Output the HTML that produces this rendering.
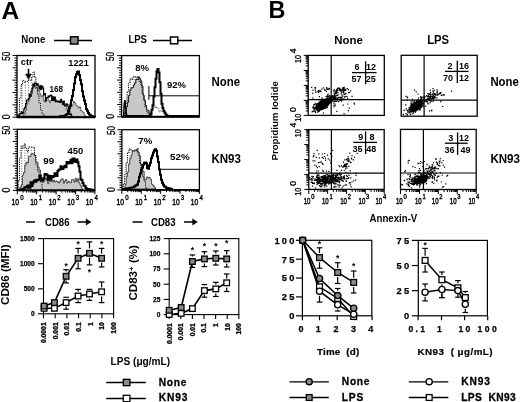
<!DOCTYPE html>
<html><head><meta charset="utf-8"><style>
html,body{margin:0;padding:0;background:#fff;width:520px;height:402px;overflow:hidden}
svg{display:block;will-change:transform}
text{font-family:"Liberation Sans", sans-serif}
</style></head><body>
<svg width="520" height="402" viewBox="0 0 520 402" font-family="Liberation Sans, sans-serif">
<text x="1.5" y="19" font-size="24.5" font-weight="bold" >A</text>
<text x="268.5" y="18" font-size="23.5" font-weight="bold" >B</text>
<text x="21.2" y="43.3" font-size="10" font-weight="bold" textLength="24.2" lengthAdjust="spacingAndGlyphs" >None</text>
<line x1="54" y1="40.5" x2="92" y2="40.5" stroke="#000" stroke-width="1.3" />
<rect x="70.5" y="36.8" width="7.5" height="7.2" fill="#8a8a8a" stroke="#000" stroke-width="1.5" />
<text x="128.5" y="43.3" font-size="10" font-weight="bold" textLength="18.4" lengthAdjust="spacingAndGlyphs" >LPS</text>
<line x1="153" y1="40.5" x2="192" y2="40.5" stroke="#000" stroke-width="1.3" />
<rect x="170.5" y="37" width="7.3" height="6.8" fill="#fff" stroke="#000" stroke-width="1.5" />
<line x1="19.0" y1="117" x2="19.0" y2="113.8" stroke="#555" stroke-width="0.9" stroke-dasharray="1,1.6"/>
<line x1="22.2" y1="117" x2="22.2" y2="84.8" stroke="#555" stroke-width="0.9" stroke-dasharray="1,1.6"/>
<line x1="25.4" y1="117" x2="25.4" y2="82.3" stroke="#555" stroke-width="0.9" stroke-dasharray="1,1.6"/>
<line x1="28.6" y1="117" x2="28.6" y2="79.8" stroke="#555" stroke-width="0.9" stroke-dasharray="1,1.6"/>
<line x1="31.8" y1="117" x2="31.8" y2="77.0" stroke="#555" stroke-width="0.9" stroke-dasharray="1,1.6"/>
<line x1="35.0" y1="117" x2="35.0" y2="77.3" stroke="#555" stroke-width="0.9" stroke-dasharray="1,1.6"/>
<line x1="38.2" y1="117" x2="38.2" y2="94.6" stroke="#555" stroke-width="0.9" stroke-dasharray="1,1.6"/>
<line x1="41.4" y1="117" x2="41.4" y2="109.8" stroke="#555" stroke-width="0.9" stroke-dasharray="1,1.6"/>
<line x1="44.6" y1="117" x2="44.6" y2="115.3" stroke="#555" stroke-width="0.9" stroke-dasharray="1,1.6"/>
<polygon points="23,117 23,115.04 24.2,115.04 24.2,113.8 25.4,113.8 25.4,110.32 26.6,110.32 26.6,104.18 27.8,104.18 27.8,101.78 29.0,101.78 29.0,98.25 30.2,98.25 30.2,96.26 31.4,96.26 31.4,93.94 32.6,93.94 32.6,87.57 33.8,87.57 33.8,84.84 35.0,84.84 35.0,88.28 36.2,88.28 36.2,87.46 37.4,87.46 37.4,91.31 38.6,91.31 38.6,89.81 39.8,89.81 39.8,93.83 41.0,93.83 41.0,96.71 42.2,96.71 42.2,95.44 43.4,95.44 43.4,100.73 44.6,100.73 44.6,102.01 45.8,102.01 45.8,97.65 47.0,97.65 47.0,97.63 48.2,97.63 48.2,100.41 49.4,100.41 49.4,102.7 50.6,102.7 50.6,100.21 51.8,100.21 51.8,99.58 53.0,99.58 53.0,100.61 54.2,100.61 54.2,98.65 55.4,98.65 55.4,99.61 56.6,99.61 56.6,101.29 57.8,101.29 57.8,102.18 59.0,102.18 59.0,101.47 60.2,101.47 60.2,101.85 61.4,101.85 61.4,102.09 62.6,102.09 62.6,103.6 63.8,103.6 63.8,103.75 65.0,103.75 65.0,104.81 66.2,104.81 66.2,109.69 67.4,109.69 67.4,108.28 68.6,108.28 68.6,106.91 69.8,106.91 69.8,103.16 71.0,103.16 71.0,106.4 72.2,106.4 72.2,104.93 73.4,104.93 73.4,101.44 74.6,101.44 74.6,102.9 75.8,102.9 75.8,105.37 77.0,105.37 77.0,106.12 78.2,106.12 78.2,108.05 79.4,108.05 79.4,106.94 80.6,106.94 80.6,110.58 81.8,110.58 81.8,111.65 83.0,111.65 83.0,112.58 84.2,112.58 84.2,115.33 85.4,115.33 86,117" fill="#c8c8c8" stroke="#333" stroke-width="0.7" stroke-linejoin="miter" />
<polyline points="18,117 18,113.75 19.5,113.75 19.5,98.24 21.0,98.24 21.0,84.78 22.5,84.78 22.5,80.42 24.0,80.42 24.0,82.3 25.5,82.3 25.5,81.24 27.0,81.24 27.0,81.29 28.5,81.29 28.5,79.85 30.0,79.85 30.0,80.4 31.5,80.4 31.5,77.0 33.0,77.0 33.0,71.91 34.5,71.91 34.5,77.29 36.0,77.29 36.0,87.4 37.5,87.4 37.5,94.59 39.0,94.59 39.0,102.99 40.5,102.99 40.5,109.85 42.0,109.85 42.0,113.79 43.5,113.79 43.5,115.31 45.0,115.31 45.0,116.74 46,116.74 46,117" fill="none" stroke="#111" stroke-width="1.0" stroke-linejoin="miter" stroke-dasharray="1.2,1"/>
<polyline points="17.5,117 17.5,116.2 18.4,116.2 18.4,115.54 19.3,115.54 19.3,114.78 20.2,114.78 20.2,113.69 21.1,113.69 21.1,111.88 22.0,111.88 22.0,113.62 22.9,113.62 22.9,112.59 23.8,112.59 23.8,109.07 24.7,109.07 24.7,107.29 25.6,107.29 25.6,103.77 26.5,103.77 26.5,100.07 27.4,100.07 27.4,99.96 28.3,99.96 28.3,98.94 29.2,98.94 29.2,93.99 30.1,93.99 30.1,96.51 31.0,96.51 31.0,91.31 31.9,91.31 31.9,88.64 32.8,88.64 32.8,83.97 33.7,83.97 33.7,86.18 34.6,86.18 34.6,83.16 35.5,83.16 35.5,83.39 36.4,83.39 36.4,85.08 37.3,85.08 37.3,83.79 38.2,83.79 38.2,86.73 39.1,86.73 39.1,88.92 40.0,88.92 40.0,85.63 40.9,85.63 40.9,89.52 41.8,89.52 41.8,86.11 42.7,86.11 42.7,88.07 43.6,88.07 43.6,94.96 44.5,94.96 44.5,93.5 45.4,93.5 45.4,100.84 46.3,100.84 46.3,97.54 47.2,97.54 47.2,97.69 48.1,97.69 48.1,95.98 49.0,95.98 49.0,97.01 49.9,97.01 49.9,95.65 50.8,95.65 50.8,95.17 51.7,95.17 51.7,100.52 52.6,100.52 52.6,96.87 53.5,96.87 53.5,100.28 54.4,100.28 54.4,96.99 55.3,96.99 55.3,101.7 56.2,101.7 56.2,101.44 57.1,101.44 57.1,101.09 58.0,101.09 58.0,101.62 58.9,101.62 58.9,101.0 59.8,101.0 59.8,102.38 60.7,102.38 60.7,99.21 61.6,99.21 61.6,101.76 62.5,101.76 62.5,104.3 63.4,104.3 63.4,100.97 64.3,100.97 64.3,105.74 65.2,105.74 65.2,105.95 66.1,105.95 66.1,103.94 67.0,103.94 67.0,104.62 67.9,104.62 67.9,106.76 68.8,106.76 68.8,109.06 69.7,109.06 69.7,114.64 70.6,114.64 70.6,114.06 71.5,114.06 71.5,116.1 72,116.1 72,117" fill="none" stroke="#000" stroke-width="1.15" stroke-linejoin="miter" />
<polyline points="60,117 60,116.37 61.0,116.37 61.0,116.26 62.0,116.26 62.0,116.04 63.0,116.04 63.0,115.95 64.0,115.95 64.0,115.8 65.0,115.8 65.0,115.38 66.0,115.38 66.0,114.53 67.0,114.53 67.0,114.0 68.0,114.0 68.0,111.06 69.0,111.06 69.0,107.97 70.0,107.97 70.0,105.74 71.0,105.74 71.0,100.19 72.0,100.19 72.0,96.01 73.0,96.01 73.0,89.95 74.0,89.95 74.0,83.61 75.0,83.61 75.0,77.3 76.0,77.3 76.0,74.27 77.0,74.27 77.0,72.04 78.0,72.04 78.0,71.42 79.0,71.42 79.0,74.98 80.0,74.98 80.0,80.01 81.0,80.01 81.0,84.35 82.0,84.35 82.0,91.27 83.0,91.27 83.0,96.43 84.0,96.43 84.0,100.6 85.0,100.6 85.0,104.06 86.0,104.06 86.0,108.98 87.0,108.98 87.0,110.7 88.0,110.7 88.0,113.06 89.0,113.06 89.0,114.6 90.0,114.6 90.0,115.37 91.0,115.37 91.0,115.93 92.0,115.93 92.0,116.22 93.0,116.22 93.0,116.66 94.0,116.66 94.0,116.87 95.0,116.87 95,117" fill="none" stroke="#000" stroke-width="2.0" stroke-linejoin="miter" />
<line x1="17.5" y1="116.6" x2="66" y2="116.6" stroke="#000" stroke-width="1.6" />
<line x1="124.5" y1="116.5" x2="124.5" y2="112.7" stroke="#555" stroke-width="0.9" stroke-dasharray="1,1.6"/>
<line x1="127.7" y1="116.5" x2="127.7" y2="91.5" stroke="#555" stroke-width="0.9" stroke-dasharray="1,1.6"/>
<line x1="130.9" y1="116.5" x2="130.9" y2="78.8" stroke="#555" stroke-width="0.9" stroke-dasharray="1,1.6"/>
<line x1="134.1" y1="116.5" x2="134.1" y2="76.4" stroke="#555" stroke-width="0.9" stroke-dasharray="1,1.6"/>
<line x1="137.3" y1="116.5" x2="137.3" y2="77.8" stroke="#555" stroke-width="0.9" stroke-dasharray="1,1.6"/>
<line x1="140.5" y1="116.5" x2="140.5" y2="81.4" stroke="#555" stroke-width="0.9" stroke-dasharray="1,1.6"/>
<line x1="143.7" y1="116.5" x2="143.7" y2="99.7" stroke="#555" stroke-width="0.9" stroke-dasharray="1,1.6"/>
<line x1="146.9" y1="116.5" x2="146.9" y2="111.5" stroke="#555" stroke-width="0.9" stroke-dasharray="1,1.6"/>
<polygon points="125,116.5 125,113.39 126.2,113.39 126.2,106.87 127.4,106.87 127.4,102.48 128.6,102.48 128.6,95.47 129.8,95.47 129.8,90.23 131.0,90.23 131.0,88.01 132.2,88.01 132.2,87.59 133.4,87.59 133.4,85.0 134.6,85.0 134.6,83.13 135.8,83.13 135.8,79.21 137.0,79.21 137.0,79.58 138.2,79.58 138.2,77.08 139.4,77.08 139.4,78.36 140.6,78.36 140.6,80.83 141.8,80.83 141.8,86.17 143.0,86.17 143.0,95.14 144.2,95.14 144.2,100.64 145.4,100.64 145.4,105.53 146.6,105.53 146.6,110.0 147.8,110.0 147.8,110.22 149.0,110.22 149.0,113.66 150.2,113.66 150.2,116.19 151,116.19 151,116.5" fill="#c8c8c8" stroke="#111" stroke-width="1.0" stroke-linejoin="miter" />
<polyline points="124,116.5 124,112.69 125.5,112.69 125.5,103.21 127.0,103.21 127.0,91.48 128.5,91.48 128.5,83.21 130.0,83.21 130.0,78.82 131.5,78.82 131.5,79.36 133.0,79.36 133.0,76.4 134.5,76.4 134.5,76.95 136.0,76.95 136.0,77.84 137.5,77.84 137.5,76.37 139.0,76.37 139.0,81.38 140.5,81.38 140.5,84.32 142.0,84.32 142.0,93.6 143.5,93.6 143.5,99.73 145.0,99.73 145.0,107.22 146.5,107.22 146.5,111.46 148.0,111.46 148.0,113.42 149.5,113.42 150,116.5" fill="none" stroke="#111" stroke-width="1.0" stroke-linejoin="miter" stroke-dasharray="1.2,1"/>
<polyline points="148,116.5 148,115.78 149.2,115.78 149.2,114.38 150.4,114.38 150.4,111.96 151.6,111.96 151.6,109.45 152.8,109.45 152.8,106.8 154.0,106.8 154.0,108.05 155.2,108.05 155.2,106.08 156.4,106.08 156.4,108.04 157.6,108.04 157.6,107.89 158.8,107.89 158.8,111.83 160.0,111.83 160.0,110.63 161.2,110.63 161.2,111.41 162.4,111.41 162.4,111.84 163.6,111.84 163.6,111.95 164.8,111.95 164.8,113.54 166.0,113.54 166.0,115.06 167.2,115.06 167.2,116.22 168,116.22 168,116.5" fill="none" stroke="#555" stroke-width="0.8" stroke-linejoin="miter" stroke-dasharray="1.2,0.8"/>
<polyline points="123.5,116 123.5,116 124.5,116 124.5,116 125.5,116 125.5,116 126.5,116 126.5,116 127.5,116 127.5,116 128.5,116 128.5,116 129.5,116 129.5,116 130.5,116 130.5,116 131.5,116 131.5,116 132.5,116 132.5,116 133.5,116 133.5,116 134.5,116 134.5,116 135.5,116 135.5,116 136.5,116 136.5,116 137.5,116 137.5,116 138.5,116 138.5,116 139.5,116 139.5,116 140.5,116 140.5,116 141.5,116 141.5,116 142.5,116 142.5,116 143.5,116 143.5,116 144.5,116 144.5,116 145.5,116 145.5,116 146.5,116 146.5,116 147.5,116 147.5,116 148.5,116 148.5,116 149.5,116 149.5,116 150.5,116 150.5,114.21 151.5,114.21 151.5,109.73 152.5,109.73 152.5,105.16 153.5,105.16 153.5,96.61 154.5,96.61 154.5,87.13 155.5,87.13 155.5,78.76 156.5,78.76 156.5,71.13 157.5,71.13 157.5,69.12 158.5,69.12 158.5,72.41 159.5,72.41 159.5,82.36 160.5,82.36 160.5,93.86 161.5,93.86 161.5,103.63 162.5,103.63 162.5,108.17 163.5,108.17 163.5,110.92 164.5,110.92 164.5,112.8 165.5,112.8 165.5,114.56 166.5,114.56 166.5,115.25 167.5,115.25 167.5,116 168.5,116 168.5,116 169.5,116 169.5,116 170.5,116 170.5,116 171.5,116 171.5,116 172.5,116 172.5,116 173.5,116 173.5,116 174.5,116 174.5,116 175.5,116 175.5,116 176.5,116 176.5,116 177.5,116 177.5,116 178.5,116 178.5,116 179.5,116 179.5,116 180.5,116 180.5,116 181.5,116 181.5,116 182.5,116 182.5,116 183.5,116 183.5,116 184.5,116 184.5,116 185.5,116 185.5,116 186.5,116 186.5,116 187.5,116 187.5,116 188.5,116 188.5,116 189.5,116 189.5,116 190.5,116 190.5,116 191.5,116 191.5,116 192.5,116 192.5,116 193.5,116 193.5,116 194.5,116 194.5,116 195.5,116 195.5,116 196.5,116 196.5,116 197.5,116 197.5,116 198.5,116 198.5,116 199,116 199,116" fill="none" stroke="#000" stroke-width="2.0" stroke-linejoin="miter" />
<polyline points="123.6,116.5 124.2,104 125,100 126,112 127,116.5" fill="none" stroke="#000" stroke-width="1.5" stroke-linejoin="miter" />
<line x1="148.5" y1="95.8" x2="199.4" y2="95.8" stroke="#000" stroke-width="1" />
<line x1="148.9" y1="86" x2="148.9" y2="100" stroke="#000" stroke-width="1" />
<line x1="18.5" y1="190" x2="18.5" y2="180.8" stroke="#555" stroke-width="0.9" stroke-dasharray="1,1.6"/>
<line x1="21.7" y1="190" x2="21.7" y2="145.8" stroke="#555" stroke-width="0.9" stroke-dasharray="1,1.6"/>
<line x1="24.9" y1="190" x2="24.9" y2="143.9" stroke="#555" stroke-width="0.9" stroke-dasharray="1,1.6"/>
<line x1="28.1" y1="190" x2="28.1" y2="151.8" stroke="#555" stroke-width="0.9" stroke-dasharray="1,1.6"/>
<line x1="31.3" y1="190" x2="31.3" y2="146.8" stroke="#555" stroke-width="0.9" stroke-dasharray="1,1.6"/>
<line x1="34.5" y1="190" x2="34.5" y2="147.2" stroke="#555" stroke-width="0.9" stroke-dasharray="1,1.6"/>
<line x1="37.7" y1="190" x2="37.7" y2="171.0" stroke="#555" stroke-width="0.9" stroke-dasharray="1,1.6"/>
<line x1="40.9" y1="190" x2="40.9" y2="181.8" stroke="#555" stroke-width="0.9" stroke-dasharray="1,1.6"/>
<polygon points="20,190 20,187.05 21.2,187.05 21.2,185.11 22.4,185.11 22.4,175.13 23.6,175.13 23.6,172.32 24.8,172.32 24.8,165.03 26.0,165.03 26.0,162.24 27.2,162.24 27.2,163.0 28.4,163.0 28.4,156.55 29.6,156.55 29.6,156.51 30.8,156.51 30.8,154.4 32.0,154.4 32.0,153.57 33.2,153.57 33.2,154.17 34.4,154.17 34.4,155.46 35.6,155.46 35.6,162.25 36.8,162.25 36.8,162.35 38.0,162.35 38.0,167.27 39.2,167.27 39.2,170.0 40.4,170.0 40.4,174.83 41.6,174.83 41.6,177.94 42.8,177.94 42.8,182.09 44.0,182.09 44.0,179.72 45.2,179.72 45.2,178.63 46.4,178.63 46.4,179.59 47.6,179.59 47.6,183.46 48.8,183.46 48.8,178.82 50.0,178.82 50.0,181.6 51.2,181.6 51.2,180.39 52.4,180.39 52.4,181.8 53.6,181.8 53.6,180.19 54.8,180.19 54.8,181.96 56.0,181.96 56.0,180.99 57.2,180.99 57.2,181.75 58.4,181.75 58.4,183.01 59.6,183.01 59.6,181.41 60.8,181.41 60.8,179.21 62.0,179.21 62.0,178.82 63.2,178.82 63.2,183.23 64.4,183.23 64.4,180.94 65.6,180.94 65.6,179.47 66.8,179.47 66.8,183.23 68.0,183.23 68.0,181.39 69.2,181.39 69.2,182.14 70.4,182.14 70.4,182.74 71.6,182.74 71.6,179.56 72.8,179.56 72.8,179.72 74.0,179.72 74.0,182.12 75.2,182.12 75.2,178.21 76.4,178.21 76.4,181.65 77.6,181.65 77.6,178.72 78.8,178.72 78.8,182.75 80.0,182.75 80.0,185.18 81.2,185.18 81.2,188.12 82.4,188.12 83,190" fill="#c8c8c8" stroke="#222" stroke-width="0.8" stroke-linejoin="miter" />
<polyline points="18,190 18,180.78 19.5,180.78 19.5,158.24 21.0,158.24 21.0,145.83 22.5,145.83 22.5,148.5 24.0,148.5 24.0,143.94 25.5,143.94 25.5,148.27 27.0,148.27 27.0,151.76 28.5,151.76 28.5,146.98 30.0,146.98 30.0,146.83 31.5,146.83 31.5,147.32 33.0,147.32 33.0,147.25 34.5,147.25 34.5,155.52 36.0,155.52 36.0,164.97 37.5,164.97 37.5,170.96 39.0,170.96 39.0,179.35 40.5,179.35 40.5,181.82 42.0,181.82 42.0,188.9 43,188.9 43,190" fill="none" stroke="#111" stroke-width="1.0" stroke-linejoin="miter" stroke-dasharray="1.2,1"/>
<polyline points="17.5,190 17.5,189.93 18.5,189.93 18.5,189.77 19.5,189.77 19.5,189.67 20.5,189.67 20.5,189.35 21.5,189.35 21.5,189.4 22.5,189.4 22.5,189.15 23.5,189.15 23.5,188.62 24.5,188.62 24.5,187.32 25.5,187.32 25.5,187.55 26.5,187.55 26.5,186.48 27.5,186.48 27.5,185.62 28.5,185.62 28.5,187.76 29.5,187.76 29.5,187.63 30.5,187.63 30.5,182.14 31.5,182.14 31.5,185.96 32.5,185.96 32.5,183.62 33.5,183.62 33.5,181.54 34.5,181.54 34.5,180.2 35.5,180.2 35.5,181.75 36.5,181.75 36.5,179.64 37.5,179.64 37.5,180.32 38.5,180.32 38.5,179.57 39.5,179.57 39.5,175.8 40.5,175.8 40.5,179.41 41.5,179.41 41.5,180.49 42.5,180.49 42.5,180.22 43.5,180.22 43.5,177.88 44.5,177.88 44.5,174.27 45.5,174.27 45.5,174.02 46.5,174.02 46.5,174.8 47.5,174.8 47.5,179.65 48.5,179.65 48.5,175.82 49.5,175.82 49.5,176.2 50.5,176.2 50.5,179.39 51.5,179.39 51.5,175.89 52.5,175.89 52.5,177.29 53.5,177.29 53.5,176.22 54.5,176.22 54.5,173.19 55.5,173.19 55.5,175.51 56.5,175.51 56.5,176.06 57.5,176.06 57.5,170.94 58.5,170.94 58.5,169.85 59.5,169.85 59.5,169.48 60.5,169.48 60.5,166.22 61.5,166.22 61.5,167.98 62.5,167.98 62.5,168.91 63.5,168.91 63.5,166.95 64.5,166.95 64.5,165.7 65.5,165.7 65.5,167.13 66.5,167.13 66.5,161.9 67.5,161.9 67.5,163.4 68.5,163.4 68.5,162.0 69.5,162.0 69.5,163.11 70.5,163.11 70.5,159.68 71.5,159.68 71.5,163.15 72.5,163.15 72.5,158.58 73.5,158.58 73.5,158.5 74.5,158.5 74.5,161.62 75.5,161.62 75.5,162.02 76.5,162.02 76.5,159.6 77.5,159.6 77.5,162.48 78.5,162.48 78.5,166.35 79.5,166.35 79.5,171.65 80.5,171.65 80.5,179.2 81.5,179.2 81.5,180.16 82.5,180.16 82.5,182.96 83.5,182.96 83.5,185.72 84.5,185.72 84.5,185.86 85.5,185.86 85.5,188.12 86.5,188.12 86.5,188.79 87.5,188.79 87.5,189.02 88.5,189.02 88.5,189.05 89.5,189.05 89.5,189.42 90.5,189.42 90.5,189.6 91.5,189.6 91.5,189.63 92.5,189.63 92.5,189.9 93.5,189.9 93.5,190 94,190 94,190" fill="none" stroke="#000" stroke-width="2.0" stroke-linejoin="miter" />
<line x1="123.5" y1="189.5" x2="123.5" y2="184.4" stroke="#555" stroke-width="0.9" stroke-dasharray="1,1.6"/>
<line x1="126.7" y1="189.5" x2="126.7" y2="162.8" stroke="#555" stroke-width="0.9" stroke-dasharray="1,1.6"/>
<line x1="129.9" y1="189.5" x2="129.9" y2="148.8" stroke="#555" stroke-width="0.9" stroke-dasharray="1,1.6"/>
<line x1="133.1" y1="189.5" x2="133.1" y2="150.6" stroke="#555" stroke-width="0.9" stroke-dasharray="1,1.6"/>
<line x1="136.3" y1="189.5" x2="136.3" y2="149.7" stroke="#555" stroke-width="0.9" stroke-dasharray="1,1.6"/>
<line x1="139.5" y1="189.5" x2="139.5" y2="155.5" stroke="#555" stroke-width="0.9" stroke-dasharray="1,1.6"/>
<line x1="142.7" y1="189.5" x2="142.7" y2="176.7" stroke="#555" stroke-width="0.9" stroke-dasharray="1,1.6"/>
<line x1="145.9" y1="189.5" x2="145.9" y2="187.8" stroke="#555" stroke-width="0.9" stroke-dasharray="1,1.6"/>
<polygon points="125,189 125,184.63 126.2,184.63 126.2,176.7 127.4,176.7 127.4,172.12 128.6,172.12 128.6,163.93 129.8,163.93 129.8,158.74 131.0,158.74 131.0,155.24 132.2,155.24 132.2,150.82 133.4,150.82 133.4,151.06 134.6,151.06 134.6,150.55 135.8,150.55 135.8,150.76 137.0,150.76 137.0,148.47 138.2,148.47 138.2,152.52 139.4,152.52 139.4,155.95 140.6,155.95 140.6,164.55 141.8,164.55 141.8,169.97 143.0,169.97 143.0,171.51 144.2,171.51 144.2,179.81 145.4,179.81 145.4,179.32 146.6,179.32 146.6,176.97 147.8,176.97 147.8,177.98 149.0,177.98 149.0,177.49 150.2,177.49 150.2,179.18 151.4,179.18 151.4,184.12 152.6,184.12 152.6,185.17 153.8,185.17 153.8,186.99 155.0,186.99 155.0,188.51 156,188.51 156,189" fill="#c8c8c8" stroke="#222" stroke-width="0.8" stroke-linejoin="miter" />
<polyline points="123,189 123,184.4 124.5,184.4 124.5,174.79 126.0,174.79 126.0,162.83 127.5,162.83 127.5,152.21 129.0,152.21 129.0,148.8 130.5,148.8 130.5,149.62 132.0,149.62 132.0,150.62 133.5,150.62 133.5,151.05 135.0,151.05 135.0,149.7 136.5,149.7 136.5,151.26 138.0,151.26 138.0,155.54 139.5,155.54 139.5,163.06 141.0,163.06 141.0,167.98 142.5,167.98 142.5,176.7 144.0,176.7 144.0,181.31 145.5,181.31 145.5,187.76 147.0,187.76 147,189" fill="none" stroke="#111" stroke-width="1.0" stroke-linejoin="miter" stroke-dasharray="1.2,1"/>
<polyline points="123,189 123,188.92 124.0,188.92 124.0,188.8 125.0,188.8 125.0,188.67 126.0,188.67 126.0,188.57 127.0,188.57 127.0,188.28 128.0,188.28 128.0,188.13 129.0,188.13 129.0,187.94 130.0,187.94 130.0,187.75 131.0,187.75 131.0,187.75 132.0,187.75 132.0,187.13 133.0,187.13 133.0,187.15 134.0,187.15 134.0,186.4 135.0,186.4 135.0,185.75 136.0,185.75 136.0,185.23 137.0,185.23 137.0,184.46 138.0,184.46 138.0,181.51 139.0,181.51 139.0,176.83 140.0,176.83 140.0,173.46 141.0,173.46 141.0,169.4 142.0,169.4 142.0,167.64 143.0,167.64 143.0,164.74 144.0,164.74 144.0,162.73 145.0,162.73 145.0,162.45 146.0,162.45 146.0,163.59 147.0,163.59 147.0,168.08 148.0,168.08 148.0,168.71 149.0,168.71 149.0,165.42 150.0,165.42 150.0,162.84 151.0,162.84 151.0,158.3 152.0,158.3 152.0,155.61 153.0,155.61 153.0,152.49 154.0,152.49 154.0,150.33 155.0,150.33 155.0,149.17 156.0,149.17 156.0,150.83 157.0,150.83 157.0,156.55 158.0,156.55 158.0,162.08 159.0,162.08 159.0,169.43 160.0,169.43 160.0,174.72 161.0,174.72 161.0,179.83 162.0,179.83 162.0,182.71 163.0,182.71 163.0,184.84 164.0,184.84 164.0,186.6 165.0,186.6 165.0,186.71 166.0,186.71 166.0,187.76 167.0,187.76 167.0,188.08 168.0,188.08 168.0,188.21 169.0,188.21 169.0,188.44 170.0,188.44 170.0,188.7 171.0,188.7 171.0,188.89 172.0,188.89 172,189" fill="none" stroke="#000" stroke-width="2.0" stroke-linejoin="miter" />
<line x1="158" y1="169.3" x2="199.4" y2="169.3" stroke="#000" stroke-width="1" />
<rect x="17" y="55.5" width="78" height="61.7" fill="none" stroke="#000" stroke-width="1.3" />
<line x1="17" y1="117.2" x2="95" y2="117.2" stroke="#000" stroke-width="1.9" />
<line x1="12.5" y1="117.2" x2="17" y2="117.2" stroke="#000" stroke-width="1" />
<line x1="14.5" y1="114.732" x2="17" y2="114.732" stroke="#000" stroke-width="1" />
<line x1="14.5" y1="112.26400000000001" x2="17" y2="112.26400000000001" stroke="#000" stroke-width="1" />
<line x1="14.5" y1="109.796" x2="17" y2="109.796" stroke="#000" stroke-width="1" />
<line x1="14.5" y1="107.328" x2="17" y2="107.328" stroke="#000" stroke-width="1" />
<line x1="12.5" y1="104.86" x2="17" y2="104.86" stroke="#000" stroke-width="1" />
<line x1="14.5" y1="102.392" x2="17" y2="102.392" stroke="#000" stroke-width="1" />
<line x1="14.5" y1="99.924" x2="17" y2="99.924" stroke="#000" stroke-width="1" />
<line x1="14.5" y1="97.456" x2="17" y2="97.456" stroke="#000" stroke-width="1" />
<line x1="14.5" y1="94.988" x2="17" y2="94.988" stroke="#000" stroke-width="1" />
<line x1="12.5" y1="92.52000000000001" x2="17" y2="92.52000000000001" stroke="#000" stroke-width="1" />
<line x1="14.5" y1="90.05199999999999" x2="17" y2="90.05199999999999" stroke="#000" stroke-width="1" />
<line x1="14.5" y1="87.584" x2="17" y2="87.584" stroke="#000" stroke-width="1" />
<line x1="14.5" y1="85.116" x2="17" y2="85.116" stroke="#000" stroke-width="1" />
<line x1="14.5" y1="82.648" x2="17" y2="82.648" stroke="#000" stroke-width="1" />
<line x1="12.5" y1="80.18" x2="17" y2="80.18" stroke="#000" stroke-width="1" />
<line x1="14.5" y1="77.712" x2="17" y2="77.712" stroke="#000" stroke-width="1" />
<line x1="14.5" y1="75.244" x2="17" y2="75.244" stroke="#000" stroke-width="1" />
<line x1="14.5" y1="72.776" x2="17" y2="72.776" stroke="#000" stroke-width="1" />
<line x1="14.5" y1="70.308" x2="17" y2="70.308" stroke="#000" stroke-width="1" />
<line x1="12.5" y1="67.84" x2="17" y2="67.84" stroke="#000" stroke-width="1" />
<line x1="14.5" y1="65.372" x2="17" y2="65.372" stroke="#000" stroke-width="1" />
<line x1="14.5" y1="62.903999999999996" x2="17" y2="62.903999999999996" stroke="#000" stroke-width="1" />
<line x1="14.5" y1="60.436" x2="17" y2="60.436" stroke="#000" stroke-width="1" />
<line x1="14.5" y1="57.967999999999996" x2="17" y2="57.967999999999996" stroke="#000" stroke-width="1" />
<line x1="12.5" y1="55.5" x2="17" y2="55.5" stroke="#000" stroke-width="1" />
<text x="9.8" y="60.8" font-size="10.5" stroke="#000" stroke-width="0.3" textLength="8.9" lengthAdjust="spacingAndGlyphs" transform="rotate(-90 9.8 60.8)" >50</text>
<text x="9.8" y="119.2" font-size="10.5" stroke="#000" stroke-width="0.3" textLength="4.9" lengthAdjust="spacingAndGlyphs" transform="rotate(-90 9.8 119.2)" >0</text>
<rect x="121.6" y="55.6" width="77.80000000000001" height="61.199999999999996" fill="none" stroke="#000" stroke-width="1.3" />
<line x1="121.6" y1="116.8" x2="199.4" y2="116.8" stroke="#000" stroke-width="1.9" />
<line x1="117.1" y1="116.8" x2="121.6" y2="116.8" stroke="#000" stroke-width="1" />
<line x1="119.1" y1="114.352" x2="121.6" y2="114.352" stroke="#000" stroke-width="1" />
<line x1="119.1" y1="111.904" x2="121.6" y2="111.904" stroke="#000" stroke-width="1" />
<line x1="119.1" y1="109.456" x2="121.6" y2="109.456" stroke="#000" stroke-width="1" />
<line x1="119.1" y1="107.008" x2="121.6" y2="107.008" stroke="#000" stroke-width="1" />
<line x1="117.1" y1="104.56" x2="121.6" y2="104.56" stroke="#000" stroke-width="1" />
<line x1="119.1" y1="102.112" x2="121.6" y2="102.112" stroke="#000" stroke-width="1" />
<line x1="119.1" y1="99.664" x2="121.6" y2="99.664" stroke="#000" stroke-width="1" />
<line x1="119.1" y1="97.216" x2="121.6" y2="97.216" stroke="#000" stroke-width="1" />
<line x1="119.1" y1="94.768" x2="121.6" y2="94.768" stroke="#000" stroke-width="1" />
<line x1="117.1" y1="92.32" x2="121.6" y2="92.32" stroke="#000" stroke-width="1" />
<line x1="119.1" y1="89.872" x2="121.6" y2="89.872" stroke="#000" stroke-width="1" />
<line x1="119.1" y1="87.424" x2="121.6" y2="87.424" stroke="#000" stroke-width="1" />
<line x1="119.1" y1="84.976" x2="121.6" y2="84.976" stroke="#000" stroke-width="1" />
<line x1="119.1" y1="82.52799999999999" x2="121.6" y2="82.52799999999999" stroke="#000" stroke-width="1" />
<line x1="117.1" y1="80.08" x2="121.6" y2="80.08" stroke="#000" stroke-width="1" />
<line x1="119.1" y1="77.632" x2="121.6" y2="77.632" stroke="#000" stroke-width="1" />
<line x1="119.1" y1="75.184" x2="121.6" y2="75.184" stroke="#000" stroke-width="1" />
<line x1="119.1" y1="72.736" x2="121.6" y2="72.736" stroke="#000" stroke-width="1" />
<line x1="119.1" y1="70.288" x2="121.6" y2="70.288" stroke="#000" stroke-width="1" />
<line x1="117.1" y1="67.84" x2="121.6" y2="67.84" stroke="#000" stroke-width="1" />
<line x1="119.1" y1="65.392" x2="121.6" y2="65.392" stroke="#000" stroke-width="1" />
<line x1="119.1" y1="62.944" x2="121.6" y2="62.944" stroke="#000" stroke-width="1" />
<line x1="119.1" y1="60.496" x2="121.6" y2="60.496" stroke="#000" stroke-width="1" />
<line x1="119.1" y1="58.048" x2="121.6" y2="58.048" stroke="#000" stroke-width="1" />
<line x1="117.1" y1="55.599999999999994" x2="121.6" y2="55.599999999999994" stroke="#000" stroke-width="1" />
<text x="114.39999999999999" y="60.9" font-size="10.5" stroke="#000" stroke-width="0.3" textLength="8.9" lengthAdjust="spacingAndGlyphs" transform="rotate(-90 114.39999999999999 60.9)" >50</text>
<text x="114.39999999999999" y="118.8" font-size="10.5" stroke="#000" stroke-width="0.3" textLength="4.9" lengthAdjust="spacingAndGlyphs" transform="rotate(-90 114.39999999999999 118.8)" >0</text>
<rect x="17.3" y="129.3" width="77.60000000000001" height="61.099999999999994" fill="none" stroke="#000" stroke-width="1.3" />
<line x1="17.3" y1="190.4" x2="94.9" y2="190.4" stroke="#000" stroke-width="1.9" />
<line x1="12.8" y1="190.4" x2="17.3" y2="190.4" stroke="#000" stroke-width="1" />
<line x1="14.8" y1="187.95600000000002" x2="17.3" y2="187.95600000000002" stroke="#000" stroke-width="1" />
<line x1="14.8" y1="185.512" x2="17.3" y2="185.512" stroke="#000" stroke-width="1" />
<line x1="14.8" y1="183.068" x2="17.3" y2="183.068" stroke="#000" stroke-width="1" />
<line x1="14.8" y1="180.624" x2="17.3" y2="180.624" stroke="#000" stroke-width="1" />
<line x1="12.8" y1="178.18" x2="17.3" y2="178.18" stroke="#000" stroke-width="1" />
<line x1="14.8" y1="175.73600000000002" x2="17.3" y2="175.73600000000002" stroke="#000" stroke-width="1" />
<line x1="14.8" y1="173.292" x2="17.3" y2="173.292" stroke="#000" stroke-width="1" />
<line x1="14.8" y1="170.848" x2="17.3" y2="170.848" stroke="#000" stroke-width="1" />
<line x1="14.8" y1="168.404" x2="17.3" y2="168.404" stroke="#000" stroke-width="1" />
<line x1="12.8" y1="165.96" x2="17.3" y2="165.96" stroke="#000" stroke-width="1" />
<line x1="14.8" y1="163.51600000000002" x2="17.3" y2="163.51600000000002" stroke="#000" stroke-width="1" />
<line x1="14.8" y1="161.072" x2="17.3" y2="161.072" stroke="#000" stroke-width="1" />
<line x1="14.8" y1="158.62800000000001" x2="17.3" y2="158.62800000000001" stroke="#000" stroke-width="1" />
<line x1="14.8" y1="156.18400000000003" x2="17.3" y2="156.18400000000003" stroke="#000" stroke-width="1" />
<line x1="12.8" y1="153.74" x2="17.3" y2="153.74" stroke="#000" stroke-width="1" />
<line x1="14.8" y1="151.296" x2="17.3" y2="151.296" stroke="#000" stroke-width="1" />
<line x1="14.8" y1="148.852" x2="17.3" y2="148.852" stroke="#000" stroke-width="1" />
<line x1="14.8" y1="146.40800000000002" x2="17.3" y2="146.40800000000002" stroke="#000" stroke-width="1" />
<line x1="14.8" y1="143.964" x2="17.3" y2="143.964" stroke="#000" stroke-width="1" />
<line x1="12.8" y1="141.52" x2="17.3" y2="141.52" stroke="#000" stroke-width="1" />
<line x1="14.8" y1="139.07600000000002" x2="17.3" y2="139.07600000000002" stroke="#000" stroke-width="1" />
<line x1="14.8" y1="136.632" x2="17.3" y2="136.632" stroke="#000" stroke-width="1" />
<line x1="14.8" y1="134.18800000000002" x2="17.3" y2="134.18800000000002" stroke="#000" stroke-width="1" />
<line x1="14.8" y1="131.74400000000003" x2="17.3" y2="131.74400000000003" stroke="#000" stroke-width="1" />
<line x1="12.8" y1="129.3" x2="17.3" y2="129.3" stroke="#000" stroke-width="1" />
<line x1="17.3" y1="190.4" x2="17.3" y2="194.4" stroke="#000" stroke-width="1" />
<line x1="23.139981915881236" y1="190.4" x2="23.139981915881236" y2="192.6" stroke="#000" stroke-width="1" />
<line x1="26.556152341561454" y1="190.4" x2="26.556152341561454" y2="192.6" stroke="#000" stroke-width="1" />
<line x1="28.979963831762472" y1="190.4" x2="28.979963831762472" y2="192.6" stroke="#000" stroke-width="1" />
<line x1="30.860018084118767" y1="190.4" x2="30.860018084118767" y2="192.6" stroke="#000" stroke-width="1" />
<line x1="32.39613425744269" y1="190.4" x2="32.39613425744269" y2="192.6" stroke="#000" stroke-width="1" />
<line x1="33.69490197627658" y1="190.4" x2="33.69490197627658" y2="192.6" stroke="#000" stroke-width="1" />
<line x1="34.81994574764371" y1="190.4" x2="34.81994574764371" y2="192.6" stroke="#000" stroke-width="1" />
<line x1="35.8123046831229" y1="190.4" x2="35.8123046831229" y2="192.6" stroke="#000" stroke-width="1" />
<line x1="36.7" y1="190.4" x2="36.7" y2="194.4" stroke="#000" stroke-width="1" />
<line x1="42.53998191588124" y1="190.4" x2="42.53998191588124" y2="192.6" stroke="#000" stroke-width="1" />
<line x1="45.95615234156145" y1="190.4" x2="45.95615234156145" y2="192.6" stroke="#000" stroke-width="1" />
<line x1="48.37996383176248" y1="190.4" x2="48.37996383176248" y2="192.6" stroke="#000" stroke-width="1" />
<line x1="50.26001808411877" y1="190.4" x2="50.26001808411877" y2="192.6" stroke="#000" stroke-width="1" />
<line x1="51.79613425744269" y1="190.4" x2="51.79613425744269" y2="192.6" stroke="#000" stroke-width="1" />
<line x1="53.09490197627659" y1="190.4" x2="53.09490197627659" y2="192.6" stroke="#000" stroke-width="1" />
<line x1="54.219945747643706" y1="190.4" x2="54.219945747643706" y2="192.6" stroke="#000" stroke-width="1" />
<line x1="55.21230468312291" y1="190.4" x2="55.21230468312291" y2="192.6" stroke="#000" stroke-width="1" />
<line x1="56.10000000000001" y1="190.4" x2="56.10000000000001" y2="194.4" stroke="#000" stroke-width="1" />
<line x1="61.93998191588125" y1="190.4" x2="61.93998191588125" y2="192.6" stroke="#000" stroke-width="1" />
<line x1="65.35615234156145" y1="190.4" x2="65.35615234156145" y2="192.6" stroke="#000" stroke-width="1" />
<line x1="67.77996383176247" y1="190.4" x2="67.77996383176247" y2="192.6" stroke="#000" stroke-width="1" />
<line x1="69.66001808411878" y1="190.4" x2="69.66001808411878" y2="192.6" stroke="#000" stroke-width="1" />
<line x1="71.1961342574427" y1="190.4" x2="71.1961342574427" y2="192.6" stroke="#000" stroke-width="1" />
<line x1="72.4949019762766" y1="190.4" x2="72.4949019762766" y2="192.6" stroke="#000" stroke-width="1" />
<line x1="73.61994574764371" y1="190.4" x2="73.61994574764371" y2="192.6" stroke="#000" stroke-width="1" />
<line x1="74.6123046831229" y1="190.4" x2="74.6123046831229" y2="192.6" stroke="#000" stroke-width="1" />
<line x1="75.5" y1="190.4" x2="75.5" y2="194.4" stroke="#000" stroke-width="1" />
<line x1="81.33998191588124" y1="190.4" x2="81.33998191588124" y2="192.6" stroke="#000" stroke-width="1" />
<line x1="84.75615234156146" y1="190.4" x2="84.75615234156146" y2="192.6" stroke="#000" stroke-width="1" />
<line x1="87.17996383176248" y1="190.4" x2="87.17996383176248" y2="192.6" stroke="#000" stroke-width="1" />
<line x1="89.06001808411877" y1="190.4" x2="89.06001808411877" y2="192.6" stroke="#000" stroke-width="1" />
<line x1="90.5961342574427" y1="190.4" x2="90.5961342574427" y2="192.6" stroke="#000" stroke-width="1" />
<line x1="91.89490197627659" y1="190.4" x2="91.89490197627659" y2="192.6" stroke="#000" stroke-width="1" />
<line x1="93.01994574764372" y1="190.4" x2="93.01994574764372" y2="192.6" stroke="#000" stroke-width="1" />
<line x1="94.0123046831229" y1="190.4" x2="94.0123046831229" y2="192.6" stroke="#000" stroke-width="1" />
<line x1="94.9" y1="190.4" x2="94.9" y2="194.4" stroke="#000" stroke-width="1" />
<text x="10.100000000000001" y="134.60000000000002" font-size="10.5" stroke="#000" stroke-width="0.3" textLength="8.9" lengthAdjust="spacingAndGlyphs" transform="rotate(-90 10.100000000000001 134.60000000000002)" >50</text>
<text x="10.100000000000001" y="192.4" font-size="10.5" stroke="#000" stroke-width="0.3" textLength="4.9" lengthAdjust="spacingAndGlyphs" transform="rotate(-90 10.100000000000001 192.4)" >0</text>
<rect x="121.9" y="129.7" width="77.5" height="60.20000000000002" fill="none" stroke="#000" stroke-width="1.3" />
<line x1="121.9" y1="189.9" x2="199.4" y2="189.9" stroke="#000" stroke-width="1.9" />
<line x1="117.4" y1="189.9" x2="121.9" y2="189.9" stroke="#000" stroke-width="1" />
<line x1="119.4" y1="187.49200000000002" x2="121.9" y2="187.49200000000002" stroke="#000" stroke-width="1" />
<line x1="119.4" y1="185.084" x2="121.9" y2="185.084" stroke="#000" stroke-width="1" />
<line x1="119.4" y1="182.67600000000002" x2="121.9" y2="182.67600000000002" stroke="#000" stroke-width="1" />
<line x1="119.4" y1="180.268" x2="121.9" y2="180.268" stroke="#000" stroke-width="1" />
<line x1="117.4" y1="177.86" x2="121.9" y2="177.86" stroke="#000" stroke-width="1" />
<line x1="119.4" y1="175.452" x2="121.9" y2="175.452" stroke="#000" stroke-width="1" />
<line x1="119.4" y1="173.044" x2="121.9" y2="173.044" stroke="#000" stroke-width="1" />
<line x1="119.4" y1="170.636" x2="121.9" y2="170.636" stroke="#000" stroke-width="1" />
<line x1="119.4" y1="168.228" x2="121.9" y2="168.228" stroke="#000" stroke-width="1" />
<line x1="117.4" y1="165.82" x2="121.9" y2="165.82" stroke="#000" stroke-width="1" />
<line x1="119.4" y1="163.412" x2="121.9" y2="163.412" stroke="#000" stroke-width="1" />
<line x1="119.4" y1="161.004" x2="121.9" y2="161.004" stroke="#000" stroke-width="1" />
<line x1="119.4" y1="158.596" x2="121.9" y2="158.596" stroke="#000" stroke-width="1" />
<line x1="119.4" y1="156.188" x2="121.9" y2="156.188" stroke="#000" stroke-width="1" />
<line x1="117.4" y1="153.78" x2="121.9" y2="153.78" stroke="#000" stroke-width="1" />
<line x1="119.4" y1="151.37199999999999" x2="121.9" y2="151.37199999999999" stroke="#000" stroke-width="1" />
<line x1="119.4" y1="148.964" x2="121.9" y2="148.964" stroke="#000" stroke-width="1" />
<line x1="119.4" y1="146.55599999999998" x2="121.9" y2="146.55599999999998" stroke="#000" stroke-width="1" />
<line x1="119.4" y1="144.148" x2="121.9" y2="144.148" stroke="#000" stroke-width="1" />
<line x1="117.4" y1="141.73999999999998" x2="121.9" y2="141.73999999999998" stroke="#000" stroke-width="1" />
<line x1="119.4" y1="139.332" x2="121.9" y2="139.332" stroke="#000" stroke-width="1" />
<line x1="119.4" y1="136.92399999999998" x2="121.9" y2="136.92399999999998" stroke="#000" stroke-width="1" />
<line x1="119.4" y1="134.516" x2="121.9" y2="134.516" stroke="#000" stroke-width="1" />
<line x1="119.4" y1="132.108" x2="121.9" y2="132.108" stroke="#000" stroke-width="1" />
<line x1="117.4" y1="129.7" x2="121.9" y2="129.7" stroke="#000" stroke-width="1" />
<line x1="121.9" y1="189.9" x2="121.9" y2="193.9" stroke="#000" stroke-width="1" />
<line x1="127.73245616598965" y1="189.9" x2="127.73245616598965" y2="192.1" stroke="#000" stroke-width="1" />
<line x1="131.14422431019347" y1="189.9" x2="131.14422431019347" y2="192.1" stroke="#000" stroke-width="1" />
<line x1="133.5649123319793" y1="189.9" x2="133.5649123319793" y2="192.1" stroke="#000" stroke-width="1" />
<line x1="135.44254383401037" y1="189.9" x2="135.44254383401037" y2="192.1" stroke="#000" stroke-width="1" />
<line x1="136.9766804761831" y1="189.9" x2="136.9766804761831" y2="192.1" stroke="#000" stroke-width="1" />
<line x1="138.27377452527622" y1="189.9" x2="138.27377452527622" y2="192.1" stroke="#000" stroke-width="1" />
<line x1="139.3973684979689" y1="189.9" x2="139.3973684979689" y2="192.1" stroke="#000" stroke-width="1" />
<line x1="140.38844862038692" y1="189.9" x2="140.38844862038692" y2="192.1" stroke="#000" stroke-width="1" />
<line x1="141.275" y1="189.9" x2="141.275" y2="193.9" stroke="#000" stroke-width="1" />
<line x1="147.10745616598965" y1="189.9" x2="147.10745616598965" y2="192.1" stroke="#000" stroke-width="1" />
<line x1="150.51922431019347" y1="189.9" x2="150.51922431019347" y2="192.1" stroke="#000" stroke-width="1" />
<line x1="152.9399123319793" y1="189.9" x2="152.9399123319793" y2="192.1" stroke="#000" stroke-width="1" />
<line x1="154.81754383401037" y1="189.9" x2="154.81754383401037" y2="192.1" stroke="#000" stroke-width="1" />
<line x1="156.3516804761831" y1="189.9" x2="156.3516804761831" y2="192.1" stroke="#000" stroke-width="1" />
<line x1="157.64877452527622" y1="189.9" x2="157.64877452527622" y2="192.1" stroke="#000" stroke-width="1" />
<line x1="158.7723684979689" y1="189.9" x2="158.7723684979689" y2="192.1" stroke="#000" stroke-width="1" />
<line x1="159.76344862038692" y1="189.9" x2="159.76344862038692" y2="192.1" stroke="#000" stroke-width="1" />
<line x1="160.65" y1="189.9" x2="160.65" y2="193.9" stroke="#000" stroke-width="1" />
<line x1="166.48245616598965" y1="189.9" x2="166.48245616598965" y2="192.1" stroke="#000" stroke-width="1" />
<line x1="169.89422431019347" y1="189.9" x2="169.89422431019347" y2="192.1" stroke="#000" stroke-width="1" />
<line x1="172.3149123319793" y1="189.9" x2="172.3149123319793" y2="192.1" stroke="#000" stroke-width="1" />
<line x1="174.19254383401037" y1="189.9" x2="174.19254383401037" y2="192.1" stroke="#000" stroke-width="1" />
<line x1="175.7266804761831" y1="189.9" x2="175.7266804761831" y2="192.1" stroke="#000" stroke-width="1" />
<line x1="177.02377452527622" y1="189.9" x2="177.02377452527622" y2="192.1" stroke="#000" stroke-width="1" />
<line x1="178.1473684979689" y1="189.9" x2="178.1473684979689" y2="192.1" stroke="#000" stroke-width="1" />
<line x1="179.13844862038692" y1="189.9" x2="179.13844862038692" y2="192.1" stroke="#000" stroke-width="1" />
<line x1="180.025" y1="189.9" x2="180.025" y2="193.9" stroke="#000" stroke-width="1" />
<line x1="185.85745616598965" y1="189.9" x2="185.85745616598965" y2="192.1" stroke="#000" stroke-width="1" />
<line x1="189.26922431019347" y1="189.9" x2="189.26922431019347" y2="192.1" stroke="#000" stroke-width="1" />
<line x1="191.6899123319793" y1="189.9" x2="191.6899123319793" y2="192.1" stroke="#000" stroke-width="1" />
<line x1="193.56754383401037" y1="189.9" x2="193.56754383401037" y2="192.1" stroke="#000" stroke-width="1" />
<line x1="195.1016804761831" y1="189.9" x2="195.1016804761831" y2="192.1" stroke="#000" stroke-width="1" />
<line x1="196.39877452527622" y1="189.9" x2="196.39877452527622" y2="192.1" stroke="#000" stroke-width="1" />
<line x1="197.5223684979689" y1="189.9" x2="197.5223684979689" y2="192.1" stroke="#000" stroke-width="1" />
<line x1="198.51344862038692" y1="189.9" x2="198.51344862038692" y2="192.1" stroke="#000" stroke-width="1" />
<line x1="199.4" y1="189.9" x2="199.4" y2="193.9" stroke="#000" stroke-width="1" />
<text x="114.7" y="135.0" font-size="10.5" stroke="#000" stroke-width="0.3" textLength="8.9" lengthAdjust="spacingAndGlyphs" transform="rotate(-90 114.7 135.0)" >50</text>
<text x="114.7" y="191.9" font-size="10.5" stroke="#000" stroke-width="0.3" textLength="4.9" lengthAdjust="spacingAndGlyphs" transform="rotate(-90 114.7 191.9)" >0</text>
<text x="20.8" y="65" font-size="9.5" font-weight="bold" textLength="11.9" lengthAdjust="spacingAndGlyphs" >ctr</text>
<line x1="28.5" y1="68.8" x2="28.5" y2="75" stroke="#000" stroke-width="1.6" />
<polygon points="25.5,74 31.5,74 28.5,79.5" fill="#000" stroke="#000" stroke-width="0.5" stroke-linejoin="miter" />
<text x="68.3" y="66.3" font-size="9.5" font-weight="bold" textLength="20.5" lengthAdjust="spacingAndGlyphs" >1221</text>
<text x="49.6" y="92" font-size="9.5" font-weight="bold" textLength="13.4" lengthAdjust="spacingAndGlyphs" >168</text>
<text x="135.2" y="71.2" font-size="9.5" font-weight="bold" textLength="13.9" lengthAdjust="spacingAndGlyphs" >8%</text>
<text x="167" y="87.5" font-size="9.5" font-weight="bold" textLength="19" lengthAdjust="spacingAndGlyphs" >92%</text>
<text x="43.3" y="163.8" font-size="9.5" font-weight="bold" textLength="10.9" lengthAdjust="spacingAndGlyphs" >99</text>
<text x="67.5" y="153.8" font-size="9.5" font-weight="bold" textLength="15.8" lengthAdjust="spacingAndGlyphs" >450</text>
<text x="138.3" y="144.3" font-size="9.5" font-weight="bold" textLength="13.9" lengthAdjust="spacingAndGlyphs" >7%</text>
<text x="170" y="160" font-size="9.5" font-weight="bold" textLength="19.7" lengthAdjust="spacingAndGlyphs" >52%</text>
<text x="211.4" y="86.1" font-size="13.2" font-weight="bold" textLength="28.6" lengthAdjust="spacingAndGlyphs" >None</text>
<text x="211.4" y="162.6" font-size="13.2" font-weight="bold" textLength="29.5" lengthAdjust="spacingAndGlyphs" >KN93</text>
<text x="11.6" y="205.2" font-size="8.8" stroke="#000" stroke-width="0.3" textLength="7.4" lengthAdjust="spacingAndGlyphs" style="stroke-width:0.45px">10</text>
<text x="20.2" y="200.2" font-size="7.4" stroke="#000" stroke-width="0.3" textLength="3.4" lengthAdjust="spacingAndGlyphs" style="stroke-width:0.4px">0</text>
<text x="30.15" y="205.2" font-size="8.8" stroke="#000" stroke-width="0.3" textLength="7.4" lengthAdjust="spacingAndGlyphs" style="stroke-width:0.45px">10</text>
<text x="38.75" y="200.2" font-size="7.4" stroke="#000" stroke-width="0.3" textLength="3.4" lengthAdjust="spacingAndGlyphs" style="stroke-width:0.4px">1</text>
<text x="48.7" y="205.2" font-size="8.8" stroke="#000" stroke-width="0.3" textLength="7.4" lengthAdjust="spacingAndGlyphs" style="stroke-width:0.45px">10</text>
<text x="57.300000000000004" y="200.2" font-size="7.4" stroke="#000" stroke-width="0.3" textLength="3.4" lengthAdjust="spacingAndGlyphs" style="stroke-width:0.4px">2</text>
<text x="67.25" y="205.2" font-size="8.8" stroke="#000" stroke-width="0.3" textLength="7.4" lengthAdjust="spacingAndGlyphs" style="stroke-width:0.45px">10</text>
<text x="75.85" y="200.2" font-size="7.4" stroke="#000" stroke-width="0.3" textLength="3.4" lengthAdjust="spacingAndGlyphs" style="stroke-width:0.4px">3</text>
<text x="85.8" y="205.2" font-size="8.8" stroke="#000" stroke-width="0.3" textLength="7.4" lengthAdjust="spacingAndGlyphs" style="stroke-width:0.45px">10</text>
<text x="94.39999999999999" y="200.2" font-size="7.4" stroke="#000" stroke-width="0.3" textLength="3.4" lengthAdjust="spacingAndGlyphs" style="stroke-width:0.4px">4</text>
<text x="116.6" y="205.2" font-size="8.8" stroke="#000" stroke-width="0.3" textLength="7.4" lengthAdjust="spacingAndGlyphs" style="stroke-width:0.45px">10</text>
<text x="125.19999999999999" y="200.2" font-size="7.4" stroke="#000" stroke-width="0.3" textLength="3.4" lengthAdjust="spacingAndGlyphs" style="stroke-width:0.4px">0</text>
<text x="135.15" y="205.2" font-size="8.8" stroke="#000" stroke-width="0.3" textLength="7.4" lengthAdjust="spacingAndGlyphs" style="stroke-width:0.45px">10</text>
<text x="143.75" y="200.2" font-size="7.4" stroke="#000" stroke-width="0.3" textLength="3.4" lengthAdjust="spacingAndGlyphs" style="stroke-width:0.4px">1</text>
<text x="153.7" y="205.2" font-size="8.8" stroke="#000" stroke-width="0.3" textLength="7.4" lengthAdjust="spacingAndGlyphs" style="stroke-width:0.45px">10</text>
<text x="162.29999999999998" y="200.2" font-size="7.4" stroke="#000" stroke-width="0.3" textLength="3.4" lengthAdjust="spacingAndGlyphs" style="stroke-width:0.4px">2</text>
<text x="172.25" y="205.2" font-size="8.8" stroke="#000" stroke-width="0.3" textLength="7.4" lengthAdjust="spacingAndGlyphs" style="stroke-width:0.45px">10</text>
<text x="180.85" y="200.2" font-size="7.4" stroke="#000" stroke-width="0.3" textLength="3.4" lengthAdjust="spacingAndGlyphs" style="stroke-width:0.4px">3</text>
<text x="190.8" y="205.2" font-size="8.8" stroke="#000" stroke-width="0.3" textLength="7.4" lengthAdjust="spacingAndGlyphs" style="stroke-width:0.45px">10</text>
<text x="199.4" y="200.2" font-size="7.4" stroke="#000" stroke-width="0.3" textLength="3.4" lengthAdjust="spacingAndGlyphs" style="stroke-width:0.4px">4</text>
<line x1="26" y1="222" x2="35" y2="222" stroke="#000" stroke-width="1.5" />
<text x="45" y="225.5" font-size="10" font-weight="bold" textLength="24.5" lengthAdjust="spacingAndGlyphs" >CD86</text>
<line x1="77.5" y1="222" x2="88" y2="222" stroke="#000" stroke-width="1.5" />
<polygon points="86,218.8 91,222 86,225.2" fill="#000" stroke="#000" stroke-width="0.3" stroke-linejoin="miter" />
<line x1="132.5" y1="222" x2="142.5" y2="222" stroke="#000" stroke-width="1.5" />
<text x="151" y="225.5" font-size="10" font-weight="bold" textLength="24.5" lengthAdjust="spacingAndGlyphs" >CD83</text>
<line x1="184" y1="222" x2="194.5" y2="222" stroke="#000" stroke-width="1.5" />
<polygon points="192.5,218.8 197.5,222 192.5,225.2" fill="#000" stroke="#000" stroke-width="0.3" stroke-linejoin="miter" />
<rect x="43.5" y="238.6" width="70.1" height="75.20000000000002" fill="none" stroke="#000" stroke-width="1.1" />
<line x1="38.0" y1="238.6" x2="43.5" y2="238.6" stroke="#000" stroke-width="1.1" />
<text x="34.7" y="240.9" font-size="6.6" font-weight="bold" text-anchor="end" stroke="#000" stroke-width="0.25">1500</text>
<line x1="38.0" y1="263.7" x2="43.5" y2="263.7" stroke="#000" stroke-width="1.1" />
<text x="34.7" y="266.0" font-size="6.6" font-weight="bold" text-anchor="end" stroke="#000" stroke-width="0.25">1000</text>
<line x1="38.0" y1="288.8" x2="43.5" y2="288.8" stroke="#000" stroke-width="1.1" />
<text x="34.7" y="291.1" font-size="6.6" font-weight="bold" text-anchor="end" stroke="#000" stroke-width="0.25">500</text>
<line x1="38.0" y1="313.8" x2="43.5" y2="313.8" stroke="#000" stroke-width="1.1" />
<text x="34.7" y="316.1" font-size="6.6" font-weight="bold" text-anchor="end" stroke="#000" stroke-width="0.25">0</text>
<line x1="43.5" y1="313.8" x2="43.5" y2="318.3" stroke="#000" stroke-width="1.1" />
<text x="45.9" y="322.3" font-size="6.8" font-weight="bold" text-anchor="end" transform="rotate(-90 45.9 322.3)" stroke="#000" stroke-width="0.3">0.0001</text>
<line x1="55.18333333333333" y1="313.8" x2="55.18333333333333" y2="318.3" stroke="#000" stroke-width="1.1" />
<text x="57.58333333333333" y="322.3" font-size="6.8" font-weight="bold" text-anchor="end" transform="rotate(-90 57.58333333333333 322.3)" stroke="#000" stroke-width="0.3">0.001</text>
<line x1="66.86666666666666" y1="313.8" x2="66.86666666666666" y2="318.3" stroke="#000" stroke-width="1.1" />
<text x="69.26666666666667" y="322.3" font-size="6.8" font-weight="bold" text-anchor="end" transform="rotate(-90 69.26666666666667 322.3)" stroke="#000" stroke-width="0.3">0.01</text>
<line x1="78.55" y1="313.8" x2="78.55" y2="318.3" stroke="#000" stroke-width="1.1" />
<text x="80.95" y="322.3" font-size="6.8" font-weight="bold" text-anchor="end" transform="rotate(-90 80.95 322.3)" stroke="#000" stroke-width="0.3">0.1</text>
<line x1="90.23333333333332" y1="313.8" x2="90.23333333333332" y2="318.3" stroke="#000" stroke-width="1.1" />
<text x="92.63333333333333" y="322.3" font-size="6.8" font-weight="bold" text-anchor="end" transform="rotate(-90 92.63333333333333 322.3)" stroke="#000" stroke-width="0.3">1</text>
<line x1="101.91666666666666" y1="313.8" x2="101.91666666666666" y2="318.3" stroke="#000" stroke-width="1.1" />
<text x="104.31666666666666" y="322.3" font-size="6.8" font-weight="bold" text-anchor="end" transform="rotate(-90 104.31666666666666 322.3)" stroke="#000" stroke-width="0.3">10</text>
<line x1="113.6" y1="313.8" x2="113.6" y2="318.3" stroke="#000" stroke-width="1.1" />
<text x="116.0" y="322.3" font-size="6.8" font-weight="bold" text-anchor="end" transform="rotate(-90 116.0 322.3)" stroke="#000" stroke-width="0.3">100</text>
<line x1="66.1" y1="271.4" x2="66.1" y2="269.7" stroke="#000" stroke-width="1.2" />
<line x1="63.3" y1="269.7" x2="68.89999999999999" y2="269.7" stroke="#000" stroke-width="1.2" />
<line x1="66.1" y1="280.6" x2="66.1" y2="282.9" stroke="#000" stroke-width="1.2" />
<line x1="63.3" y1="282.9" x2="68.89999999999999" y2="282.9" stroke="#000" stroke-width="1.2" />
<line x1="78.1" y1="253.4" x2="78.1" y2="248.4" stroke="#000" stroke-width="1.2" />
<line x1="75.3" y1="248.4" x2="80.89999999999999" y2="248.4" stroke="#000" stroke-width="1.2" />
<line x1="78.1" y1="262.6" x2="78.1" y2="268.8" stroke="#000" stroke-width="1.2" />
<line x1="75.3" y1="268.8" x2="80.89999999999999" y2="268.8" stroke="#000" stroke-width="1.2" />
<line x1="89.5" y1="248.4" x2="89.5" y2="241.9" stroke="#000" stroke-width="1.2" />
<line x1="86.7" y1="241.9" x2="92.3" y2="241.9" stroke="#000" stroke-width="1.2" />
<line x1="89.5" y1="257.6" x2="89.5" y2="264.9" stroke="#000" stroke-width="1.2" />
<line x1="86.7" y1="264.9" x2="92.3" y2="264.9" stroke="#000" stroke-width="1.2" />
<line x1="101.6" y1="253.4" x2="101.6" y2="248.4" stroke="#000" stroke-width="1.2" />
<line x1="98.8" y1="248.4" x2="104.39999999999999" y2="248.4" stroke="#000" stroke-width="1.2" />
<line x1="101.6" y1="262.6" x2="101.6" y2="267" stroke="#000" stroke-width="1.2" />
<line x1="98.8" y1="267" x2="104.39999999999999" y2="267" stroke="#000" stroke-width="1.2" />
<line x1="66.1" y1="297.4" x2="66.1" y2="297.3" stroke="#000" stroke-width="1.2" />
<line x1="63.3" y1="297.3" x2="68.89999999999999" y2="297.3" stroke="#000" stroke-width="1.2" />
<line x1="66.1" y1="306.6" x2="66.1" y2="309.2" stroke="#000" stroke-width="1.2" />
<line x1="63.3" y1="309.2" x2="68.89999999999999" y2="309.2" stroke="#000" stroke-width="1.2" />
<line x1="78.1" y1="291.4" x2="78.1" y2="289.4" stroke="#000" stroke-width="1.2" />
<line x1="75.3" y1="289.4" x2="80.89999999999999" y2="289.4" stroke="#000" stroke-width="1.2" />
<line x1="78.1" y1="300.6" x2="78.1" y2="302.6" stroke="#000" stroke-width="1.2" />
<line x1="75.3" y1="302.6" x2="80.89999999999999" y2="302.6" stroke="#000" stroke-width="1.2" />
<line x1="86.7" y1="289.4" x2="92.3" y2="289.4" stroke="#000" stroke-width="1.2" />
<line x1="89.5" y1="298.6" x2="89.5" y2="300.4" stroke="#000" stroke-width="1.2" />
<line x1="86.7" y1="300.4" x2="92.3" y2="300.4" stroke="#000" stroke-width="1.2" />
<line x1="101.6" y1="287.4" x2="101.6" y2="282" stroke="#000" stroke-width="1.2" />
<line x1="98.8" y1="282" x2="104.39999999999999" y2="282" stroke="#000" stroke-width="1.2" />
<line x1="101.6" y1="296.6" x2="101.6" y2="302.6" stroke="#000" stroke-width="1.2" />
<line x1="98.8" y1="302.6" x2="104.39999999999999" y2="302.6" stroke="#000" stroke-width="1.2" />
<polyline points="44.1,306.1 54.4,302.6 66.1,276.3 78.1,258.3 89.5,253.3 101.6,258.3" fill="none" stroke="#000" stroke-width="1.6" stroke-linejoin="miter" />
<polyline points="44.1,308.3 54.4,308.3 66.1,302.6 78.1,296 89.5,294 101.6,291.8" fill="none" stroke="#000" stroke-width="1.6" stroke-linejoin="miter" />
<rect x="41.300000000000004" y="305.5" width="5.6" height="5.6" fill="#fff" stroke="#000" stroke-width="1.3" />
<rect x="51.6" y="305.5" width="5.6" height="5.6" fill="#fff" stroke="#000" stroke-width="1.3" />
<rect x="63.3" y="299.8" width="5.6" height="5.6" fill="#fff" stroke="#000" stroke-width="1.3" />
<rect x="75.3" y="293.2" width="5.6" height="5.6" fill="#fff" stroke="#000" stroke-width="1.3" />
<rect x="86.7" y="291.2" width="5.6" height="5.6" fill="#fff" stroke="#000" stroke-width="1.3" />
<rect x="98.8" y="289.0" width="5.6" height="5.6" fill="#fff" stroke="#000" stroke-width="1.3" />
<rect x="41.300000000000004" y="303.3" width="5.6" height="5.6" fill="#8a8a8a" stroke="#000" stroke-width="1.3" />
<rect x="51.6" y="299.8" width="5.6" height="5.6" fill="#8a8a8a" stroke="#000" stroke-width="1.3" />
<rect x="63.3" y="273.5" width="5.6" height="5.6" fill="#8a8a8a" stroke="#000" stroke-width="1.3" />
<rect x="75.3" y="255.5" width="5.6" height="5.6" fill="#8a8a8a" stroke="#000" stroke-width="1.3" />
<rect x="86.7" y="250.5" width="5.6" height="5.6" fill="#8a8a8a" stroke="#000" stroke-width="1.3" />
<rect x="98.8" y="255.5" width="5.6" height="5.6" fill="#8a8a8a" stroke="#000" stroke-width="1.3" />
<text x="66.1" y="268.59999999999997" font-size="8.5" font-weight="bold" text-anchor="middle" >*</text>
<text x="78.1" y="246.7" font-size="8.5" font-weight="bold" text-anchor="middle" >*</text>
<text x="89.5" y="274.7" font-size="8.5" font-weight="bold" text-anchor="middle" >*</text>
<text x="101.6" y="246.7" font-size="8.5" font-weight="bold" text-anchor="middle" >*</text>
<text x="8.9" y="274.7" font-size="11.2" font-weight="bold" text-anchor="middle" textLength="60.6" lengthAdjust="spacingAndGlyphs" transform="rotate(-90 8.9 274.7)" >CD86 (MFI)</text>
<rect x="169.2" y="238.6" width="69.60000000000002" height="76.00000000000003" fill="none" stroke="#000" stroke-width="1.1" />
<line x1="163.7" y1="238.6" x2="169.2" y2="238.6" stroke="#000" stroke-width="1.1" />
<text x="160.39999999999998" y="240.9" font-size="6.6" font-weight="bold" text-anchor="end" stroke="#000" stroke-width="0.25">125</text>
<line x1="163.7" y1="253.8" x2="169.2" y2="253.8" stroke="#000" stroke-width="1.1" />
<text x="160.39999999999998" y="256.1" font-size="6.6" font-weight="bold" text-anchor="end" stroke="#000" stroke-width="0.25">100</text>
<line x1="163.7" y1="269.0" x2="169.2" y2="269.0" stroke="#000" stroke-width="1.1" />
<text x="160.39999999999998" y="271.3" font-size="6.6" font-weight="bold" text-anchor="end" stroke="#000" stroke-width="0.25">75</text>
<line x1="163.7" y1="284.2" x2="169.2" y2="284.2" stroke="#000" stroke-width="1.1" />
<text x="160.39999999999998" y="286.5" font-size="6.6" font-weight="bold" text-anchor="end" stroke="#000" stroke-width="0.25">50</text>
<line x1="163.7" y1="299.40000000000003" x2="169.2" y2="299.40000000000003" stroke="#000" stroke-width="1.1" />
<text x="160.39999999999998" y="301.70000000000005" font-size="6.6" font-weight="bold" text-anchor="end" stroke="#000" stroke-width="0.25">25</text>
<line x1="163.7" y1="314.6" x2="169.2" y2="314.6" stroke="#000" stroke-width="1.1" />
<text x="160.39999999999998" y="316.90000000000003" font-size="6.6" font-weight="bold" text-anchor="end" stroke="#000" stroke-width="0.25">0</text>
<line x1="169.2" y1="314.6" x2="169.2" y2="319.1" stroke="#000" stroke-width="1.1" />
<text x="171.6" y="323.1" font-size="6.8" font-weight="bold" text-anchor="end" transform="rotate(-90 171.6 323.1)" stroke="#000" stroke-width="0.3">0.0001</text>
<line x1="180.79999999999998" y1="314.6" x2="180.79999999999998" y2="319.1" stroke="#000" stroke-width="1.1" />
<text x="183.2" y="323.1" font-size="6.8" font-weight="bold" text-anchor="end" transform="rotate(-90 183.2 323.1)" stroke="#000" stroke-width="0.3">0.001</text>
<line x1="192.4" y1="314.6" x2="192.4" y2="319.1" stroke="#000" stroke-width="1.1" />
<text x="194.8" y="323.1" font-size="6.8" font-weight="bold" text-anchor="end" transform="rotate(-90 194.8 323.1)" stroke="#000" stroke-width="0.3">0.01</text>
<line x1="204.0" y1="314.6" x2="204.0" y2="319.1" stroke="#000" stroke-width="1.1" />
<text x="206.4" y="323.1" font-size="6.8" font-weight="bold" text-anchor="end" transform="rotate(-90 206.4 323.1)" stroke="#000" stroke-width="0.3">0.1</text>
<line x1="215.6" y1="314.6" x2="215.6" y2="319.1" stroke="#000" stroke-width="1.1" />
<text x="218.0" y="323.1" font-size="6.8" font-weight="bold" text-anchor="end" transform="rotate(-90 218.0 323.1)" stroke="#000" stroke-width="0.3">1</text>
<line x1="227.20000000000002" y1="314.6" x2="227.20000000000002" y2="319.1" stroke="#000" stroke-width="1.1" />
<text x="229.60000000000002" y="323.1" font-size="6.8" font-weight="bold" text-anchor="end" transform="rotate(-90 229.60000000000002 323.1)" stroke="#000" stroke-width="0.3">10</text>
<line x1="238.8" y1="314.6" x2="238.8" y2="319.1" stroke="#000" stroke-width="1.1" />
<text x="241.20000000000002" y="323.1" font-size="6.8" font-weight="bold" text-anchor="end" transform="rotate(-90 241.20000000000002 323.1)" stroke="#000" stroke-width="0.3">100</text>
<line x1="192.4" y1="256.4" x2="192.4" y2="255" stroke="#000" stroke-width="1.2" />
<line x1="189.6" y1="255" x2="195.20000000000002" y2="255" stroke="#000" stroke-width="1.2" />
<line x1="192.4" y1="265.6" x2="192.4" y2="267.4" stroke="#000" stroke-width="1.2" />
<line x1="189.6" y1="267.4" x2="195.20000000000002" y2="267.4" stroke="#000" stroke-width="1.2" />
<line x1="204.4" y1="254.4" x2="204.4" y2="251.7" stroke="#000" stroke-width="1.2" />
<line x1="201.6" y1="251.7" x2="207.20000000000002" y2="251.7" stroke="#000" stroke-width="1.2" />
<line x1="204.4" y1="263.6" x2="204.4" y2="266.6" stroke="#000" stroke-width="1.2" />
<line x1="201.6" y1="266.6" x2="207.20000000000002" y2="266.6" stroke="#000" stroke-width="1.2" />
<line x1="215.8" y1="253.4" x2="215.8" y2="251" stroke="#000" stroke-width="1.2" />
<line x1="213.0" y1="251" x2="218.60000000000002" y2="251" stroke="#000" stroke-width="1.2" />
<line x1="215.8" y1="262.6" x2="215.8" y2="265" stroke="#000" stroke-width="1.2" />
<line x1="213.0" y1="265" x2="218.60000000000002" y2="265" stroke="#000" stroke-width="1.2" />
<line x1="226.7" y1="254.4" x2="226.7" y2="250.6" stroke="#000" stroke-width="1.2" />
<line x1="223.89999999999998" y1="250.6" x2="229.5" y2="250.6" stroke="#000" stroke-width="1.2" />
<line x1="226.7" y1="263.6" x2="226.7" y2="267" stroke="#000" stroke-width="1.2" />
<line x1="223.89999999999998" y1="267" x2="229.5" y2="267" stroke="#000" stroke-width="1.2" />
<line x1="204.4" y1="285.4" x2="204.4" y2="284.5" stroke="#000" stroke-width="1.2" />
<line x1="201.6" y1="284.5" x2="207.20000000000002" y2="284.5" stroke="#000" stroke-width="1.2" />
<line x1="204.4" y1="294.6" x2="204.4" y2="297.2" stroke="#000" stroke-width="1.2" />
<line x1="201.6" y1="297.2" x2="207.20000000000002" y2="297.2" stroke="#000" stroke-width="1.2" />
<line x1="215.8" y1="284.4" x2="215.8" y2="282.3" stroke="#000" stroke-width="1.2" />
<line x1="213.0" y1="282.3" x2="218.60000000000002" y2="282.3" stroke="#000" stroke-width="1.2" />
<line x1="215.8" y1="293.6" x2="215.8" y2="296.5" stroke="#000" stroke-width="1.2" />
<line x1="213.0" y1="296.5" x2="218.60000000000002" y2="296.5" stroke="#000" stroke-width="1.2" />
<line x1="226.7" y1="278.4" x2="226.7" y2="274" stroke="#000" stroke-width="1.2" />
<line x1="223.89999999999998" y1="274" x2="229.5" y2="274" stroke="#000" stroke-width="1.2" />
<line x1="226.7" y1="287.6" x2="226.7" y2="291.5" stroke="#000" stroke-width="1.2" />
<line x1="223.89999999999998" y1="291.5" x2="229.5" y2="291.5" stroke="#000" stroke-width="1.2" />
<polyline points="169.2,310.3 181.2,307.5 192.4,261.5 204.4,258.9 215.8,258.3 226.7,258.9" fill="none" stroke="#000" stroke-width="1.6" stroke-linejoin="miter" />
<polyline points="169.2,314.5 181.2,313.4 192.4,308.6 204.4,290.6 215.8,288.9 226.7,282.8" fill="none" stroke="#000" stroke-width="1.6" stroke-linejoin="miter" />
<rect x="166.39999999999998" y="311.7" width="5.6" height="5.6" fill="#fff" stroke="#000" stroke-width="1.3" />
<rect x="178.39999999999998" y="310.59999999999997" width="5.6" height="5.6" fill="#fff" stroke="#000" stroke-width="1.3" />
<rect x="189.6" y="305.8" width="5.6" height="5.6" fill="#fff" stroke="#000" stroke-width="1.3" />
<rect x="201.6" y="287.8" width="5.6" height="5.6" fill="#fff" stroke="#000" stroke-width="1.3" />
<rect x="213.0" y="286.09999999999997" width="5.6" height="5.6" fill="#fff" stroke="#000" stroke-width="1.3" />
<rect x="223.89999999999998" y="280.0" width="5.6" height="5.6" fill="#fff" stroke="#000" stroke-width="1.3" />
<rect x="166.39999999999998" y="307.5" width="5.6" height="5.6" fill="#8a8a8a" stroke="#000" stroke-width="1.3" />
<rect x="178.39999999999998" y="304.7" width="5.6" height="5.6" fill="#8a8a8a" stroke="#000" stroke-width="1.3" />
<rect x="189.6" y="258.7" width="5.6" height="5.6" fill="#8a8a8a" stroke="#000" stroke-width="1.3" />
<rect x="201.6" y="256.09999999999997" width="5.6" height="5.6" fill="#8a8a8a" stroke="#000" stroke-width="1.3" />
<rect x="213.0" y="255.5" width="5.6" height="5.6" fill="#8a8a8a" stroke="#000" stroke-width="1.3" />
<rect x="223.89999999999998" y="256.09999999999997" width="5.6" height="5.6" fill="#8a8a8a" stroke="#000" stroke-width="1.3" />
<text x="192.4" y="253.2" font-size="8.5" font-weight="bold" text-anchor="middle" >*</text>
<text x="204.4" y="249.29999999999998" font-size="8.5" font-weight="bold" text-anchor="middle" >*</text>
<text x="215.8" y="249.29999999999998" font-size="8.5" font-weight="bold" text-anchor="middle" >*</text>
<text x="226.7" y="245.5" font-size="8.5" font-weight="bold" text-anchor="middle" >*</text>
<text x="136.9" y="272.8" font-size="11.6" font-weight="bold" text-anchor="middle" transform="rotate(-90 136.9 272.8)">CD83<tspan dy="-3" font-size="8">+</tspan><tspan dy="3"> (%)</tspan></text>
<text x="110.6" y="365.2" font-size="10" font-weight="bold" textLength="59.5" lengthAdjust="spacingAndGlyphs" >LPS (&#956;g/mL)</text>
<line x1="106.2" y1="382.5" x2="145.8" y2="382.5" stroke="#000" stroke-width="1.3" />
<rect x="123.3" y="379.3" width="6.6" height="6.4" fill="#8a8a8a" stroke="#000" stroke-width="1.3" />
<text x="158.7" y="385.8" font-size="10.2" font-weight="bold" stroke="#000" stroke-width="0.3" textLength="27.6" lengthAdjust="spacing">None</text>
<line x1="106.2" y1="398.5" x2="145.8" y2="398.5" stroke="#000" stroke-width="1.3" />
<rect x="123.3" y="395.3" width="6.6" height="6.4" fill="#fff" stroke="#000" stroke-width="1.3" />
<text x="158.7" y="401.3" font-size="10.2" font-weight="bold" stroke="#000" stroke-width="0.3" textLength="28.8" lengthAdjust="spacing">KN93</text>
<text x="334.2" y="44.2" font-size="11.6" font-weight="bold" textLength="28.6" lengthAdjust="spacingAndGlyphs" >None</text>
<text x="427.2" y="44.0" font-size="12" font-weight="bold" textLength="21.9" lengthAdjust="spacingAndGlyphs" >LPS</text>
<text x="490.4" y="85.9" font-size="12" font-weight="bold" textLength="28.3" lengthAdjust="spacingAndGlyphs" >None</text>
<text x="490.4" y="162.6" font-size="12" font-weight="bold" textLength="29.6" lengthAdjust="spacingAndGlyphs" >KN93</text>
<ellipse cx="323" cy="104.5" rx="9" ry="4.6" transform="rotate(-35 323 104.5)" fill="#000"/>
<path d="M315.6 108.0h1.3v1.3h-1.3zM327.8 99.0h1.3v1.3h-1.3zM315.0 107.2h1.3v1.3h-1.3zM325.0 104.8h1.3v1.3h-1.3zM315.7 103.6h1.3v1.3h-1.3zM326.2 102.5h1.3v1.3h-1.3zM330.8 101.3h1.3v1.3h-1.3zM321.8 102.9h1.3v1.3h-1.3zM336.5 94.9h1.3v1.3h-1.3zM318.0 102.7h1.3v1.3h-1.3zM322.9 103.4h1.3v1.3h-1.3zM320.5 104.2h1.3v1.3h-1.3zM323.9 104.4h1.3v1.3h-1.3zM328.4 100.6h1.3v1.3h-1.3zM312.5 110.6h1.3v1.3h-1.3zM314.5 107.2h1.3v1.3h-1.3zM314.2 107.8h1.3v1.3h-1.3zM318.1 106.3h1.3v1.3h-1.3zM340.5 93.3h1.3v1.3h-1.3zM327.0 97.3h1.3v1.3h-1.3zM320.8 106.0h1.3v1.3h-1.3zM321.8 104.6h1.3v1.3h-1.3zM322.9 100.4h1.3v1.3h-1.3zM325.5 99.5h1.3v1.3h-1.3zM332.6 96.4h1.3v1.3h-1.3zM326.1 101.3h1.3v1.3h-1.3zM327.6 98.9h1.3v1.3h-1.3zM327.8 100.0h1.3v1.3h-1.3zM329.3 101.2h1.3v1.3h-1.3zM323.1 100.9h1.3v1.3h-1.3zM326.6 102.3h1.3v1.3h-1.3zM331.4 97.4h1.3v1.3h-1.3zM325.4 103.0h1.3v1.3h-1.3zM323.9 103.1h1.3v1.3h-1.3zM323.4 101.2h1.3v1.3h-1.3zM316.8 105.3h1.3v1.3h-1.3zM325.6 105.6h1.3v1.3h-1.3zM327.7 103.2h1.3v1.3h-1.3zM326.6 102.9h1.3v1.3h-1.3zM323.4 104.8h1.3v1.3h-1.3zM332.1 97.2h1.3v1.3h-1.3zM318.5 110.6h1.3v1.3h-1.3zM323.7 105.2h1.3v1.3h-1.3zM327.2 97.7h1.3v1.3h-1.3zM335.7 100.7h1.3v1.3h-1.3zM323.3 104.8h1.3v1.3h-1.3zM323.0 100.6h1.3v1.3h-1.3zM321.7 104.7h1.3v1.3h-1.3zM328.5 101.9h1.3v1.3h-1.3zM322.7 106.8h1.3v1.3h-1.3zM318.2 107.7h1.3v1.3h-1.3zM328.5 99.2h1.3v1.3h-1.3zM312.5 106.3h1.3v1.3h-1.3zM323.7 104.0h1.3v1.3h-1.3zM330.9 96.0h1.3v1.3h-1.3zM322.4 105.1h1.3v1.3h-1.3zM321.5 97.6h1.3v1.3h-1.3zM326.8 107.0h1.3v1.3h-1.3zM327.9 97.9h1.3v1.3h-1.3zM320.1 105.2h1.3v1.3h-1.3zM336.0 97.5h1.3v1.3h-1.3zM323.0 107.1h1.3v1.3h-1.3zM321.9 108.5h1.3v1.3h-1.3zM318.6 104.1h1.3v1.3h-1.3zM326.3 105.0h1.3v1.3h-1.3zM325.9 102.2h1.3v1.3h-1.3zM312.3 106.9h1.3v1.3h-1.3zM319.0 103.8h1.3v1.3h-1.3zM325.6 100.7h1.3v1.3h-1.3zM326.7 101.2h1.3v1.3h-1.3zM320.5 104.7h1.3v1.3h-1.3zM324.7 104.3h1.3v1.3h-1.3zM319.7 104.2h1.3v1.3h-1.3zM314.9 111.7h1.3v1.3h-1.3zM330.3 98.5h1.3v1.3h-1.3zM319.7 101.5h1.3v1.3h-1.3zM323.3 103.4h1.3v1.3h-1.3zM334.3 97.5h1.3v1.3h-1.3zM318.1 99.2h1.3v1.3h-1.3zM330.1 99.6h1.3v1.3h-1.3zM313.5 108.7h1.3v1.3h-1.3zM328.5 101.5h1.3v1.3h-1.3zM321.4 98.2h1.3v1.3h-1.3zM321.7 99.6h1.3v1.3h-1.3zM325.6 95.9h1.3v1.3h-1.3zM317.4 109.3h1.3v1.3h-1.3zM331.4 95.3h1.3v1.3h-1.3zM313.9 110.3h1.3v1.3h-1.3zM327.0 98.2h1.3v1.3h-1.3zM318.5 103.6h1.3v1.3h-1.3zM315.8 105.1h1.3v1.3h-1.3zM329.2 101.4h1.3v1.3h-1.3zM333.7 97.0h1.3v1.3h-1.3zM321.6 101.2h1.3v1.3h-1.3zM321.7 100.2h1.3v1.3h-1.3zM312.6 110.5h1.3v1.3h-1.3zM330.3 101.2h1.3v1.3h-1.3zM329.7 100.0h1.3v1.3h-1.3zM318.4 105.7h1.3v1.3h-1.3zM320.3 101.5h1.3v1.3h-1.3zM313.0 104.5h1.3v1.3h-1.3zM322.3 103.8h1.3v1.3h-1.3zM319.7 108.6h1.3v1.3h-1.3zM323.3 104.4h1.3v1.3h-1.3zM329.1 97.5h1.3v1.3h-1.3zM311.5 111.2h1.3v1.3h-1.3zM318.6 108.9h1.3v1.3h-1.3zM324.2 105.0h1.3v1.3h-1.3zM326.6 95.6h1.3v1.3h-1.3zM326.3 99.4h1.3v1.3h-1.3zM318.2 104.5h1.3v1.3h-1.3zM326.6 103.4h1.3v1.3h-1.3zM327.9 95.9h1.3v1.3h-1.3zM319.1 98.8h1.3v1.3h-1.3zM321.8 105.2h1.3v1.3h-1.3zM318.1 106.3h1.3v1.3h-1.3zM323.6 105.3h1.3v1.3h-1.3zM317.8 103.6h1.3v1.3h-1.3zM318.2 110.3h1.3v1.3h-1.3zM328.3 99.8h1.3v1.3h-1.3zM323.6 103.0h1.3v1.3h-1.3zM323.5 102.2h1.3v1.3h-1.3zM320.5 101.0h1.3v1.3h-1.3zM318.8 109.6h1.3v1.3h-1.3zM325.3 101.9h1.3v1.3h-1.3zM321.2 104.2h1.3v1.3h-1.3zM324.3 100.6h1.3v1.3h-1.3zM323.4 103.4h1.3v1.3h-1.3zM318.2 103.5h1.3v1.3h-1.3zM316.9 103.5h1.3v1.3h-1.3zM327.2 94.4h1.3v1.3h-1.3zM320.9 102.5h1.3v1.3h-1.3zM318.9 105.5h1.3v1.3h-1.3zM328.6 100.2h1.3v1.3h-1.3zM321.6 102.2h1.3v1.3h-1.3zM321.6 106.1h1.3v1.3h-1.3zM320.2 101.5h1.3v1.3h-1.3zM315.4 104.2h1.3v1.3h-1.3zM314.7 110.4h1.3v1.3h-1.3zM324.3 101.7h1.3v1.3h-1.3zM330.4 97.2h1.3v1.3h-1.3zM326.5 103.2h1.3v1.3h-1.3zM313.8 103.9h1.3v1.3h-1.3zM317.2 108.5h1.3v1.3h-1.3zM329.5 96.2h1.3v1.3h-1.3zM328.1 99.2h1.3v1.3h-1.3zM320.2 103.1h1.3v1.3h-1.3zM320.6 99.5h1.3v1.3h-1.3zM316.8 103.1h1.3v1.3h-1.3zM325.0 107.4h1.3v1.3h-1.3zM337.4 94.3h1.3v1.3h-1.3zM312.9 107.4h1.3v1.3h-1.3zM317.2 111.4h1.3v1.3h-1.3zM325.5 99.7h1.3v1.3h-1.3zM327.5 102.0h1.3v1.3h-1.3zM313.4 106.8h1.3v1.3h-1.3zM321.0 104.1h1.3v1.3h-1.3zM323.1 102.1h1.3v1.3h-1.3zM323.4 101.2h1.3v1.3h-1.3zM317.4 110.1h1.3v1.3h-1.3zM324.3 103.4h1.3v1.3h-1.3zM313.6 107.7h1.3v1.3h-1.3zM326.9 97.5h1.3v1.3h-1.3zM328.4 99.0h1.3v1.3h-1.3zM324.6 101.8h1.3v1.3h-1.3zM323.6 105.9h1.3v1.3h-1.3zM320.1 108.7h1.3v1.3h-1.3zM318.0 103.2h1.3v1.3h-1.3zM326.3 98.4h1.3v1.3h-1.3zM320.3 106.9h1.3v1.3h-1.3zM329.0 95.0h1.3v1.3h-1.3zM325.1 106.8h1.3v1.3h-1.3zM328.9 99.1h1.3v1.3h-1.3zM319.0 104.4h1.3v1.3h-1.3zM316.0 106.1h1.3v1.3h-1.3zM321.3 103.5h1.3v1.3h-1.3zM328.9 99.2h1.3v1.3h-1.3zM314.3 110.5h1.3v1.3h-1.3zM316.4 105.4h1.3v1.3h-1.3zM321.6 102.8h1.3v1.3h-1.3zM316.8 105.7h1.3v1.3h-1.3zM334.4 95.2h1.3v1.3h-1.3zM321.6 106.7h1.3v1.3h-1.3zM326.4 103.1h1.3v1.3h-1.3zM327.1 95.6h1.3v1.3h-1.3zM317.6 106.3h1.3v1.3h-1.3zM325.1 105.3h1.3v1.3h-1.3zM324.9 101.3h1.3v1.3h-1.3zM322.6 102.7h1.3v1.3h-1.3zM323.7 104.4h1.3v1.3h-1.3zM320.5 102.2h1.3v1.3h-1.3zM317.6 108.8h1.3v1.3h-1.3zM329.4 102.1h1.3v1.3h-1.3zM327.1 103.0h1.3v1.3h-1.3zM322.3 105.1h1.3v1.3h-1.3zM316.6 106.0h1.3v1.3h-1.3zM318.3 107.5h1.3v1.3h-1.3zM319.2 104.8h1.3v1.3h-1.3zM324.6 105.7h1.3v1.3h-1.3z" fill="#000"/>
<path d="M336.1 89.5h1.2v1.2h-1.2zM342.6 89.1h1.2v1.2h-1.2zM342.0 90.1h1.2v1.2h-1.2zM339.1 87.5h1.2v1.2h-1.2zM343.0 90.8h1.2v1.2h-1.2zM336.9 99.2h1.2v1.2h-1.2zM340.7 99.8h1.2v1.2h-1.2zM342.4 90.9h1.2v1.2h-1.2zM339.8 99.1h1.2v1.2h-1.2zM339.2 97.2h1.2v1.2h-1.2zM341.8 89.3h1.2v1.2h-1.2zM340.4 89.6h1.2v1.2h-1.2zM334.8 96.6h1.2v1.2h-1.2zM343.5 93.9h1.2v1.2h-1.2zM336.8 87.7h1.2v1.2h-1.2zM343.2 92.6h1.2v1.2h-1.2zM333.6 93.2h1.2v1.2h-1.2zM333.8 93.3h1.2v1.2h-1.2zM340.8 96.8h1.2v1.2h-1.2zM342.2 95.6h1.2v1.2h-1.2zM334.6 91.8h1.2v1.2h-1.2zM335.8 91.8h1.2v1.2h-1.2zM341.0 97.2h1.2v1.2h-1.2zM342.9 87.9h1.2v1.2h-1.2zM342.8 91.7h1.2v1.2h-1.2zM345.3 95.8h1.2v1.2h-1.2zM333.8 94.8h1.2v1.2h-1.2zM337.1 97.7h1.2v1.2h-1.2zM334.6 92.9h1.2v1.2h-1.2zM336.5 91.3h1.2v1.2h-1.2zM337.6 87.7h1.2v1.2h-1.2zM341.4 97.8h1.2v1.2h-1.2zM339.1 88.7h1.2v1.2h-1.2zM340.8 97.2h1.2v1.2h-1.2zM335.9 93.1h1.2v1.2h-1.2zM344.0 89.7h1.2v1.2h-1.2zM337.7 87.6h1.2v1.2h-1.2zM336.2 90.0h1.2v1.2h-1.2zM335.3 90.5h1.2v1.2h-1.2zM345.3 92.8h1.2v1.2h-1.2zM339.1 99.6h1.2v1.2h-1.2zM339.2 87.6h1.2v1.2h-1.2zM341.3 89.1h1.2v1.2h-1.2zM344.3 89.7h1.2v1.2h-1.2zM337.4 87.9h1.2v1.2h-1.2zM339.9 88.7h1.2v1.2h-1.2zM338.8 89.7h1.2v1.2h-1.2zM336.7 97.5h1.2v1.2h-1.2zM344.0 93.7h1.2v1.2h-1.2zM335.9 89.3h1.2v1.2h-1.2zM340.1 99.7h1.2v1.2h-1.2zM337.1 89.5h1.2v1.2h-1.2zM336.6 89.0h1.2v1.2h-1.2zM334.8 92.4h1.2v1.2h-1.2zM344.8 93.4h1.2v1.2h-1.2z" fill="#000"/>
<path d="M332.4 94.9h1.2v1.2h-1.2zM335.3 98.2h1.2v1.2h-1.2zM329.5 96.7h1.2v1.2h-1.2zM334.2 100.8h1.2v1.2h-1.2zM336.9 98.4h1.2v1.2h-1.2zM333.1 99.4h1.2v1.2h-1.2zM334.4 103.6h1.2v1.2h-1.2zM329.9 98.4h1.2v1.2h-1.2zM339.5 96.8h1.2v1.2h-1.2zM340.1 97.2h1.2v1.2h-1.2zM335.0 97.4h1.2v1.2h-1.2zM328.9 97.1h1.2v1.2h-1.2zM343.3 98.3h1.2v1.2h-1.2zM336.8 100.2h1.2v1.2h-1.2zM336.7 100.4h1.2v1.2h-1.2zM333.3 98.1h1.2v1.2h-1.2zM338.3 96.8h1.2v1.2h-1.2zM329.1 98.9h1.2v1.2h-1.2zM332.2 100.3h1.2v1.2h-1.2zM331.5 96.4h1.2v1.2h-1.2zM333.1 102.4h1.2v1.2h-1.2zM334.2 98.8h1.2v1.2h-1.2zM334.4 99.1h1.2v1.2h-1.2zM338.1 101.0h1.2v1.2h-1.2zM327.8 102.9h1.2v1.2h-1.2zM334.4 97.6h1.2v1.2h-1.2zM344.0 96.2h1.2v1.2h-1.2zM342.2 99.2h1.2v1.2h-1.2zM330.3 100.3h1.2v1.2h-1.2zM337.3 97.5h1.2v1.2h-1.2zM325.1 99.3h1.2v1.2h-1.2zM333.6 95.9h1.2v1.2h-1.2zM341.7 96.4h1.2v1.2h-1.2zM332.8 98.0h1.2v1.2h-1.2zM331.3 97.1h1.2v1.2h-1.2zM334.8 99.1h1.2v1.2h-1.2zM332.4 98.6h1.2v1.2h-1.2zM328.8 100.7h1.2v1.2h-1.2zM331.4 99.5h1.2v1.2h-1.2zM330.8 97.9h1.2v1.2h-1.2zM335.3 95.4h1.2v1.2h-1.2zM344.3 96.5h1.2v1.2h-1.2zM334.1 96.7h1.2v1.2h-1.2zM340.8 100.5h1.2v1.2h-1.2zM335.6 94.9h1.2v1.2h-1.2zM332.4 100.2h1.2v1.2h-1.2zM332.4 96.0h1.2v1.2h-1.2zM329.6 97.5h1.2v1.2h-1.2zM334.5 96.8h1.2v1.2h-1.2zM334.5 105.0h1.2v1.2h-1.2zM341.5 94.6h1.2v1.2h-1.2zM335.8 98.4h1.2v1.2h-1.2zM333.8 101.0h1.2v1.2h-1.2zM333.1 97.9h1.2v1.2h-1.2zM332.9 98.4h1.2v1.2h-1.2zM339.5 99.3h1.2v1.2h-1.2zM329.0 98.4h1.2v1.2h-1.2zM331.2 100.9h1.2v1.2h-1.2zM335.3 100.4h1.2v1.2h-1.2zM334.2 93.9h1.2v1.2h-1.2z" fill="#000"/>
<path d="M314.4 87.1h1.2v1.2h-1.2zM343.8 90.1h1.2v1.2h-1.2zM342.2 87.7h1.2v1.2h-1.2zM328.4 87.9h1.2v1.2h-1.2zM343.8 88.6h1.2v1.2h-1.2zM337.5 92.3h1.2v1.2h-1.2zM324.4 89.7h1.2v1.2h-1.2zM341.2 91.9h1.2v1.2h-1.2zM328.5 88.6h1.2v1.2h-1.2zM315.3 91.7h1.2v1.2h-1.2zM314.5 86.9h1.2v1.2h-1.2zM334.0 89.3h1.2v1.2h-1.2zM338.8 88.2h1.2v1.2h-1.2zM342.4 86.9h1.2v1.2h-1.2zM319.9 90.4h1.2v1.2h-1.2zM314.7 88.2h1.2v1.2h-1.2zM340.4 90.6h1.2v1.2h-1.2zM322.7 87.3h1.2v1.2h-1.2zM325.7 90.8h1.2v1.2h-1.2zM326.1 87.1h1.2v1.2h-1.2zM339.8 89.8h1.2v1.2h-1.2zM348.1 92.0h1.2v1.2h-1.2zM347.9 89.0h1.2v1.2h-1.2zM343.5 88.2h1.2v1.2h-1.2zM324.1 88.8h1.2v1.2h-1.2zM348.8 91.8h1.2v1.2h-1.2zM321.3 88.6h1.2v1.2h-1.2zM326.0 88.6h1.2v1.2h-1.2zM327.2 88.7h1.2v1.2h-1.2zM319.2 89.8h1.2v1.2h-1.2zM343.3 89.6h1.2v1.2h-1.2zM344.9 89.8h1.2v1.2h-1.2zM318.5 91.0h1.2v1.2h-1.2zM346.6 88.1h1.2v1.2h-1.2zM312.3 89.5h1.2v1.2h-1.2zM333.2 89.8h1.2v1.2h-1.2zM350.1 90.3h1.2v1.2h-1.2zM343.6 86.8h1.2v1.2h-1.2zM333.3 91.1h1.2v1.2h-1.2zM314.8 86.9h1.2v1.2h-1.2zM340.9 91.8h1.2v1.2h-1.2zM314.8 90.2h1.2v1.2h-1.2zM317.2 90.9h1.2v1.2h-1.2zM337.4 87.9h1.2v1.2h-1.2zM320.2 91.0h1.2v1.2h-1.2z" fill="#000"/>
<path d="M333.4 106.3h1.2v1.2h-1.2zM327.5 93.5h1.2v1.2h-1.2zM353.9 103.6h1.2v1.2h-1.2zM332.1 99.5h1.2v1.2h-1.2zM342.6 104.6h1.2v1.2h-1.2zM351.5 95.7h1.2v1.2h-1.2zM347.4 103.4h1.2v1.2h-1.2zM348.7 107.6h1.2v1.2h-1.2zM347.8 110.1h1.2v1.2h-1.2zM353.5 102.6h1.2v1.2h-1.2zM333.5 104.7h1.2v1.2h-1.2zM346.3 96.0h1.2v1.2h-1.2zM328.7 87.8h1.2v1.2h-1.2zM343.5 113.1h1.2v1.2h-1.2zM326.7 88.4h1.2v1.2h-1.2zM318.8 96.1h1.2v1.2h-1.2zM322.8 112.5h1.2v1.2h-1.2zM312.1 92.7h1.2v1.2h-1.2zM314.7 102.8h1.2v1.2h-1.2zM345.1 88.8h1.2v1.2h-1.2zM312.3 97.2h1.2v1.2h-1.2zM336.3 110.7h1.2v1.2h-1.2zM311.1 86.7h1.2v1.2h-1.2zM317.9 89.9h1.2v1.2h-1.2zM320.2 104.9h1.2v1.2h-1.2zM336.8 90.1h1.2v1.2h-1.2zM317.9 91.8h1.2v1.2h-1.2zM317.3 106.1h1.2v1.2h-1.2zM323.7 99.8h1.2v1.2h-1.2zM347.0 97.8h1.2v1.2h-1.2z" fill="#000"/>
<line x1="303.7" y1="115.4" x2="308.2" y2="115.4" stroke="#000" stroke-width="1" />
<line x1="305.7" y1="110.88455006504029" x2="308.2" y2="110.88455006504029" stroke="#000" stroke-width="1" />
<line x1="305.7" y1="108.24318117920507" x2="308.2" y2="108.24318117920507" stroke="#000" stroke-width="1" />
<line x1="305.7" y1="106.36910013008057" x2="308.2" y2="106.36910013008057" stroke="#000" stroke-width="1" />
<line x1="305.7" y1="104.91544993495972" x2="308.2" y2="104.91544993495972" stroke="#000" stroke-width="1" />
<line x1="305.7" y1="103.72773124424535" x2="308.2" y2="103.72773124424535" stroke="#000" stroke-width="1" />
<line x1="305.7" y1="102.72352939978614" x2="308.2" y2="102.72352939978614" stroke="#000" stroke-width="1" />
<line x1="305.7" y1="101.85365019512085" x2="308.2" y2="101.85365019512085" stroke="#000" stroke-width="1" />
<line x1="305.7" y1="101.08636235841013" x2="308.2" y2="101.08636235841013" stroke="#000" stroke-width="1" />
<line x1="303.7" y1="100.4" x2="308.2" y2="100.4" stroke="#000" stroke-width="1" />
<line x1="305.7" y1="95.88455006504029" x2="308.2" y2="95.88455006504029" stroke="#000" stroke-width="1" />
<line x1="305.7" y1="93.24318117920507" x2="308.2" y2="93.24318117920507" stroke="#000" stroke-width="1" />
<line x1="305.7" y1="91.36910013008057" x2="308.2" y2="91.36910013008057" stroke="#000" stroke-width="1" />
<line x1="305.7" y1="89.91544993495972" x2="308.2" y2="89.91544993495972" stroke="#000" stroke-width="1" />
<line x1="305.7" y1="88.72773124424535" x2="308.2" y2="88.72773124424535" stroke="#000" stroke-width="1" />
<line x1="305.7" y1="87.72352939978614" x2="308.2" y2="87.72352939978614" stroke="#000" stroke-width="1" />
<line x1="305.7" y1="86.85365019512085" x2="308.2" y2="86.85365019512085" stroke="#000" stroke-width="1" />
<line x1="305.7" y1="86.08636235841013" x2="308.2" y2="86.08636235841013" stroke="#000" stroke-width="1" />
<line x1="303.7" y1="85.4" x2="308.2" y2="85.4" stroke="#000" stroke-width="1" />
<line x1="305.7" y1="80.88455006504029" x2="308.2" y2="80.88455006504029" stroke="#000" stroke-width="1" />
<line x1="305.7" y1="78.24318117920507" x2="308.2" y2="78.24318117920507" stroke="#000" stroke-width="1" />
<line x1="305.7" y1="76.36910013008057" x2="308.2" y2="76.36910013008057" stroke="#000" stroke-width="1" />
<line x1="305.7" y1="74.91544993495972" x2="308.2" y2="74.91544993495972" stroke="#000" stroke-width="1" />
<line x1="305.7" y1="73.72773124424535" x2="308.2" y2="73.72773124424535" stroke="#000" stroke-width="1" />
<line x1="305.7" y1="72.72352939978614" x2="308.2" y2="72.72352939978614" stroke="#000" stroke-width="1" />
<line x1="305.7" y1="71.85365019512085" x2="308.2" y2="71.85365019512085" stroke="#000" stroke-width="1" />
<line x1="305.7" y1="71.08636235841013" x2="308.2" y2="71.08636235841013" stroke="#000" stroke-width="1" />
<line x1="303.7" y1="70.4" x2="308.2" y2="70.4" stroke="#000" stroke-width="1" />
<line x1="305.7" y1="65.88455006504029" x2="308.2" y2="65.88455006504029" stroke="#000" stroke-width="1" />
<line x1="305.7" y1="63.24318117920506" x2="308.2" y2="63.24318117920506" stroke="#000" stroke-width="1" />
<line x1="305.7" y1="61.36910013008056" x2="308.2" y2="61.36910013008056" stroke="#000" stroke-width="1" />
<line x1="305.7" y1="59.91544993495972" x2="308.2" y2="59.91544993495972" stroke="#000" stroke-width="1" />
<line x1="305.7" y1="58.72773124424534" x2="308.2" y2="58.72773124424534" stroke="#000" stroke-width="1" />
<line x1="305.7" y1="57.723529399786145" x2="308.2" y2="57.723529399786145" stroke="#000" stroke-width="1" />
<line x1="305.7" y1="56.85365019512084" x2="308.2" y2="56.85365019512084" stroke="#000" stroke-width="1" />
<line x1="305.7" y1="56.08636235841013" x2="308.2" y2="56.08636235841013" stroke="#000" stroke-width="1" />
<line x1="303.7" y1="55.4" x2="308.2" y2="55.4" stroke="#000" stroke-width="1" />
<rect x="308.2" y="55.4" width="76.10000000000002" height="60.00000000000001" fill="none" stroke="#000" stroke-width="1.3" />
<line x1="331.2" y1="55.4" x2="331.2" y2="115.4" stroke="#000" stroke-width="1.2" />
<line x1="308.2" y1="99.7" x2="384.3" y2="99.7" stroke="#000" stroke-width="1.2" />
<line x1="352" y1="72.6" x2="376.5" y2="72.6" stroke="#000" stroke-width="1.3" />
<line x1="365.6" y1="61.3" x2="365.6" y2="84.3" stroke="#000" stroke-width="1.3" />
<text x="354.5" y="69.9" font-size="9" font-weight="bold" >6</text>
<text x="366.0" y="69.9" font-size="9" font-weight="bold" >12</text>
<text x="351.6" y="81.9" font-size="9" font-weight="bold" >57</text>
<text x="365.8" y="81.9" font-size="9" font-weight="bold" >25</text>
<ellipse cx="416" cy="106.5" rx="8" ry="4.3" transform="rotate(-35 416 106.5)" fill="#000"/>
<path d="M414.7 111.4h1.3v1.3h-1.3zM419.3 102.0h1.3v1.3h-1.3zM403.4 109.7h1.3v1.3h-1.3zM411.8 107.4h1.3v1.3h-1.3zM426.9 101.2h1.3v1.3h-1.3zM416.9 102.0h1.3v1.3h-1.3zM409.4 107.9h1.3v1.3h-1.3zM413.3 104.8h1.3v1.3h-1.3zM421.0 102.6h1.3v1.3h-1.3zM409.2 112.1h1.3v1.3h-1.3zM413.8 102.6h1.3v1.3h-1.3zM417.0 105.8h1.3v1.3h-1.3zM413.7 108.1h1.3v1.3h-1.3zM419.5 100.8h1.3v1.3h-1.3zM405.1 104.3h1.3v1.3h-1.3zM414.7 109.0h1.3v1.3h-1.3zM420.4 106.5h1.3v1.3h-1.3zM424.6 100.5h1.3v1.3h-1.3zM420.6 98.4h1.3v1.3h-1.3zM418.8 104.6h1.3v1.3h-1.3zM414.9 104.4h1.3v1.3h-1.3zM409.8 108.7h1.3v1.3h-1.3zM421.7 101.0h1.3v1.3h-1.3zM418.0 102.1h1.3v1.3h-1.3zM416.6 101.9h1.3v1.3h-1.3zM417.2 103.8h1.3v1.3h-1.3zM416.9 102.9h1.3v1.3h-1.3zM409.5 107.6h1.3v1.3h-1.3zM420.5 106.9h1.3v1.3h-1.3zM413.7 108.4h1.3v1.3h-1.3zM419.1 104.4h1.3v1.3h-1.3zM407.6 110.4h1.3v1.3h-1.3zM410.5 111.1h1.3v1.3h-1.3zM419.3 104.9h1.3v1.3h-1.3zM402.7 113.8h1.3v1.3h-1.3zM418.8 100.0h1.3v1.3h-1.3zM420.2 103.0h1.3v1.3h-1.3zM414.4 103.9h1.3v1.3h-1.3zM410.3 106.9h1.3v1.3h-1.3zM430.8 97.7h1.3v1.3h-1.3zM416.4 103.0h1.3v1.3h-1.3zM412.3 105.5h1.3v1.3h-1.3zM410.9 110.1h1.3v1.3h-1.3zM414.0 108.4h1.3v1.3h-1.3zM409.6 110.9h1.3v1.3h-1.3zM415.2 107.2h1.3v1.3h-1.3zM414.8 103.2h1.3v1.3h-1.3zM421.4 100.9h1.3v1.3h-1.3zM414.6 103.3h1.3v1.3h-1.3zM416.4 103.7h1.3v1.3h-1.3zM416.8 105.5h1.3v1.3h-1.3zM411.9 103.4h1.3v1.3h-1.3zM417.5 106.7h1.3v1.3h-1.3zM418.8 100.4h1.3v1.3h-1.3zM418.4 104.8h1.3v1.3h-1.3zM416.8 105.8h1.3v1.3h-1.3zM413.7 106.8h1.3v1.3h-1.3zM420.0 101.5h1.3v1.3h-1.3zM408.2 108.9h1.3v1.3h-1.3zM416.3 99.8h1.3v1.3h-1.3zM412.0 108.7h1.3v1.3h-1.3zM414.6 106.0h1.3v1.3h-1.3zM409.1 111.2h1.3v1.3h-1.3zM424.1 100.1h1.3v1.3h-1.3zM411.7 104.2h1.3v1.3h-1.3zM419.8 103.3h1.3v1.3h-1.3zM411.4 110.8h1.3v1.3h-1.3zM419.2 105.0h1.3v1.3h-1.3zM406.6 109.7h1.3v1.3h-1.3zM418.5 100.4h1.3v1.3h-1.3zM420.0 106.8h1.3v1.3h-1.3zM420.5 100.6h1.3v1.3h-1.3zM411.8 109.8h1.3v1.3h-1.3zM420.3 106.0h1.3v1.3h-1.3zM421.4 101.9h1.3v1.3h-1.3zM413.3 101.4h1.3v1.3h-1.3zM419.3 109.4h1.3v1.3h-1.3zM413.0 105.3h1.3v1.3h-1.3zM418.6 104.6h1.3v1.3h-1.3zM408.5 107.1h1.3v1.3h-1.3zM409.9 113.8h1.3v1.3h-1.3zM411.8 109.6h1.3v1.3h-1.3zM424.9 105.4h1.3v1.3h-1.3zM422.5 106.0h1.3v1.3h-1.3zM409.2 107.7h1.3v1.3h-1.3zM411.7 106.5h1.3v1.3h-1.3zM428.5 93.8h1.3v1.3h-1.3zM418.1 100.5h1.3v1.3h-1.3zM422.0 105.3h1.3v1.3h-1.3zM412.8 112.3h1.3v1.3h-1.3zM415.7 108.7h1.3v1.3h-1.3zM416.9 103.0h1.3v1.3h-1.3zM413.4 106.0h1.3v1.3h-1.3zM418.4 104.0h1.3v1.3h-1.3zM427.2 98.5h1.3v1.3h-1.3zM413.0 104.6h1.3v1.3h-1.3zM411.5 103.5h1.3v1.3h-1.3zM410.4 110.4h1.3v1.3h-1.3zM415.7 104.7h1.3v1.3h-1.3zM417.1 107.3h1.3v1.3h-1.3zM418.4 105.8h1.3v1.3h-1.3zM412.6 106.1h1.3v1.3h-1.3zM411.5 107.2h1.3v1.3h-1.3zM411.3 106.5h1.3v1.3h-1.3zM414.5 105.2h1.3v1.3h-1.3zM414.0 104.7h1.3v1.3h-1.3zM421.9 100.9h1.3v1.3h-1.3zM410.3 108.6h1.3v1.3h-1.3zM409.9 105.3h1.3v1.3h-1.3zM415.8 100.6h1.3v1.3h-1.3zM420.5 98.1h1.3v1.3h-1.3zM410.9 109.3h1.3v1.3h-1.3zM405.4 108.3h1.3v1.3h-1.3zM409.3 108.0h1.3v1.3h-1.3zM405.5 113.0h1.3v1.3h-1.3zM414.6 106.6h1.3v1.3h-1.3zM413.7 100.5h1.3v1.3h-1.3zM414.6 102.1h1.3v1.3h-1.3zM415.4 103.0h1.3v1.3h-1.3zM413.8 105.6h1.3v1.3h-1.3zM419.2 105.4h1.3v1.3h-1.3zM410.3 108.0h1.3v1.3h-1.3zM422.6 102.8h1.3v1.3h-1.3zM411.7 107.0h1.3v1.3h-1.3zM413.6 108.8h1.3v1.3h-1.3zM415.5 106.3h1.3v1.3h-1.3zM426.4 95.7h1.3v1.3h-1.3zM410.3 103.3h1.3v1.3h-1.3zM407.4 111.9h1.3v1.3h-1.3zM416.8 109.0h1.3v1.3h-1.3zM405.5 108.2h1.3v1.3h-1.3zM422.6 104.3h1.3v1.3h-1.3zM419.8 105.4h1.3v1.3h-1.3zM415.5 105.2h1.3v1.3h-1.3zM415.5 107.6h1.3v1.3h-1.3zM414.5 106.7h1.3v1.3h-1.3zM422.6 98.4h1.3v1.3h-1.3zM411.6 108.9h1.3v1.3h-1.3zM414.0 105.6h1.3v1.3h-1.3zM425.8 100.9h1.3v1.3h-1.3zM413.3 109.4h1.3v1.3h-1.3zM427.9 95.6h1.3v1.3h-1.3zM412.0 107.4h1.3v1.3h-1.3zM412.2 112.9h1.3v1.3h-1.3zM418.0 102.9h1.3v1.3h-1.3zM417.8 101.9h1.3v1.3h-1.3zM412.3 107.2h1.3v1.3h-1.3zM427.3 92.9h1.3v1.3h-1.3zM417.5 107.9h1.3v1.3h-1.3zM419.1 108.6h1.3v1.3h-1.3zM417.6 104.5h1.3v1.3h-1.3zM414.7 103.4h1.3v1.3h-1.3zM423.5 97.8h1.3v1.3h-1.3zM414.7 104.3h1.3v1.3h-1.3zM411.4 101.4h1.3v1.3h-1.3zM413.4 106.7h1.3v1.3h-1.3zM416.1 107.3h1.3v1.3h-1.3zM414.5 104.0h1.3v1.3h-1.3zM416.9 106.3h1.3v1.3h-1.3zM410.8 103.6h1.3v1.3h-1.3zM410.2 110.9h1.3v1.3h-1.3zM420.3 100.3h1.3v1.3h-1.3zM415.9 107.3h1.3v1.3h-1.3zM422.0 100.0h1.3v1.3h-1.3zM414.2 109.8h1.3v1.3h-1.3zM427.4 103.1h1.3v1.3h-1.3zM409.6 109.6h1.3v1.3h-1.3zM413.9 106.0h1.3v1.3h-1.3zM412.0 105.8h1.3v1.3h-1.3zM415.3 110.3h1.3v1.3h-1.3zM418.8 104.6h1.3v1.3h-1.3zM415.5 103.2h1.3v1.3h-1.3zM414.2 109.3h1.3v1.3h-1.3zM419.5 108.5h1.3v1.3h-1.3zM416.7 104.6h1.3v1.3h-1.3zM407.3 110.7h1.3v1.3h-1.3zM406.7 114.1h1.3v1.3h-1.3zM412.2 107.0h1.3v1.3h-1.3z" fill="#000"/>
<path d="M423.3 96.8h1.2v1.2h-1.2zM425.8 100.5h1.2v1.2h-1.2zM432.9 91.6h1.2v1.2h-1.2zM419.8 99.3h1.2v1.2h-1.2zM428.5 93.3h1.2v1.2h-1.2zM434.9 93.6h1.2v1.2h-1.2zM432.1 93.5h1.2v1.2h-1.2zM428.0 95.3h1.2v1.2h-1.2zM421.8 100.5h1.2v1.2h-1.2zM433.8 89.7h1.2v1.2h-1.2zM432.0 98.4h1.2v1.2h-1.2zM432.8 98.5h1.2v1.2h-1.2zM429.8 96.0h1.2v1.2h-1.2zM423.6 95.6h1.2v1.2h-1.2zM420.5 96.7h1.2v1.2h-1.2zM432.9 96.3h1.2v1.2h-1.2zM438.4 93.3h1.2v1.2h-1.2zM425.5 98.7h1.2v1.2h-1.2zM430.5 100.7h1.2v1.2h-1.2zM443.2 94.0h1.2v1.2h-1.2zM424.6 96.3h1.2v1.2h-1.2zM432.5 93.0h1.2v1.2h-1.2zM434.5 96.2h1.2v1.2h-1.2zM436.4 94.3h1.2v1.2h-1.2zM426.1 94.9h1.2v1.2h-1.2zM430.7 99.4h1.2v1.2h-1.2zM440.8 94.8h1.2v1.2h-1.2zM433.6 96.5h1.2v1.2h-1.2zM436.3 97.3h1.2v1.2h-1.2zM436.5 89.3h1.2v1.2h-1.2zM437.1 94.5h1.2v1.2h-1.2zM428.6 97.8h1.2v1.2h-1.2zM433.1 94.6h1.2v1.2h-1.2zM421.3 99.3h1.2v1.2h-1.2zM434.7 94.1h1.2v1.2h-1.2zM421.9 100.0h1.2v1.2h-1.2zM435.7 94.4h1.2v1.2h-1.2zM434.0 93.5h1.2v1.2h-1.2zM427.5 98.2h1.2v1.2h-1.2zM429.3 96.7h1.2v1.2h-1.2zM450.9 90.6h1.2v1.2h-1.2zM432.2 90.6h1.2v1.2h-1.2zM432.0 97.3h1.2v1.2h-1.2zM427.2 96.2h1.2v1.2h-1.2zM417.9 101.7h1.2v1.2h-1.2zM427.8 98.6h1.2v1.2h-1.2zM439.6 92.1h1.2v1.2h-1.2zM437.3 94.0h1.2v1.2h-1.2zM430.2 95.0h1.2v1.2h-1.2zM426.3 100.8h1.2v1.2h-1.2zM436.7 90.7h1.2v1.2h-1.2zM436.5 91.6h1.2v1.2h-1.2zM422.4 101.9h1.2v1.2h-1.2zM423.7 101.4h1.2v1.2h-1.2zM432.6 97.5h1.2v1.2h-1.2zM434.5 97.6h1.2v1.2h-1.2zM433.5 96.3h1.2v1.2h-1.2zM432.9 97.9h1.2v1.2h-1.2zM429.1 99.1h1.2v1.2h-1.2zM440.4 92.1h1.2v1.2h-1.2zM434.0 93.0h1.2v1.2h-1.2zM429.7 96.7h1.2v1.2h-1.2zM429.3 93.6h1.2v1.2h-1.2zM431.2 96.0h1.2v1.2h-1.2zM433.3 96.7h1.2v1.2h-1.2zM420.8 103.1h1.2v1.2h-1.2zM430.4 93.6h1.2v1.2h-1.2zM429.2 97.4h1.2v1.2h-1.2zM436.6 92.5h1.2v1.2h-1.2zM432.3 90.6h1.2v1.2h-1.2zM432.4 94.7h1.2v1.2h-1.2zM428.8 98.8h1.2v1.2h-1.2zM442.2 94.5h1.2v1.2h-1.2zM426.7 101.3h1.2v1.2h-1.2zM429.4 96.0h1.2v1.2h-1.2zM427.9 97.9h1.2v1.2h-1.2zM434.7 94.6h1.2v1.2h-1.2zM430.1 95.4h1.2v1.2h-1.2zM429.0 99.0h1.2v1.2h-1.2zM428.3 96.1h1.2v1.2h-1.2zM430.1 93.7h1.2v1.2h-1.2zM430.0 91.8h1.2v1.2h-1.2zM433.8 96.1h1.2v1.2h-1.2zM429.6 100.4h1.2v1.2h-1.2zM426.5 98.7h1.2v1.2h-1.2zM434.3 92.9h1.2v1.2h-1.2zM430.0 98.4h1.2v1.2h-1.2zM431.8 96.1h1.2v1.2h-1.2zM439.8 93.1h1.2v1.2h-1.2zM421.4 96.8h1.2v1.2h-1.2z" fill="#000"/>
<path d="M443.4 94.6h1.2v1.2h-1.2zM431.2 109.5h1.2v1.2h-1.2zM413.0 103.9h1.2v1.2h-1.2zM431.1 110.3h1.2v1.2h-1.2zM439.1 93.0h1.2v1.2h-1.2zM429.7 89.6h1.2v1.2h-1.2zM421.5 96.8h1.2v1.2h-1.2zM406.8 96.6h1.2v1.2h-1.2zM417.5 99.3h1.2v1.2h-1.2zM415.6 91.2h1.2v1.2h-1.2zM420.5 98.8h1.2v1.2h-1.2zM411.1 103.4h1.2v1.2h-1.2zM414.0 89.6h1.2v1.2h-1.2zM418.1 97.5h1.2v1.2h-1.2zM410.4 101.4h1.2v1.2h-1.2zM432.5 100.7h1.2v1.2h-1.2zM432.4 88.0h1.2v1.2h-1.2zM420.1 96.1h1.2v1.2h-1.2zM406.9 97.1h1.2v1.2h-1.2zM406.6 99.3h1.2v1.2h-1.2zM427.8 98.7h1.2v1.2h-1.2zM417.4 93.5h1.2v1.2h-1.2zM405.3 95.7h1.2v1.2h-1.2zM440.1 101.0h1.2v1.2h-1.2zM414.9 103.4h1.2v1.2h-1.2zM411.8 98.7h1.2v1.2h-1.2zM429.0 110.3h1.2v1.2h-1.2zM418.9 101.2h1.2v1.2h-1.2zM442.1 105.9h1.2v1.2h-1.2zM429.5 102.3h1.2v1.2h-1.2z" fill="#000"/>
<rect x="401.2" y="55.3" width="76.0" height="60.900000000000006" fill="none" stroke="#000" stroke-width="1.3" />
<line x1="424.1" y1="55.3" x2="424.1" y2="116.2" stroke="#000" stroke-width="1.2" />
<line x1="401.2" y1="100.1" x2="477.2" y2="100.1" stroke="#000" stroke-width="1.2" />
<line x1="445" y1="71.4" x2="468.5" y2="71.4" stroke="#000" stroke-width="1.3" />
<line x1="457.3" y1="60.7" x2="457.3" y2="82.9" stroke="#000" stroke-width="1.3" />
<text x="447.6" y="68.5" font-size="9" font-weight="bold" >2</text>
<text x="459.0" y="68.5" font-size="9" font-weight="bold" >16</text>
<text x="442.90000000000003" y="80.7" font-size="9" font-weight="bold" >70</text>
<text x="459.0" y="80.7" font-size="9" font-weight="bold" >12</text>
<path d="M319.6 180.6h1.2v1.2h-1.2zM325.3 183.6h1.2v1.2h-1.2zM335.5 176.0h1.2v1.2h-1.2zM330.8 177.8h1.2v1.2h-1.2zM336.2 180.1h1.2v1.2h-1.2zM325.0 181.0h1.2v1.2h-1.2zM334.0 177.7h1.2v1.2h-1.2zM330.9 180.0h1.2v1.2h-1.2zM325.3 176.9h1.2v1.2h-1.2zM340.9 177.4h1.2v1.2h-1.2zM322.6 180.1h1.2v1.2h-1.2zM313.9 179.8h1.2v1.2h-1.2zM315.0 178.4h1.2v1.2h-1.2zM310.9 178.0h1.2v1.2h-1.2zM337.2 177.2h1.2v1.2h-1.2zM316.5 184.0h1.2v1.2h-1.2zM322.2 182.8h1.2v1.2h-1.2zM323.3 175.0h1.2v1.2h-1.2zM346.6 175.8h1.2v1.2h-1.2zM335.9 180.9h1.2v1.2h-1.2zM315.5 179.7h1.2v1.2h-1.2zM322.8 180.5h1.2v1.2h-1.2zM328.3 175.1h1.2v1.2h-1.2zM329.0 180.4h1.2v1.2h-1.2zM325.6 180.1h1.2v1.2h-1.2zM323.2 178.7h1.2v1.2h-1.2zM331.9 178.5h1.2v1.2h-1.2zM340.9 179.8h1.2v1.2h-1.2zM336.7 179.6h1.2v1.2h-1.2zM330.0 175.2h1.2v1.2h-1.2zM338.9 182.1h1.2v1.2h-1.2zM330.7 177.6h1.2v1.2h-1.2zM328.1 181.6h1.2v1.2h-1.2zM331.3 175.6h1.2v1.2h-1.2zM326.8 176.5h1.2v1.2h-1.2zM326.5 176.2h1.2v1.2h-1.2zM319.9 183.0h1.2v1.2h-1.2zM338.7 173.3h1.2v1.2h-1.2zM318.9 178.1h1.2v1.2h-1.2zM324.7 175.1h1.2v1.2h-1.2zM337.2 173.5h1.2v1.2h-1.2zM335.3 179.7h1.2v1.2h-1.2zM324.9 177.0h1.2v1.2h-1.2zM329.1 178.8h1.2v1.2h-1.2zM333.7 177.7h1.2v1.2h-1.2zM324.4 176.2h1.2v1.2h-1.2zM321.6 177.0h1.2v1.2h-1.2zM355.8 172.8h1.2v1.2h-1.2zM343.5 178.4h1.2v1.2h-1.2zM330.6 178.8h1.2v1.2h-1.2zM324.8 182.9h1.2v1.2h-1.2zM333.5 177.9h1.2v1.2h-1.2zM327.3 179.0h1.2v1.2h-1.2zM317.3 178.5h1.2v1.2h-1.2zM322.4 180.5h1.2v1.2h-1.2zM334.4 173.1h1.2v1.2h-1.2zM326.3 181.2h1.2v1.2h-1.2zM315.8 176.4h1.2v1.2h-1.2zM338.3 177.3h1.2v1.2h-1.2zM324.1 175.6h1.2v1.2h-1.2zM330.1 176.8h1.2v1.2h-1.2zM330.6 179.4h1.2v1.2h-1.2zM335.4 177.0h1.2v1.2h-1.2zM323.3 178.9h1.2v1.2h-1.2zM327.5 178.9h1.2v1.2h-1.2zM323.3 178.2h1.2v1.2h-1.2zM322.8 177.4h1.2v1.2h-1.2zM330.0 181.3h1.2v1.2h-1.2zM323.2 180.4h1.2v1.2h-1.2zM331.9 178.4h1.2v1.2h-1.2zM335.1 176.4h1.2v1.2h-1.2zM334.0 178.7h1.2v1.2h-1.2zM334.3 183.0h1.2v1.2h-1.2zM318.1 179.5h1.2v1.2h-1.2zM331.9 175.6h1.2v1.2h-1.2zM340.2 178.6h1.2v1.2h-1.2zM320.7 175.9h1.2v1.2h-1.2zM324.4 185.0h1.2v1.2h-1.2zM349.6 170.2h1.2v1.2h-1.2zM310.7 181.7h1.2v1.2h-1.2zM327.4 176.8h1.2v1.2h-1.2zM334.4 178.2h1.2v1.2h-1.2zM331.3 178.9h1.2v1.2h-1.2zM317.8 182.8h1.2v1.2h-1.2zM324.0 181.8h1.2v1.2h-1.2zM335.3 177.9h1.2v1.2h-1.2zM329.8 178.2h1.2v1.2h-1.2zM310.4 179.1h1.2v1.2h-1.2zM332.7 173.8h1.2v1.2h-1.2zM313.9 182.5h1.2v1.2h-1.2zM336.4 173.7h1.2v1.2h-1.2zM333.0 177.9h1.2v1.2h-1.2zM338.1 176.8h1.2v1.2h-1.2zM326.3 176.6h1.2v1.2h-1.2zM330.2 177.9h1.2v1.2h-1.2zM322.0 178.0h1.2v1.2h-1.2zM321.1 180.7h1.2v1.2h-1.2zM318.3 175.2h1.2v1.2h-1.2zM319.0 182.1h1.2v1.2h-1.2zM323.5 180.5h1.2v1.2h-1.2zM335.7 176.5h1.2v1.2h-1.2zM335.9 179.1h1.2v1.2h-1.2zM328.0 176.6h1.2v1.2h-1.2zM327.9 175.1h1.2v1.2h-1.2zM325.7 177.1h1.2v1.2h-1.2zM332.8 178.9h1.2v1.2h-1.2zM322.1 181.2h1.2v1.2h-1.2zM340.2 177.6h1.2v1.2h-1.2zM321.2 180.3h1.2v1.2h-1.2zM334.2 183.2h1.2v1.2h-1.2zM321.2 183.0h1.2v1.2h-1.2zM351.4 181.4h1.2v1.2h-1.2zM330.3 180.9h1.2v1.2h-1.2zM326.7 176.9h1.2v1.2h-1.2zM326.2 182.6h1.2v1.2h-1.2zM336.7 176.9h1.2v1.2h-1.2zM332.2 180.4h1.2v1.2h-1.2zM334.1 177.8h1.2v1.2h-1.2zM321.9 177.0h1.2v1.2h-1.2zM324.1 177.3h1.2v1.2h-1.2zM312.8 176.0h1.2v1.2h-1.2zM337.1 174.7h1.2v1.2h-1.2zM315.5 179.4h1.2v1.2h-1.2zM342.8 180.5h1.2v1.2h-1.2zM324.3 176.0h1.2v1.2h-1.2zM323.1 176.4h1.2v1.2h-1.2zM323.0 180.1h1.2v1.2h-1.2zM317.9 177.2h1.2v1.2h-1.2zM325.9 178.5h1.2v1.2h-1.2zM320.8 177.0h1.2v1.2h-1.2zM317.2 177.4h1.2v1.2h-1.2zM333.6 177.3h1.2v1.2h-1.2zM327.7 176.1h1.2v1.2h-1.2zM325.9 170.6h1.2v1.2h-1.2zM312.0 182.9h1.2v1.2h-1.2zM349.6 182.4h1.2v1.2h-1.2zM321.1 179.1h1.2v1.2h-1.2zM336.2 174.5h1.2v1.2h-1.2zM345.8 175.0h1.2v1.2h-1.2zM331.9 175.0h1.2v1.2h-1.2zM332.1 178.1h1.2v1.2h-1.2zM339.2 174.4h1.2v1.2h-1.2zM328.3 183.3h1.2v1.2h-1.2zM316.5 180.3h1.2v1.2h-1.2zM332.8 176.7h1.2v1.2h-1.2zM325.7 182.4h1.2v1.2h-1.2zM339.8 179.0h1.2v1.2h-1.2zM331.1 175.2h1.2v1.2h-1.2zM329.3 183.1h1.2v1.2h-1.2zM338.9 173.9h1.2v1.2h-1.2zM330.1 176.8h1.2v1.2h-1.2zM325.3 179.6h1.2v1.2h-1.2zM337.4 178.2h1.2v1.2h-1.2zM340.9 173.5h1.2v1.2h-1.2zM333.1 179.1h1.2v1.2h-1.2zM313.5 183.0h1.2v1.2h-1.2zM312.4 175.9h1.2v1.2h-1.2zM355.1 179.6h1.2v1.2h-1.2zM332.2 181.7h1.2v1.2h-1.2zM339.9 174.4h1.2v1.2h-1.2zM333.3 181.7h1.2v1.2h-1.2zM326.8 178.7h1.2v1.2h-1.2zM323.8 180.8h1.2v1.2h-1.2zM322.9 177.3h1.2v1.2h-1.2zM316.1 176.9h1.2v1.2h-1.2zM330.6 179.5h1.2v1.2h-1.2zM324.5 175.9h1.2v1.2h-1.2zM331.8 179.1h1.2v1.2h-1.2zM341.2 176.0h1.2v1.2h-1.2zM324.3 180.1h1.2v1.2h-1.2zM343.7 177.0h1.2v1.2h-1.2zM327.6 176.0h1.2v1.2h-1.2zM324.6 181.3h1.2v1.2h-1.2zM337.0 180.7h1.2v1.2h-1.2zM311.9 182.0h1.2v1.2h-1.2zM319.1 180.8h1.2v1.2h-1.2zM319.5 182.6h1.2v1.2h-1.2zM329.6 181.8h1.2v1.2h-1.2zM324.0 184.1h1.2v1.2h-1.2zM323.9 183.9h1.2v1.2h-1.2zM323.5 176.2h1.2v1.2h-1.2zM337.5 176.6h1.2v1.2h-1.2zM327.8 174.8h1.2v1.2h-1.2zM324.9 179.0h1.2v1.2h-1.2zM321.3 180.1h1.2v1.2h-1.2zM324.3 182.7h1.2v1.2h-1.2zM324.9 176.9h1.2v1.2h-1.2zM323.9 179.5h1.2v1.2h-1.2zM334.4 176.7h1.2v1.2h-1.2zM320.4 180.2h1.2v1.2h-1.2zM336.8 173.0h1.2v1.2h-1.2zM317.8 177.5h1.2v1.2h-1.2zM345.7 180.3h1.2v1.2h-1.2zM336.5 179.1h1.2v1.2h-1.2zM317.1 182.4h1.2v1.2h-1.2zM323.9 176.6h1.2v1.2h-1.2zM348.0 172.8h1.2v1.2h-1.2zM342.4 177.8h1.2v1.2h-1.2zM319.1 179.7h1.2v1.2h-1.2zM319.9 179.6h1.2v1.2h-1.2zM321.9 175.7h1.2v1.2h-1.2zM355.3 174.8h1.2v1.2h-1.2zM338.4 177.4h1.2v1.2h-1.2zM335.3 174.4h1.2v1.2h-1.2zM317.9 170.4h1.2v1.2h-1.2zM338.6 178.8h1.2v1.2h-1.2zM316.5 181.7h1.2v1.2h-1.2zM334.4 185.8h1.2v1.2h-1.2zM330.8 180.7h1.2v1.2h-1.2zM334.6 180.0h1.2v1.2h-1.2zM328.2 177.3h1.2v1.2h-1.2zM335.6 181.1h1.2v1.2h-1.2zM316.6 176.3h1.2v1.2h-1.2zM328.0 183.3h1.2v1.2h-1.2zM326.3 174.0h1.2v1.2h-1.2zM336.6 179.8h1.2v1.2h-1.2zM348.1 177.3h1.2v1.2h-1.2zM348.4 174.8h1.2v1.2h-1.2zM337.6 178.0h1.2v1.2h-1.2zM316.4 178.7h1.2v1.2h-1.2zM341.9 180.3h1.2v1.2h-1.2zM324.6 181.7h1.2v1.2h-1.2zM337.6 180.1h1.2v1.2h-1.2zM331.4 179.0h1.2v1.2h-1.2zM320.1 178.9h1.2v1.2h-1.2zM329.7 176.3h1.2v1.2h-1.2zM325.5 179.1h1.2v1.2h-1.2zM330.6 181.1h1.2v1.2h-1.2zM318.0 178.2h1.2v1.2h-1.2zM331.2 177.2h1.2v1.2h-1.2zM331.8 176.9h1.2v1.2h-1.2zM340.4 176.8h1.2v1.2h-1.2zM316.9 181.4h1.2v1.2h-1.2zM345.3 171.8h1.2v1.2h-1.2zM327.1 178.7h1.2v1.2h-1.2zM338.9 181.6h1.2v1.2h-1.2zM326.9 174.3h1.2v1.2h-1.2zM335.2 180.6h1.2v1.2h-1.2zM333.2 178.2h1.2v1.2h-1.2zM320.2 185.7h1.2v1.2h-1.2zM316.3 175.4h1.2v1.2h-1.2zM338.3 178.4h1.2v1.2h-1.2zM335.3 178.8h1.2v1.2h-1.2zM345.5 180.8h1.2v1.2h-1.2zM322.9 181.6h1.2v1.2h-1.2zM316.6 174.8h1.2v1.2h-1.2zM340.6 176.2h1.2v1.2h-1.2zM321.8 180.3h1.2v1.2h-1.2zM327.9 176.4h1.2v1.2h-1.2zM321.3 181.1h1.2v1.2h-1.2zM319.1 179.5h1.2v1.2h-1.2zM318.5 180.5h1.2v1.2h-1.2zM346.5 178.4h1.2v1.2h-1.2zM339.7 178.7h1.2v1.2h-1.2zM318.7 178.4h1.2v1.2h-1.2zM329.2 179.5h1.2v1.2h-1.2zM322.4 180.6h1.2v1.2h-1.2zM321.2 179.2h1.2v1.2h-1.2zM328.4 175.3h1.2v1.2h-1.2zM338.6 177.7h1.2v1.2h-1.2zM329.6 178.2h1.2v1.2h-1.2zM319.4 181.8h1.2v1.2h-1.2zM322.6 180.5h1.2v1.2h-1.2zM318.1 177.0h1.2v1.2h-1.2zM323.7 181.7h1.2v1.2h-1.2zM311.7 179.3h1.2v1.2h-1.2zM332.6 178.4h1.2v1.2h-1.2zM328.3 180.5h1.2v1.2h-1.2zM331.4 175.5h1.2v1.2h-1.2zM334.9 175.8h1.2v1.2h-1.2zM325.0 182.6h1.2v1.2h-1.2zM353.1 180.3h1.2v1.2h-1.2zM332.8 176.0h1.2v1.2h-1.2zM320.8 183.5h1.2v1.2h-1.2zM331.8 174.4h1.2v1.2h-1.2zM344.3 178.6h1.2v1.2h-1.2zM341.8 178.4h1.2v1.2h-1.2zM327.0 178.1h1.2v1.2h-1.2zM343.7 175.3h1.2v1.2h-1.2zM327.5 178.3h1.2v1.2h-1.2zM327.5 175.7h1.2v1.2h-1.2zM316.1 172.5h1.2v1.2h-1.2zM331.8 177.6h1.2v1.2h-1.2zM330.5 175.4h1.2v1.2h-1.2zM328.5 175.8h1.2v1.2h-1.2zM318.3 180.2h1.2v1.2h-1.2zM334.9 179.4h1.2v1.2h-1.2zM328.0 177.4h1.2v1.2h-1.2zM342.5 180.6h1.2v1.2h-1.2z" fill="#000"/>
<path d="M320.6 176.6h1.3v1.3h-1.3zM326.6 180.2h1.3v1.3h-1.3zM318.9 185.1h1.3v1.3h-1.3zM311.7 177.3h1.3v1.3h-1.3zM325.9 181.9h1.3v1.3h-1.3zM313.2 178.3h1.3v1.3h-1.3zM333.1 182.9h1.3v1.3h-1.3zM322.9 179.5h1.3v1.3h-1.3zM319.0 180.4h1.3v1.3h-1.3zM318.0 174.2h1.3v1.3h-1.3zM315.2 179.5h1.3v1.3h-1.3zM316.4 182.2h1.3v1.3h-1.3zM332.1 181.9h1.3v1.3h-1.3zM328.3 182.2h1.3v1.3h-1.3zM326.0 181.6h1.3v1.3h-1.3zM327.2 181.3h1.3v1.3h-1.3zM318.2 177.7h1.3v1.3h-1.3zM318.4 181.5h1.3v1.3h-1.3zM327.4 177.4h1.3v1.3h-1.3zM318.4 177.9h1.3v1.3h-1.3zM329.7 179.1h1.3v1.3h-1.3zM322.9 177.6h1.3v1.3h-1.3zM323.7 183.4h1.3v1.3h-1.3zM320.2 178.5h1.3v1.3h-1.3zM334.7 181.2h1.3v1.3h-1.3zM317.5 182.1h1.3v1.3h-1.3zM316.8 180.8h1.3v1.3h-1.3zM309.1 176.9h1.3v1.3h-1.3zM329.9 177.9h1.3v1.3h-1.3zM320.0 179.5h1.3v1.3h-1.3zM324.4 178.2h1.3v1.3h-1.3zM320.3 183.9h1.3v1.3h-1.3zM333.4 180.2h1.3v1.3h-1.3zM317.4 178.0h1.3v1.3h-1.3zM322.6 180.6h1.3v1.3h-1.3zM334.1 178.1h1.3v1.3h-1.3zM325.3 178.3h1.3v1.3h-1.3zM325.2 177.6h1.3v1.3h-1.3zM326.7 182.3h1.3v1.3h-1.3zM322.0 178.5h1.3v1.3h-1.3zM325.1 176.1h1.3v1.3h-1.3zM335.3 176.0h1.3v1.3h-1.3zM322.2 177.1h1.3v1.3h-1.3zM333.5 178.1h1.3v1.3h-1.3zM321.3 184.1h1.3v1.3h-1.3zM323.7 177.4h1.3v1.3h-1.3zM324.4 179.9h1.3v1.3h-1.3zM319.9 178.9h1.3v1.3h-1.3zM323.1 181.2h1.3v1.3h-1.3zM329.0 181.5h1.3v1.3h-1.3zM323.7 181.4h1.3v1.3h-1.3zM323.1 182.3h1.3v1.3h-1.3zM326.8 178.3h1.3v1.3h-1.3zM331.8 175.6h1.3v1.3h-1.3zM318.5 177.4h1.3v1.3h-1.3zM323.6 176.3h1.3v1.3h-1.3zM317.1 174.6h1.3v1.3h-1.3zM325.1 177.4h1.3v1.3h-1.3zM337.6 181.3h1.3v1.3h-1.3zM317.5 182.7h1.3v1.3h-1.3zM325.0 182.1h1.3v1.3h-1.3zM317.7 182.3h1.3v1.3h-1.3zM331.0 178.3h1.3v1.3h-1.3zM319.3 178.4h1.3v1.3h-1.3zM326.0 185.4h1.3v1.3h-1.3zM335.3 183.1h1.3v1.3h-1.3zM323.1 178.5h1.3v1.3h-1.3zM326.6 178.7h1.3v1.3h-1.3zM321.6 178.8h1.3v1.3h-1.3zM329.5 179.2h1.3v1.3h-1.3zM325.8 178.7h1.3v1.3h-1.3zM323.2 178.5h1.3v1.3h-1.3zM332.0 180.0h1.3v1.3h-1.3zM333.4 178.9h1.3v1.3h-1.3zM330.8 175.9h1.3v1.3h-1.3zM322.0 179.2h1.3v1.3h-1.3zM320.6 179.1h1.3v1.3h-1.3zM318.8 179.0h1.3v1.3h-1.3zM320.4 179.4h1.3v1.3h-1.3zM322.6 176.9h1.3v1.3h-1.3zM321.9 179.4h1.3v1.3h-1.3zM316.7 179.6h1.3v1.3h-1.3zM331.9 178.8h1.3v1.3h-1.3zM327.7 180.9h1.3v1.3h-1.3zM319.6 182.7h1.3v1.3h-1.3zM339.5 176.8h1.3v1.3h-1.3zM337.3 177.6h1.3v1.3h-1.3zM333.2 174.8h1.3v1.3h-1.3zM331.3 179.7h1.3v1.3h-1.3zM316.7 177.3h1.3v1.3h-1.3zM318.1 177.1h1.3v1.3h-1.3zM326.7 178.9h1.3v1.3h-1.3zM309.3 178.6h1.3v1.3h-1.3zM327.2 179.6h1.3v1.3h-1.3zM334.6 174.7h1.3v1.3h-1.3zM325.9 179.4h1.3v1.3h-1.3zM328.8 176.0h1.3v1.3h-1.3zM316.5 178.9h1.3v1.3h-1.3zM324.9 174.8h1.3v1.3h-1.3zM326.6 179.4h1.3v1.3h-1.3z" fill="#000"/>
<path d="M349.1 152.6h1.2v1.2h-1.2zM348.0 158.2h1.2v1.2h-1.2zM343.0 166.2h1.2v1.2h-1.2zM353.9 156.7h1.2v1.2h-1.2zM344.9 166.3h1.2v1.2h-1.2zM340.9 165.2h1.2v1.2h-1.2zM342.9 161.6h1.2v1.2h-1.2zM346.4 167.2h1.2v1.2h-1.2zM346.7 162.9h1.2v1.2h-1.2zM345.3 165.6h1.2v1.2h-1.2zM346.3 159.3h1.2v1.2h-1.2zM345.9 165.9h1.2v1.2h-1.2zM345.0 166.0h1.2v1.2h-1.2zM345.1 168.2h1.2v1.2h-1.2zM346.9 163.2h1.2v1.2h-1.2zM344.0 165.7h1.2v1.2h-1.2zM344.3 159.2h1.2v1.2h-1.2zM347.0 158.0h1.2v1.2h-1.2zM352.9 159.2h1.2v1.2h-1.2zM345.5 164.2h1.2v1.2h-1.2zM332.4 176.0h1.2v1.2h-1.2zM342.2 166.6h1.2v1.2h-1.2zM358.3 148.7h1.2v1.2h-1.2zM343.4 164.8h1.2v1.2h-1.2zM347.6 156.3h1.2v1.2h-1.2zM340.8 169.8h1.2v1.2h-1.2zM342.4 166.1h1.2v1.2h-1.2zM338.5 164.9h1.2v1.2h-1.2zM336.3 169.7h1.2v1.2h-1.2zM351.3 158.5h1.2v1.2h-1.2zM344.1 164.0h1.2v1.2h-1.2zM347.8 159.9h1.2v1.2h-1.2zM348.2 165.7h1.2v1.2h-1.2zM356.6 152.8h1.2v1.2h-1.2zM339.1 172.2h1.2v1.2h-1.2zM350.4 162.1h1.2v1.2h-1.2zM348.5 159.6h1.2v1.2h-1.2zM350.4 161.9h1.2v1.2h-1.2zM351.4 155.2h1.2v1.2h-1.2zM350.6 157.7h1.2v1.2h-1.2zM343.6 164.6h1.2v1.2h-1.2zM343.7 169.9h1.2v1.2h-1.2zM348.3 161.1h1.2v1.2h-1.2zM344.5 163.8h1.2v1.2h-1.2zM344.3 164.8h1.2v1.2h-1.2zM349.8 161.5h1.2v1.2h-1.2zM339.1 166.0h1.2v1.2h-1.2zM345.9 158.8h1.2v1.2h-1.2zM347.3 160.6h1.2v1.2h-1.2zM345.7 163.2h1.2v1.2h-1.2z" fill="#000"/>
<path d="M318.6 166.1h1.2v1.2h-1.2zM330.9 160.5h1.2v1.2h-1.2zM315.6 156.7h1.2v1.2h-1.2zM323.8 155.9h1.2v1.2h-1.2zM328.3 170.8h1.2v1.2h-1.2zM321.6 162.7h1.2v1.2h-1.2zM329.3 159.6h1.2v1.2h-1.2zM316.2 170.2h1.2v1.2h-1.2zM332.0 149.9h1.2v1.2h-1.2zM327.7 158.2h1.2v1.2h-1.2zM313.4 153.0h1.2v1.2h-1.2zM315.9 165.6h1.2v1.2h-1.2zM316.6 149.8h1.2v1.2h-1.2zM316.8 167.0h1.2v1.2h-1.2zM322.4 163.8h1.2v1.2h-1.2zM321.7 153.4h1.2v1.2h-1.2zM312.7 156.1h1.2v1.2h-1.2zM313.2 155.1h1.2v1.2h-1.2zM324.8 157.5h1.2v1.2h-1.2zM321.9 163.1h1.2v1.2h-1.2zM318.7 157.2h1.2v1.2h-1.2zM330.1 162.2h1.2v1.2h-1.2zM320.7 161.3h1.2v1.2h-1.2zM321.6 156.7h1.2v1.2h-1.2zM330.7 154.5h1.2v1.2h-1.2zM331.1 168.2h1.2v1.2h-1.2zM330.0 153.0h1.2v1.2h-1.2zM322.6 171.1h1.2v1.2h-1.2zM318.2 153.2h1.2v1.2h-1.2zM326.9 154.6h1.2v1.2h-1.2zM324.1 152.9h1.2v1.2h-1.2zM331.3 155.6h1.2v1.2h-1.2zM314.3 164.5h1.2v1.2h-1.2zM319.3 161.7h1.2v1.2h-1.2zM322.3 169.7h1.2v1.2h-1.2zM322.7 157.7h1.2v1.2h-1.2zM312.4 160.3h1.2v1.2h-1.2zM317.8 162.0h1.2v1.2h-1.2zM325.0 159.6h1.2v1.2h-1.2zM314.2 160.3h1.2v1.2h-1.2z" fill="#000"/>
<path d="M330.2 182.4h1.2v1.2h-1.2zM350.2 177.3h1.2v1.2h-1.2zM328.6 174.6h1.2v1.2h-1.2zM343.2 176.7h1.2v1.2h-1.2zM344.4 184.6h1.2v1.2h-1.2zM320.8 186.0h1.2v1.2h-1.2zM331.1 179.4h1.2v1.2h-1.2zM333.2 186.6h1.2v1.2h-1.2zM330.5 180.2h1.2v1.2h-1.2zM322.3 185.2h1.2v1.2h-1.2zM331.0 178.2h1.2v1.2h-1.2zM318.5 176.4h1.2v1.2h-1.2zM344.6 184.6h1.2v1.2h-1.2zM350.5 186.2h1.2v1.2h-1.2zM338.5 184.6h1.2v1.2h-1.2zM339.6 184.7h1.2v1.2h-1.2zM343.3 175.9h1.2v1.2h-1.2zM343.8 177.6h1.2v1.2h-1.2zM320.4 186.3h1.2v1.2h-1.2zM311.3 180.6h1.2v1.2h-1.2zM324.5 184.5h1.2v1.2h-1.2zM335.4 186.2h1.2v1.2h-1.2zM348.6 182.4h1.2v1.2h-1.2zM313.0 182.7h1.2v1.2h-1.2zM314.9 187.2h1.2v1.2h-1.2zM346.1 177.7h1.2v1.2h-1.2zM318.0 183.1h1.2v1.2h-1.2zM341.5 187.2h1.2v1.2h-1.2zM335.9 175.2h1.2v1.2h-1.2zM340.2 174.2h1.2v1.2h-1.2zM346.0 184.2h1.2v1.2h-1.2zM342.6 185.6h1.2v1.2h-1.2zM333.7 186.6h1.2v1.2h-1.2zM336.6 180.3h1.2v1.2h-1.2zM326.2 178.3h1.2v1.2h-1.2zM311.3 175.7h1.2v1.2h-1.2zM343.0 176.6h1.2v1.2h-1.2zM337.2 184.3h1.2v1.2h-1.2zM338.9 180.6h1.2v1.2h-1.2zM323.4 177.2h1.2v1.2h-1.2zM318.1 182.5h1.2v1.2h-1.2zM338.5 186.6h1.2v1.2h-1.2zM324.0 186.4h1.2v1.2h-1.2zM347.8 177.5h1.2v1.2h-1.2zM349.4 182.1h1.2v1.2h-1.2zM349.9 184.2h1.2v1.2h-1.2zM324.1 177.3h1.2v1.2h-1.2zM331.8 180.2h1.2v1.2h-1.2zM311.9 185.5h1.2v1.2h-1.2zM332.4 180.0h1.2v1.2h-1.2z" fill="#000"/>
<line x1="304.3" y1="189.4" x2="308.8" y2="189.4" stroke="#000" stroke-width="1" />
<line x1="306.3" y1="184.89960156482348" x2="308.8" y2="184.89960156482348" stroke="#000" stroke-width="1" />
<line x1="306.3" y1="182.26703724194104" x2="308.8" y2="182.26703724194104" stroke="#000" stroke-width="1" />
<line x1="306.3" y1="180.39920312964696" x2="308.8" y2="180.39920312964696" stroke="#000" stroke-width="1" />
<line x1="306.3" y1="178.9503984351765" x2="308.8" y2="178.9503984351765" stroke="#000" stroke-width="1" />
<line x1="306.3" y1="177.76663880676452" x2="308.8" y2="177.76663880676452" stroke="#000" stroke-width="1" />
<line x1="306.3" y1="176.76578430178685" x2="308.8" y2="176.76578430178685" stroke="#000" stroke-width="1" />
<line x1="306.3" y1="175.89880469447044" x2="308.8" y2="175.89880469447044" stroke="#000" stroke-width="1" />
<line x1="306.3" y1="175.1340744838821" x2="308.8" y2="175.1340744838821" stroke="#000" stroke-width="1" />
<line x1="304.3" y1="174.45" x2="308.8" y2="174.45" stroke="#000" stroke-width="1" />
<line x1="306.3" y1="169.94960156482347" x2="308.8" y2="169.94960156482347" stroke="#000" stroke-width="1" />
<line x1="306.3" y1="167.31703724194105" x2="308.8" y2="167.31703724194105" stroke="#000" stroke-width="1" />
<line x1="306.3" y1="165.44920312964695" x2="308.8" y2="165.44920312964695" stroke="#000" stroke-width="1" />
<line x1="306.3" y1="164.00039843517652" x2="308.8" y2="164.00039843517652" stroke="#000" stroke-width="1" />
<line x1="306.3" y1="162.81663880676453" x2="308.8" y2="162.81663880676453" stroke="#000" stroke-width="1" />
<line x1="306.3" y1="161.81578430178686" x2="308.8" y2="161.81578430178686" stroke="#000" stroke-width="1" />
<line x1="306.3" y1="160.94880469447045" x2="308.8" y2="160.94880469447045" stroke="#000" stroke-width="1" />
<line x1="306.3" y1="160.18407448388209" x2="308.8" y2="160.18407448388209" stroke="#000" stroke-width="1" />
<line x1="304.3" y1="159.5" x2="308.8" y2="159.5" stroke="#000" stroke-width="1" />
<line x1="306.3" y1="154.99960156482348" x2="308.8" y2="154.99960156482348" stroke="#000" stroke-width="1" />
<line x1="306.3" y1="152.36703724194103" x2="308.8" y2="152.36703724194103" stroke="#000" stroke-width="1" />
<line x1="306.3" y1="150.49920312964696" x2="308.8" y2="150.49920312964696" stroke="#000" stroke-width="1" />
<line x1="306.3" y1="149.05039843517653" x2="308.8" y2="149.05039843517653" stroke="#000" stroke-width="1" />
<line x1="306.3" y1="147.8666388067645" x2="308.8" y2="147.8666388067645" stroke="#000" stroke-width="1" />
<line x1="306.3" y1="146.86578430178685" x2="308.8" y2="146.86578430178685" stroke="#000" stroke-width="1" />
<line x1="306.3" y1="145.99880469447044" x2="308.8" y2="145.99880469447044" stroke="#000" stroke-width="1" />
<line x1="306.3" y1="145.2340744838821" x2="308.8" y2="145.2340744838821" stroke="#000" stroke-width="1" />
<line x1="304.3" y1="144.55" x2="308.8" y2="144.55" stroke="#000" stroke-width="1" />
<line x1="306.3" y1="140.0496015648235" x2="308.8" y2="140.0496015648235" stroke="#000" stroke-width="1" />
<line x1="306.3" y1="137.41703724194105" x2="308.8" y2="137.41703724194105" stroke="#000" stroke-width="1" />
<line x1="306.3" y1="135.54920312964697" x2="308.8" y2="135.54920312964697" stroke="#000" stroke-width="1" />
<line x1="306.3" y1="134.10039843517652" x2="308.8" y2="134.10039843517652" stroke="#000" stroke-width="1" />
<line x1="306.3" y1="132.91663880676452" x2="308.8" y2="132.91663880676452" stroke="#000" stroke-width="1" />
<line x1="306.3" y1="131.91578430178686" x2="308.8" y2="131.91578430178686" stroke="#000" stroke-width="1" />
<line x1="306.3" y1="131.04880469447045" x2="308.8" y2="131.04880469447045" stroke="#000" stroke-width="1" />
<line x1="306.3" y1="130.28407448388208" x2="308.8" y2="130.28407448388208" stroke="#000" stroke-width="1" />
<line x1="304.3" y1="129.6" x2="308.8" y2="129.6" stroke="#000" stroke-width="1" />
<line x1="308.8" y1="189.4" x2="308.8" y2="193.9" stroke="#000" stroke-width="1" />
<line x1="314.47441541826606" y1="189.4" x2="314.47441541826606" y2="191.9" stroke="#000" stroke-width="1" />
<line x1="317.7937356514656" y1="189.4" x2="317.7937356514656" y2="191.9" stroke="#000" stroke-width="1" />
<line x1="320.1488308365321" y1="189.4" x2="320.1488308365321" y2="191.9" stroke="#000" stroke-width="1" />
<line x1="321.975584581734" y1="189.4" x2="321.975584581734" y2="191.9" stroke="#000" stroke-width="1" />
<line x1="323.4681510697317" y1="189.4" x2="323.4681510697317" y2="191.9" stroke="#000" stroke-width="1" />
<line x1="324.73009805426875" y1="189.4" x2="324.73009805426875" y2="191.9" stroke="#000" stroke-width="1" />
<line x1="325.82324625479816" y1="189.4" x2="325.82324625479816" y2="191.9" stroke="#000" stroke-width="1" />
<line x1="326.7874713029313" y1="189.4" x2="326.7874713029313" y2="191.9" stroke="#000" stroke-width="1" />
<line x1="327.65" y1="189.4" x2="327.65" y2="193.9" stroke="#000" stroke-width="1" />
<line x1="333.324415418266" y1="189.4" x2="333.324415418266" y2="191.9" stroke="#000" stroke-width="1" />
<line x1="336.64373565146565" y1="189.4" x2="336.64373565146565" y2="191.9" stroke="#000" stroke-width="1" />
<line x1="338.9988308365321" y1="189.4" x2="338.9988308365321" y2="191.9" stroke="#000" stroke-width="1" />
<line x1="340.82558458173395" y1="189.4" x2="340.82558458173395" y2="191.9" stroke="#000" stroke-width="1" />
<line x1="342.3181510697317" y1="189.4" x2="342.3181510697317" y2="191.9" stroke="#000" stroke-width="1" />
<line x1="343.5800980542688" y1="189.4" x2="343.5800980542688" y2="191.9" stroke="#000" stroke-width="1" />
<line x1="344.67324625479813" y1="189.4" x2="344.67324625479813" y2="191.9" stroke="#000" stroke-width="1" />
<line x1="345.63747130293126" y1="189.4" x2="345.63747130293126" y2="191.9" stroke="#000" stroke-width="1" />
<line x1="346.5" y1="189.4" x2="346.5" y2="193.9" stroke="#000" stroke-width="1" />
<line x1="352.17441541826605" y1="189.4" x2="352.17441541826605" y2="191.9" stroke="#000" stroke-width="1" />
<line x1="355.4937356514656" y1="189.4" x2="355.4937356514656" y2="191.9" stroke="#000" stroke-width="1" />
<line x1="357.8488308365321" y1="189.4" x2="357.8488308365321" y2="191.9" stroke="#000" stroke-width="1" />
<line x1="359.675584581734" y1="189.4" x2="359.675584581734" y2="191.9" stroke="#000" stroke-width="1" />
<line x1="361.16815106973166" y1="189.4" x2="361.16815106973166" y2="191.9" stroke="#000" stroke-width="1" />
<line x1="362.43009805426874" y1="189.4" x2="362.43009805426874" y2="191.9" stroke="#000" stroke-width="1" />
<line x1="363.52324625479815" y1="189.4" x2="363.52324625479815" y2="191.9" stroke="#000" stroke-width="1" />
<line x1="364.4874713029313" y1="189.4" x2="364.4874713029313" y2="191.9" stroke="#000" stroke-width="1" />
<line x1="365.35" y1="189.4" x2="365.35" y2="193.9" stroke="#000" stroke-width="1" />
<line x1="371.024415418266" y1="189.4" x2="371.024415418266" y2="191.9" stroke="#000" stroke-width="1" />
<line x1="374.34373565146564" y1="189.4" x2="374.34373565146564" y2="191.9" stroke="#000" stroke-width="1" />
<line x1="376.69883083653207" y1="189.4" x2="376.69883083653207" y2="191.9" stroke="#000" stroke-width="1" />
<line x1="378.52558458173394" y1="189.4" x2="378.52558458173394" y2="191.9" stroke="#000" stroke-width="1" />
<line x1="380.0181510697317" y1="189.4" x2="380.0181510697317" y2="191.9" stroke="#000" stroke-width="1" />
<line x1="381.2800980542687" y1="189.4" x2="381.2800980542687" y2="191.9" stroke="#000" stroke-width="1" />
<line x1="382.3732462547981" y1="189.4" x2="382.3732462547981" y2="191.9" stroke="#000" stroke-width="1" />
<line x1="383.33747130293125" y1="189.4" x2="383.33747130293125" y2="191.9" stroke="#000" stroke-width="1" />
<line x1="384.2" y1="189.4" x2="384.2" y2="193.9" stroke="#000" stroke-width="1" />
<rect x="308.8" y="129.6" width="75.39999999999998" height="59.80000000000001" fill="none" stroke="#000" stroke-width="1.3" />
<line x1="331.4" y1="129.6" x2="331.4" y2="189.4" stroke="#000" stroke-width="1.2" />
<line x1="308.8" y1="173.2" x2="384.2" y2="173.2" stroke="#000" stroke-width="1.2" />
<line x1="353.3" y1="142.4" x2="377" y2="142.4" stroke="#000" stroke-width="1.3" />
<line x1="365.6" y1="131.4" x2="365.6" y2="154" stroke="#000" stroke-width="1.3" />
<text x="358.35" y="139.5" font-size="9" font-weight="bold" >9</text>
<text x="369.40000000000003" y="139.5" font-size="9" font-weight="bold" >8</text>
<text x="352.6" y="151.6" font-size="9" font-weight="bold" >35</text>
<text x="366.3" y="151.6" font-size="9" font-weight="bold" >48</text>
<ellipse cx="421" cy="179.5" rx="8" ry="3.4" transform="rotate(-25 421 179.5)" fill="#000"/>
<path d="M420.2 176.2h1.2v1.2h-1.2zM423.5 181.3h1.2v1.2h-1.2zM420.8 180.9h1.2v1.2h-1.2zM422.6 178.2h1.2v1.2h-1.2zM414.8 182.7h1.2v1.2h-1.2zM430.6 174.5h1.2v1.2h-1.2zM413.8 181.6h1.2v1.2h-1.2zM421.2 181.5h1.2v1.2h-1.2zM424.1 177.1h1.2v1.2h-1.2zM410.0 182.9h1.2v1.2h-1.2zM421.1 174.5h1.2v1.2h-1.2zM409.2 175.9h1.2v1.2h-1.2zM425.1 175.9h1.2v1.2h-1.2zM415.6 179.3h1.2v1.2h-1.2zM420.7 177.3h1.2v1.2h-1.2zM426.0 180.0h1.2v1.2h-1.2zM418.7 183.4h1.2v1.2h-1.2zM419.4 176.1h1.2v1.2h-1.2zM421.6 173.9h1.2v1.2h-1.2zM418.1 175.9h1.2v1.2h-1.2zM417.2 179.8h1.2v1.2h-1.2zM402.0 184.3h1.2v1.2h-1.2zM422.3 177.3h1.2v1.2h-1.2zM425.8 178.0h1.2v1.2h-1.2zM417.6 176.2h1.2v1.2h-1.2zM425.9 179.2h1.2v1.2h-1.2zM409.3 179.1h1.2v1.2h-1.2zM411.5 183.1h1.2v1.2h-1.2zM416.1 175.8h1.2v1.2h-1.2zM431.7 176.8h1.2v1.2h-1.2zM422.1 178.7h1.2v1.2h-1.2zM419.0 178.8h1.2v1.2h-1.2zM427.1 178.0h1.2v1.2h-1.2zM416.9 179.6h1.2v1.2h-1.2zM434.4 173.2h1.2v1.2h-1.2zM410.5 181.3h1.2v1.2h-1.2zM425.1 178.9h1.2v1.2h-1.2zM423.1 183.5h1.2v1.2h-1.2zM412.7 180.2h1.2v1.2h-1.2zM407.8 185.3h1.2v1.2h-1.2zM419.8 183.7h1.2v1.2h-1.2zM418.3 175.9h1.2v1.2h-1.2zM415.1 182.1h1.2v1.2h-1.2zM414.2 180.7h1.2v1.2h-1.2zM414.9 177.7h1.2v1.2h-1.2zM416.1 184.2h1.2v1.2h-1.2zM412.2 181.4h1.2v1.2h-1.2zM426.4 174.6h1.2v1.2h-1.2zM409.0 185.7h1.2v1.2h-1.2zM433.4 174.3h1.2v1.2h-1.2zM411.3 183.3h1.2v1.2h-1.2zM420.0 176.0h1.2v1.2h-1.2zM417.4 172.1h1.2v1.2h-1.2zM414.2 176.4h1.2v1.2h-1.2zM410.4 182.7h1.2v1.2h-1.2zM422.3 182.9h1.2v1.2h-1.2zM414.0 183.9h1.2v1.2h-1.2zM428.1 176.7h1.2v1.2h-1.2zM421.0 176.0h1.2v1.2h-1.2zM416.4 178.1h1.2v1.2h-1.2zM425.9 183.1h1.2v1.2h-1.2zM429.6 177.4h1.2v1.2h-1.2zM426.6 171.8h1.2v1.2h-1.2zM412.6 182.9h1.2v1.2h-1.2zM417.4 174.4h1.2v1.2h-1.2zM420.2 174.6h1.2v1.2h-1.2zM420.3 183.0h1.2v1.2h-1.2zM411.7 179.3h1.2v1.2h-1.2zM424.4 177.2h1.2v1.2h-1.2zM421.7 175.5h1.2v1.2h-1.2zM417.7 172.0h1.2v1.2h-1.2zM418.9 182.5h1.2v1.2h-1.2zM411.8 180.0h1.2v1.2h-1.2zM425.6 180.6h1.2v1.2h-1.2zM429.1 173.5h1.2v1.2h-1.2zM417.1 184.4h1.2v1.2h-1.2zM416.7 180.1h1.2v1.2h-1.2zM413.8 178.1h1.2v1.2h-1.2zM403.6 179.7h1.2v1.2h-1.2zM412.8 184.3h1.2v1.2h-1.2zM426.0 178.1h1.2v1.2h-1.2zM416.3 175.3h1.2v1.2h-1.2zM423.9 175.0h1.2v1.2h-1.2zM419.4 181.4h1.2v1.2h-1.2zM418.8 178.7h1.2v1.2h-1.2zM412.7 183.4h1.2v1.2h-1.2zM424.3 179.4h1.2v1.2h-1.2zM432.6 170.4h1.2v1.2h-1.2zM420.4 180.2h1.2v1.2h-1.2zM422.7 178.6h1.2v1.2h-1.2zM423.8 172.9h1.2v1.2h-1.2zM419.6 182.0h1.2v1.2h-1.2zM419.8 177.9h1.2v1.2h-1.2zM426.6 171.5h1.2v1.2h-1.2zM423.2 182.1h1.2v1.2h-1.2zM418.3 176.4h1.2v1.2h-1.2zM424.2 176.0h1.2v1.2h-1.2zM414.0 180.5h1.2v1.2h-1.2zM407.6 183.6h1.2v1.2h-1.2zM411.1 179.1h1.2v1.2h-1.2zM425.7 176.9h1.2v1.2h-1.2zM422.2 181.9h1.2v1.2h-1.2zM431.8 181.6h1.2v1.2h-1.2zM416.0 182.2h1.2v1.2h-1.2zM407.6 184.0h1.2v1.2h-1.2zM430.1 173.7h1.2v1.2h-1.2zM423.7 180.0h1.2v1.2h-1.2zM419.0 176.8h1.2v1.2h-1.2zM431.7 171.5h1.2v1.2h-1.2zM421.5 180.9h1.2v1.2h-1.2zM422.0 182.6h1.2v1.2h-1.2zM431.5 176.9h1.2v1.2h-1.2zM433.7 177.1h1.2v1.2h-1.2zM410.8 179.8h1.2v1.2h-1.2zM422.3 178.4h1.2v1.2h-1.2zM408.3 178.1h1.2v1.2h-1.2zM423.6 178.1h1.2v1.2h-1.2zM431.9 176.0h1.2v1.2h-1.2zM423.1 179.8h1.2v1.2h-1.2zM414.6 176.0h1.2v1.2h-1.2zM416.7 182.3h1.2v1.2h-1.2zM418.1 182.6h1.2v1.2h-1.2zM416.0 181.7h1.2v1.2h-1.2zM420.4 180.8h1.2v1.2h-1.2zM420.3 179.0h1.2v1.2h-1.2zM416.7 183.0h1.2v1.2h-1.2zM420.0 179.9h1.2v1.2h-1.2zM425.2 174.5h1.2v1.2h-1.2zM413.9 179.9h1.2v1.2h-1.2zM429.9 172.8h1.2v1.2h-1.2zM412.5 177.4h1.2v1.2h-1.2zM417.3 176.0h1.2v1.2h-1.2zM414.0 181.5h1.2v1.2h-1.2zM412.0 180.5h1.2v1.2h-1.2zM411.3 180.1h1.2v1.2h-1.2zM424.2 171.4h1.2v1.2h-1.2zM420.7 178.9h1.2v1.2h-1.2zM419.8 179.3h1.2v1.2h-1.2zM423.4 173.7h1.2v1.2h-1.2zM419.3 180.5h1.2v1.2h-1.2zM430.1 171.8h1.2v1.2h-1.2zM415.7 175.5h1.2v1.2h-1.2zM420.1 175.3h1.2v1.2h-1.2zM412.8 182.6h1.2v1.2h-1.2zM437.3 167.9h1.2v1.2h-1.2zM432.8 172.5h1.2v1.2h-1.2zM425.4 178.1h1.2v1.2h-1.2zM429.6 175.4h1.2v1.2h-1.2zM414.0 179.8h1.2v1.2h-1.2zM426.3 174.2h1.2v1.2h-1.2zM423.4 177.6h1.2v1.2h-1.2zM421.6 178.1h1.2v1.2h-1.2zM424.8 179.6h1.2v1.2h-1.2zM418.1 177.9h1.2v1.2h-1.2zM404.0 180.0h1.2v1.2h-1.2zM408.7 183.4h1.2v1.2h-1.2zM412.1 178.4h1.2v1.2h-1.2zM424.3 180.3h1.2v1.2h-1.2zM429.5 173.5h1.2v1.2h-1.2zM422.1 181.1h1.2v1.2h-1.2zM413.9 179.4h1.2v1.2h-1.2zM411.0 178.9h1.2v1.2h-1.2zM425.7 177.3h1.2v1.2h-1.2zM417.5 177.4h1.2v1.2h-1.2zM431.8 177.7h1.2v1.2h-1.2zM410.9 187.2h1.2v1.2h-1.2zM417.2 178.7h1.2v1.2h-1.2zM416.6 177.7h1.2v1.2h-1.2zM425.1 172.9h1.2v1.2h-1.2zM420.5 177.4h1.2v1.2h-1.2zM433.5 176.2h1.2v1.2h-1.2zM423.6 179.1h1.2v1.2h-1.2zM424.8 177.6h1.2v1.2h-1.2zM401.8 184.4h1.2v1.2h-1.2zM417.9 181.1h1.2v1.2h-1.2zM422.7 176.2h1.2v1.2h-1.2zM413.6 177.1h1.2v1.2h-1.2zM422.5 177.5h1.2v1.2h-1.2zM413.6 179.0h1.2v1.2h-1.2zM423.0 175.8h1.2v1.2h-1.2zM419.4 176.8h1.2v1.2h-1.2zM400.7 183.7h1.2v1.2h-1.2zM420.8 180.7h1.2v1.2h-1.2zM430.2 173.7h1.2v1.2h-1.2zM424.8 178.0h1.2v1.2h-1.2zM420.9 180.7h1.2v1.2h-1.2zM426.9 173.0h1.2v1.2h-1.2zM431.5 175.0h1.2v1.2h-1.2zM415.3 177.6h1.2v1.2h-1.2zM418.6 175.5h1.2v1.2h-1.2zM428.5 177.5h1.2v1.2h-1.2zM413.5 182.6h1.2v1.2h-1.2zM422.1 178.2h1.2v1.2h-1.2zM427.6 176.3h1.2v1.2h-1.2zM418.4 180.4h1.2v1.2h-1.2zM406.5 178.4h1.2v1.2h-1.2zM424.1 180.6h1.2v1.2h-1.2zM407.6 181.7h1.2v1.2h-1.2zM415.3 178.8h1.2v1.2h-1.2zM424.9 181.6h1.2v1.2h-1.2zM433.6 177.8h1.2v1.2h-1.2zM425.2 177.6h1.2v1.2h-1.2zM406.2 183.2h1.2v1.2h-1.2zM411.3 177.4h1.2v1.2h-1.2zM421.2 173.5h1.2v1.2h-1.2zM433.7 176.7h1.2v1.2h-1.2zM423.1 179.1h1.2v1.2h-1.2zM422.2 178.1h1.2v1.2h-1.2zM425.7 175.1h1.2v1.2h-1.2zM422.4 178.4h1.2v1.2h-1.2zM426.2 173.7h1.2v1.2h-1.2zM422.2 177.5h1.2v1.2h-1.2zM425.1 178.8h1.2v1.2h-1.2zM421.7 179.4h1.2v1.2h-1.2zM423.7 181.5h1.2v1.2h-1.2zM422.6 179.4h1.2v1.2h-1.2zM413.3 179.6h1.2v1.2h-1.2zM426.1 180.0h1.2v1.2h-1.2zM413.0 180.2h1.2v1.2h-1.2zM418.3 179.1h1.2v1.2h-1.2zM416.7 178.1h1.2v1.2h-1.2zM419.9 178.9h1.2v1.2h-1.2zM428.0 173.9h1.2v1.2h-1.2zM413.1 182.6h1.2v1.2h-1.2zM424.1 176.9h1.2v1.2h-1.2zM411.6 183.7h1.2v1.2h-1.2zM412.2 183.8h1.2v1.2h-1.2zM422.2 177.5h1.2v1.2h-1.2zM419.1 181.1h1.2v1.2h-1.2zM420.4 173.3h1.2v1.2h-1.2zM415.1 173.5h1.2v1.2h-1.2zM423.3 180.3h1.2v1.2h-1.2zM428.1 172.5h1.2v1.2h-1.2zM436.3 179.6h1.2v1.2h-1.2zM419.5 172.8h1.2v1.2h-1.2zM413.8 183.1h1.2v1.2h-1.2zM435.9 172.8h1.2v1.2h-1.2zM406.5 179.1h1.2v1.2h-1.2zM434.7 174.7h1.2v1.2h-1.2zM409.8 175.0h1.2v1.2h-1.2zM425.1 179.5h1.2v1.2h-1.2zM416.7 178.7h1.2v1.2h-1.2zM420.9 177.2h1.2v1.2h-1.2zM416.2 177.8h1.2v1.2h-1.2zM415.9 183.1h1.2v1.2h-1.2zM423.3 180.6h1.2v1.2h-1.2zM434.2 168.1h1.2v1.2h-1.2zM419.8 181.3h1.2v1.2h-1.2zM418.7 177.1h1.2v1.2h-1.2zM423.3 176.1h1.2v1.2h-1.2zM414.0 179.1h1.2v1.2h-1.2zM420.7 178.3h1.2v1.2h-1.2zM427.1 176.7h1.2v1.2h-1.2z" fill="#000"/>
<path d="M431.2 167.3h1.2v1.2h-1.2zM431.6 165.8h1.2v1.2h-1.2zM424.4 172.4h1.2v1.2h-1.2zM439.7 158.1h1.2v1.2h-1.2zM428.6 170.7h1.2v1.2h-1.2zM428.9 170.8h1.2v1.2h-1.2zM432.1 164.4h1.2v1.2h-1.2zM431.3 166.5h1.2v1.2h-1.2zM435.1 158.6h1.2v1.2h-1.2zM434.4 170.1h1.2v1.2h-1.2zM433.1 167.7h1.2v1.2h-1.2zM429.7 169.9h1.2v1.2h-1.2zM431.6 164.1h1.2v1.2h-1.2zM426.4 164.1h1.2v1.2h-1.2zM434.5 166.7h1.2v1.2h-1.2zM437.8 165.1h1.2v1.2h-1.2zM435.8 161.6h1.2v1.2h-1.2zM423.0 171.0h1.2v1.2h-1.2zM430.7 169.4h1.2v1.2h-1.2zM431.7 167.3h1.2v1.2h-1.2zM432.6 168.0h1.2v1.2h-1.2zM433.4 167.7h1.2v1.2h-1.2zM429.8 168.5h1.2v1.2h-1.2zM425.0 168.3h1.2v1.2h-1.2zM431.0 169.4h1.2v1.2h-1.2zM428.6 165.5h1.2v1.2h-1.2zM437.1 162.3h1.2v1.2h-1.2zM423.7 169.4h1.2v1.2h-1.2zM426.4 163.8h1.2v1.2h-1.2zM430.4 173.3h1.2v1.2h-1.2zM428.6 167.1h1.2v1.2h-1.2zM438.1 164.4h1.2v1.2h-1.2zM431.8 171.6h1.2v1.2h-1.2zM426.4 170.5h1.2v1.2h-1.2zM434.9 166.6h1.2v1.2h-1.2zM426.5 168.0h1.2v1.2h-1.2zM441.3 162.1h1.2v1.2h-1.2zM431.0 171.2h1.2v1.2h-1.2zM423.4 172.3h1.2v1.2h-1.2zM423.5 176.3h1.2v1.2h-1.2zM427.4 170.5h1.2v1.2h-1.2zM427.7 170.4h1.2v1.2h-1.2zM433.9 166.5h1.2v1.2h-1.2zM430.8 169.0h1.2v1.2h-1.2zM431.1 166.6h1.2v1.2h-1.2zM435.5 168.1h1.2v1.2h-1.2zM425.6 168.3h1.2v1.2h-1.2zM428.5 170.4h1.2v1.2h-1.2zM425.3 175.8h1.2v1.2h-1.2zM432.6 167.7h1.2v1.2h-1.2zM436.7 162.8h1.2v1.2h-1.2zM434.2 167.5h1.2v1.2h-1.2zM438.8 160.8h1.2v1.2h-1.2zM439.3 165.2h1.2v1.2h-1.2zM433.6 169.7h1.2v1.2h-1.2zM431.1 167.5h1.2v1.2h-1.2zM436.6 164.1h1.2v1.2h-1.2zM437.8 168.3h1.2v1.2h-1.2zM433.5 167.3h1.2v1.2h-1.2zM429.1 166.6h1.2v1.2h-1.2zM439.6 160.4h1.2v1.2h-1.2zM432.8 168.0h1.2v1.2h-1.2zM427.9 168.0h1.2v1.2h-1.2zM428.9 175.4h1.2v1.2h-1.2zM434.3 170.3h1.2v1.2h-1.2zM442.6 164.6h1.2v1.2h-1.2zM439.0 162.5h1.2v1.2h-1.2zM429.0 173.5h1.2v1.2h-1.2zM439.7 160.4h1.2v1.2h-1.2zM438.1 165.0h1.2v1.2h-1.2z" fill="#000"/>
<path d="M409.6 173.8h1.2v1.2h-1.2zM445.2 183.3h1.2v1.2h-1.2zM414.3 174.0h1.2v1.2h-1.2zM417.4 162.5h1.2v1.2h-1.2zM436.1 180.2h1.2v1.2h-1.2zM418.2 170.0h1.2v1.2h-1.2zM434.0 179.2h1.2v1.2h-1.2zM423.8 160.9h1.2v1.2h-1.2zM407.6 162.5h1.2v1.2h-1.2zM439.8 172.3h1.2v1.2h-1.2zM431.8 168.3h1.2v1.2h-1.2zM419.6 162.7h1.2v1.2h-1.2zM446.3 175.6h1.2v1.2h-1.2zM409.1 178.5h1.2v1.2h-1.2zM429.7 175.8h1.2v1.2h-1.2zM437.3 175.7h1.2v1.2h-1.2zM442.0 186.5h1.2v1.2h-1.2zM421.3 176.9h1.2v1.2h-1.2zM419.9 169.7h1.2v1.2h-1.2zM419.5 176.8h1.2v1.2h-1.2zM418.9 168.0h1.2v1.2h-1.2zM440.7 181.4h1.2v1.2h-1.2zM433.2 182.7h1.2v1.2h-1.2zM420.4 176.7h1.2v1.2h-1.2zM414.5 166.9h1.2v1.2h-1.2zM407.8 181.4h1.2v1.2h-1.2zM443.9 166.5h1.2v1.2h-1.2zM420.0 160.9h1.2v1.2h-1.2zM409.7 176.5h1.2v1.2h-1.2zM442.6 159.9h1.2v1.2h-1.2zM414.6 180.2h1.2v1.2h-1.2zM413.3 183.7h1.2v1.2h-1.2zM418.9 171.6h1.2v1.2h-1.2zM412.3 166.1h1.2v1.2h-1.2zM422.1 165.7h1.2v1.2h-1.2zM435.5 158.3h1.2v1.2h-1.2zM431.5 181.5h1.2v1.2h-1.2zM417.7 163.1h1.2v1.2h-1.2zM408.7 159.7h1.2v1.2h-1.2zM438.3 175.5h1.2v1.2h-1.2zM404.1 171.0h1.2v1.2h-1.2zM429.7 167.0h1.2v1.2h-1.2zM404.9 170.0h1.2v1.2h-1.2zM419.0 186.6h1.2v1.2h-1.2zM419.2 185.1h1.2v1.2h-1.2zM441.6 174.6h1.2v1.2h-1.2zM408.9 181.6h1.2v1.2h-1.2zM407.4 174.1h1.2v1.2h-1.2zM407.7 160.2h1.2v1.2h-1.2zM421.5 162.1h1.2v1.2h-1.2zM447.0 174.7h1.2v1.2h-1.2zM442.9 186.1h1.2v1.2h-1.2zM436.7 176.8h1.2v1.2h-1.2zM424.2 180.7h1.2v1.2h-1.2zM432.9 162.1h1.2v1.2h-1.2z" fill="#000"/>
<line x1="400.5" y1="189.5" x2="400.5" y2="194.0" stroke="#000" stroke-width="1" />
<line x1="406.19699266794083" y1="189.5" x2="406.19699266794083" y2="192.0" stroke="#000" stroke-width="1" />
<line x1="409.5295197455696" y1="189.5" x2="409.5295197455696" y2="192.0" stroke="#000" stroke-width="1" />
<line x1="411.89398533588167" y1="189.5" x2="411.89398533588167" y2="192.0" stroke="#000" stroke-width="1" />
<line x1="413.7280073320592" y1="189.5" x2="413.7280073320592" y2="192.0" stroke="#000" stroke-width="1" />
<line x1="415.2265124135105" y1="189.5" x2="415.2265124135105" y2="192.0" stroke="#000" stroke-width="1" />
<line x1="416.49348040726983" y1="189.5" x2="416.49348040726983" y2="192.0" stroke="#000" stroke-width="1" />
<line x1="417.59097800382256" y1="189.5" x2="417.59097800382256" y2="192.0" stroke="#000" stroke-width="1" />
<line x1="418.55903949113923" y1="189.5" x2="418.55903949113923" y2="192.0" stroke="#000" stroke-width="1" />
<line x1="419.425" y1="189.5" x2="419.425" y2="194.0" stroke="#000" stroke-width="1" />
<line x1="425.12199266794084" y1="189.5" x2="425.12199266794084" y2="192.0" stroke="#000" stroke-width="1" />
<line x1="428.4545197455696" y1="189.5" x2="428.4545197455696" y2="192.0" stroke="#000" stroke-width="1" />
<line x1="430.8189853358817" y1="189.5" x2="430.8189853358817" y2="192.0" stroke="#000" stroke-width="1" />
<line x1="432.65300733205913" y1="189.5" x2="432.65300733205913" y2="192.0" stroke="#000" stroke-width="1" />
<line x1="434.15151241351043" y1="189.5" x2="434.15151241351043" y2="192.0" stroke="#000" stroke-width="1" />
<line x1="435.4184804072698" y1="189.5" x2="435.4184804072698" y2="192.0" stroke="#000" stroke-width="1" />
<line x1="436.5159780038225" y1="189.5" x2="436.5159780038225" y2="192.0" stroke="#000" stroke-width="1" />
<line x1="437.48403949113924" y1="189.5" x2="437.48403949113924" y2="192.0" stroke="#000" stroke-width="1" />
<line x1="438.35" y1="189.5" x2="438.35" y2="194.0" stroke="#000" stroke-width="1" />
<line x1="444.04699266794086" y1="189.5" x2="444.04699266794086" y2="192.0" stroke="#000" stroke-width="1" />
<line x1="447.3795197455696" y1="189.5" x2="447.3795197455696" y2="192.0" stroke="#000" stroke-width="1" />
<line x1="449.7439853358817" y1="189.5" x2="449.7439853358817" y2="192.0" stroke="#000" stroke-width="1" />
<line x1="451.57800733205914" y1="189.5" x2="451.57800733205914" y2="192.0" stroke="#000" stroke-width="1" />
<line x1="453.07651241351044" y1="189.5" x2="453.07651241351044" y2="192.0" stroke="#000" stroke-width="1" />
<line x1="454.3434804072698" y1="189.5" x2="454.3434804072698" y2="192.0" stroke="#000" stroke-width="1" />
<line x1="455.4409780038225" y1="189.5" x2="455.4409780038225" y2="192.0" stroke="#000" stroke-width="1" />
<line x1="456.4090394911392" y1="189.5" x2="456.4090394911392" y2="192.0" stroke="#000" stroke-width="1" />
<line x1="457.275" y1="189.5" x2="457.275" y2="194.0" stroke="#000" stroke-width="1" />
<line x1="462.97199266794087" y1="189.5" x2="462.97199266794087" y2="192.0" stroke="#000" stroke-width="1" />
<line x1="466.3045197455696" y1="189.5" x2="466.3045197455696" y2="192.0" stroke="#000" stroke-width="1" />
<line x1="468.6689853358817" y1="189.5" x2="468.6689853358817" y2="192.0" stroke="#000" stroke-width="1" />
<line x1="470.50300733205916" y1="189.5" x2="470.50300733205916" y2="192.0" stroke="#000" stroke-width="1" />
<line x1="472.00151241351045" y1="189.5" x2="472.00151241351045" y2="192.0" stroke="#000" stroke-width="1" />
<line x1="473.2684804072698" y1="189.5" x2="473.2684804072698" y2="192.0" stroke="#000" stroke-width="1" />
<line x1="474.36597800382253" y1="189.5" x2="474.36597800382253" y2="192.0" stroke="#000" stroke-width="1" />
<line x1="475.3340394911392" y1="189.5" x2="475.3340394911392" y2="192.0" stroke="#000" stroke-width="1" />
<line x1="476.2" y1="189.5" x2="476.2" y2="194.0" stroke="#000" stroke-width="1" />
<rect x="400.5" y="129.4" width="75.69999999999999" height="60.099999999999994" fill="none" stroke="#000" stroke-width="1.3" />
<line x1="423.4" y1="129.4" x2="423.4" y2="189.5" stroke="#000" stroke-width="1.2" />
<line x1="400.5" y1="173" x2="476.2" y2="173" stroke="#000" stroke-width="1.2" />
<line x1="444.9" y1="143.2" x2="467.7" y2="143.2" stroke="#000" stroke-width="1.3" />
<line x1="457.6" y1="132.3" x2="457.6" y2="154.9" stroke="#000" stroke-width="1.3" />
<text x="448.35" y="141" font-size="9" font-weight="bold" >3</text>
<text x="458.90000000000003" y="141" font-size="9" font-weight="bold" >12</text>
<text x="444.5" y="153.2" font-size="9" font-weight="bold" >36</text>
<text x="460.40000000000003" y="153.2" font-size="9" font-weight="bold" >49</text>
<text x="300.90000000000003" y="63.1" font-size="9.5" stroke="#000" stroke-width="0.3" transform="rotate(-90 300.90000000000003 63.1)" textLength="8" lengthAdjust="spacingAndGlyphs">10</text>
<text x="295.70000000000005" y="53.199999999999996" font-size="8.6" stroke="#000" stroke-width="0.3" transform="rotate(-90 295.70000000000005 53.199999999999996)">4</text>
<text x="300.90000000000003" y="121.8" font-size="9.5" stroke="#000" stroke-width="0.3" transform="rotate(-90 300.90000000000003 121.8)" textLength="8" lengthAdjust="spacingAndGlyphs">10</text>
<text x="295.70000000000005" y="111.89999999999999" font-size="8.6" stroke="#000" stroke-width="0.3" transform="rotate(-90 295.70000000000005 111.89999999999999)">0</text>
<text x="301.40000000000003" y="137.29999999999998" font-size="9.5" stroke="#000" stroke-width="0.3" transform="rotate(-90 301.40000000000003 137.29999999999998)" textLength="8" lengthAdjust="spacingAndGlyphs">10</text>
<text x="296.20000000000005" y="127.39999999999999" font-size="8.6" stroke="#000" stroke-width="0.3" transform="rotate(-90 296.20000000000005 127.39999999999999)">4</text>
<text x="301.40000000000003" y="195.7" font-size="9.5" stroke="#000" stroke-width="0.3" transform="rotate(-90 301.40000000000003 195.7)" textLength="8" lengthAdjust="spacingAndGlyphs">10</text>
<text x="296.20000000000005" y="185.8" font-size="8.6" stroke="#000" stroke-width="0.3" transform="rotate(-90 296.20000000000005 185.8)">0</text>
<text x="303.7" y="204.2" font-size="9.2" stroke="#000" stroke-width="0.3" textLength="6.8" lengthAdjust="spacingAndGlyphs" style="stroke-width:0.45px">10</text>
<text x="311.2" y="198.6" font-size="7" stroke="#000" stroke-width="0.3" textLength="3.2" lengthAdjust="spacingAndGlyphs" style="stroke-width:0.4px">0</text>
<text x="321.9" y="204.2" font-size="9.2" stroke="#000" stroke-width="0.3" textLength="6.8" lengthAdjust="spacingAndGlyphs" style="stroke-width:0.45px">10</text>
<text x="329.4" y="198.6" font-size="7" stroke="#000" stroke-width="0.3" textLength="3.2" lengthAdjust="spacingAndGlyphs" style="stroke-width:0.4px">1</text>
<text x="340.2" y="204.2" font-size="9.2" stroke="#000" stroke-width="0.3" textLength="6.8" lengthAdjust="spacingAndGlyphs" style="stroke-width:0.45px">10</text>
<text x="347.7" y="198.6" font-size="7" stroke="#000" stroke-width="0.3" textLength="3.2" lengthAdjust="spacingAndGlyphs" style="stroke-width:0.4px">2</text>
<text x="358.5" y="204.2" font-size="9.2" stroke="#000" stroke-width="0.3" textLength="6.8" lengthAdjust="spacingAndGlyphs" style="stroke-width:0.45px">10</text>
<text x="366.0" y="198.6" font-size="7" stroke="#000" stroke-width="0.3" textLength="3.2" lengthAdjust="spacingAndGlyphs" style="stroke-width:0.4px">3</text>
<text x="375.4" y="204.2" font-size="9.2" stroke="#000" stroke-width="0.3" textLength="6.8" lengthAdjust="spacingAndGlyphs" style="stroke-width:0.45px">10</text>
<text x="382.9" y="198.6" font-size="7" stroke="#000" stroke-width="0.3" textLength="3.2" lengthAdjust="spacingAndGlyphs" style="stroke-width:0.4px">4</text>
<text x="395.9" y="204.2" font-size="9.2" stroke="#000" stroke-width="0.3" textLength="6.8" lengthAdjust="spacingAndGlyphs" style="stroke-width:0.45px">10</text>
<text x="403.4" y="198.6" font-size="7" stroke="#000" stroke-width="0.3" textLength="3.2" lengthAdjust="spacingAndGlyphs" style="stroke-width:0.4px">0</text>
<text x="414.9" y="204.2" font-size="9.2" stroke="#000" stroke-width="0.3" textLength="6.8" lengthAdjust="spacingAndGlyphs" style="stroke-width:0.45px">10</text>
<text x="422.4" y="198.6" font-size="7" stroke="#000" stroke-width="0.3" textLength="3.2" lengthAdjust="spacingAndGlyphs" style="stroke-width:0.4px">1</text>
<text x="431.8" y="204.2" font-size="9.2" stroke="#000" stroke-width="0.3" textLength="6.8" lengthAdjust="spacingAndGlyphs" style="stroke-width:0.45px">10</text>
<text x="439.3" y="198.6" font-size="7" stroke="#000" stroke-width="0.3" textLength="3.2" lengthAdjust="spacingAndGlyphs" style="stroke-width:0.4px">2</text>
<text x="449.8" y="204.2" font-size="9.2" stroke="#000" stroke-width="0.3" textLength="6.8" lengthAdjust="spacingAndGlyphs" style="stroke-width:0.45px">10</text>
<text x="457.3" y="198.6" font-size="7" stroke="#000" stroke-width="0.3" textLength="3.2" lengthAdjust="spacingAndGlyphs" style="stroke-width:0.4px">3</text>
<text x="468.4" y="204.2" font-size="9.2" stroke="#000" stroke-width="0.3" textLength="6.8" lengthAdjust="spacingAndGlyphs" style="stroke-width:0.45px">10</text>
<text x="475.9" y="198.6" font-size="7" stroke="#000" stroke-width="0.3" textLength="3.2" lengthAdjust="spacingAndGlyphs" style="stroke-width:0.4px">4</text>
<text x="369.5" y="221.9" font-size="10" font-weight="bold" textLength="47.8" lengthAdjust="spacingAndGlyphs" >Annexin-V</text>
<text x="278.2" y="160.6" font-size="9.4" font-weight="bold" textLength="79.5" lengthAdjust="spacingAndGlyphs" transform="rotate(-90 278.2 160.6)" >Propidium Iodide</text>
<rect x="302.4" y="240.3" width="69.40000000000003" height="75.5" fill="none" stroke="#000" stroke-width="1.2" />
<line x1="295.9" y1="240.3" x2="302.4" y2="240.3" stroke="#000" stroke-width="1.2" />
<text x="296.8" y="243.70000000000002" font-size="9.3" font-weight="bold" text-anchor="end" letter-spacing="2.3" stroke="#000" stroke-width="0.25">100</text>
<line x1="295.9" y1="259.175" x2="302.4" y2="259.175" stroke="#000" stroke-width="1.2" />
<text x="296.8" y="262.575" font-size="9.3" font-weight="bold" text-anchor="end" letter-spacing="2.3" stroke="#000" stroke-width="0.25">75</text>
<line x1="295.9" y1="278.05" x2="302.4" y2="278.05" stroke="#000" stroke-width="1.2" />
<text x="296.8" y="281.45" font-size="9.3" font-weight="bold" text-anchor="end" letter-spacing="2.3" stroke="#000" stroke-width="0.25">50</text>
<line x1="295.9" y1="296.925" x2="302.4" y2="296.925" stroke="#000" stroke-width="1.2" />
<text x="296.8" y="300.325" font-size="9.3" font-weight="bold" text-anchor="end" letter-spacing="2.3" stroke="#000" stroke-width="0.25">25</text>
<line x1="295.9" y1="315.8" x2="302.4" y2="315.8" stroke="#000" stroke-width="1.2" />
<text x="296.8" y="319.2" font-size="9.3" font-weight="bold" text-anchor="end" letter-spacing="2.3" stroke="#000" stroke-width="0.25">0</text>
<line x1="302.4" y1="315.8" x2="302.4" y2="320.3" stroke="#000" stroke-width="1.2" />
<text x="301.09999999999997" y="332.4" font-size="9" font-weight="bold" text-anchor="middle" stroke="#000" stroke-width="0.25">0</text>
<line x1="319.5" y1="315.8" x2="319.5" y2="320.3" stroke="#000" stroke-width="1.2" />
<text x="318.2" y="332.4" font-size="9" font-weight="bold" text-anchor="middle" stroke="#000" stroke-width="0.25">1</text>
<line x1="337.2" y1="315.8" x2="337.2" y2="320.3" stroke="#000" stroke-width="1.2" />
<text x="335.9" y="332.4" font-size="9" font-weight="bold" text-anchor="middle" stroke="#000" stroke-width="0.25">2</text>
<line x1="354.7" y1="315.8" x2="354.7" y2="320.3" stroke="#000" stroke-width="1.2" />
<text x="353.4" y="332.4" font-size="9" font-weight="bold" text-anchor="middle" stroke="#000" stroke-width="0.25">3</text>
<line x1="372.1" y1="315.8" x2="372.1" y2="320.3" stroke="#000" stroke-width="1.2" />
<text x="370.8" y="332.4" font-size="9" font-weight="bold" text-anchor="middle" stroke="#000" stroke-width="0.25">4</text>
<line x1="319.5" y1="253.00000000000003" x2="319.5" y2="247.8" stroke="#000" stroke-width="1.2" />
<line x1="316.7" y1="247.8" x2="322.3" y2="247.8" stroke="#000" stroke-width="1.2" />
<line x1="337.7" y1="267.9" x2="337.7" y2="262.7" stroke="#000" stroke-width="1.2" />
<line x1="334.9" y1="262.7" x2="340.5" y2="262.7" stroke="#000" stroke-width="1.2" />
<line x1="353.7" y1="277.79999999999995" x2="353.7" y2="271" stroke="#000" stroke-width="1.2" />
<line x1="350.9" y1="271" x2="356.5" y2="271" stroke="#000" stroke-width="1.2" />
<line x1="337.7" y1="277.1" x2="337.7" y2="283.5" stroke="#000" stroke-width="1.2" />
<line x1="334.9" y1="283.5" x2="340.5" y2="283.5" stroke="#000" stroke-width="1.2" />
<line x1="353.7" y1="287.0" x2="353.7" y2="293" stroke="#000" stroke-width="1.2" />
<line x1="350.9" y1="293" x2="356.5" y2="293" stroke="#000" stroke-width="1.2" />
<line x1="319.5" y1="262.20000000000005" x2="319.5" y2="268.2" stroke="#000" stroke-width="1.2" />
<line x1="316.7" y1="268.2" x2="322.3" y2="268.2" stroke="#000" stroke-width="1.2" />
<line x1="319.5" y1="295.8" x2="319.5" y2="302.1" stroke="#000" stroke-width="1.2" />
<line x1="316.7" y1="302.1" x2="322.3" y2="302.1" stroke="#000" stroke-width="1.2" />
<line x1="337.7" y1="309.40000000000003" x2="337.7" y2="311" stroke="#000" stroke-width="1.2" />
<line x1="334.9" y1="311" x2="340.5" y2="311" stroke="#000" stroke-width="1.2" />
<line x1="337.7" y1="290.4" x2="337.7" y2="288.5" stroke="#000" stroke-width="1.2" />
<line x1="334.9" y1="288.5" x2="340.5" y2="288.5" stroke="#000" stroke-width="1.2" />
<text x="319.5" y="247.1" font-size="8.5" font-weight="bold" text-anchor="middle" >*</text>
<text x="337.7" y="260.9" font-size="8.5" font-weight="bold" text-anchor="middle" >*</text>
<text x="353.7" y="269.0" font-size="8.5" font-weight="bold" text-anchor="middle" >*</text>
<polyline points="302.7,240.3 319.5,291.2 337.7,304.8 353.7,314.2" fill="none" stroke="#000" stroke-width="1.5" stroke-linejoin="miter" />
<polyline points="302.7,240.3 319.5,286.8 337.7,298.4 353.7,316.5" fill="none" stroke="#000" stroke-width="1.5" stroke-linejoin="miter" />
<polyline points="302.7,240.3 319.5,278.5 337.7,295.6 353.7,308.3" fill="none" stroke="#000" stroke-width="1.5" stroke-linejoin="miter" />
<polyline points="302.7,240.3 319.5,257.6 337.7,272.5 353.7,282.4" fill="none" stroke="#000" stroke-width="1.5" stroke-linejoin="miter" />
<rect x="316.6" y="283.90000000000003" width="5.8" height="5.8" fill="#fff" stroke="#000" stroke-width="1.3" />
<rect x="334.8" y="295.5" width="5.8" height="5.8" fill="#fff" stroke="#000" stroke-width="1.3" />
<rect x="350.8" y="313.6" width="5.8" height="5.8" fill="#fff" stroke="#000" stroke-width="1.3" />
<circle cx="319.5" cy="291.2" r="3.1" fill="#fff" stroke="#000" stroke-width="1.3"/>
<circle cx="337.7" cy="304.8" r="3.1" fill="#fff" stroke="#000" stroke-width="1.3"/>
<circle cx="353.7" cy="314.2" r="3.1" fill="#fff" stroke="#000" stroke-width="1.3"/>
<rect x="316.6" y="254.70000000000002" width="5.8" height="5.8" fill="#8a8a8a" stroke="#000" stroke-width="1.3" />
<rect x="334.8" y="269.6" width="5.8" height="5.8" fill="#8a8a8a" stroke="#000" stroke-width="1.3" />
<rect x="350.8" y="279.5" width="5.8" height="5.8" fill="#8a8a8a" stroke="#000" stroke-width="1.3" />
<circle cx="319.5" cy="278.5" r="3.1" fill="#8a8a8a" stroke="#000" stroke-width="1.3"/>
<circle cx="337.7" cy="295.6" r="3.1" fill="#8a8a8a" stroke="#000" stroke-width="1.3"/>
<circle cx="353.7" cy="308.3" r="3.1" fill="#8a8a8a" stroke="#000" stroke-width="1.3"/>
<rect x="299.8" y="237.4" width="5.8" height="5.8" fill="#8a8a8a" stroke="#000" stroke-width="1.3" />
<circle cx="302.7" cy="240.3" r="3.1" fill="#8a8a8a" stroke="#000" stroke-width="1.3"/>
<rect x="418.3" y="240.4" width="69.09999999999997" height="75.4" fill="none" stroke="#000" stroke-width="1.2" />
<line x1="411.8" y1="240.4" x2="418.3" y2="240.4" stroke="#000" stroke-width="1.2" />
<text x="411.4" y="243.8" font-size="9.3" font-weight="bold" text-anchor="end" letter-spacing="2.3" stroke="#000" stroke-width="0.25">75</text>
<line x1="411.8" y1="265.53333333333336" x2="418.3" y2="265.53333333333336" stroke="#000" stroke-width="1.2" />
<text x="411.4" y="268.93333333333334" font-size="9.3" font-weight="bold" text-anchor="end" letter-spacing="2.3" stroke="#000" stroke-width="0.25">50</text>
<line x1="411.8" y1="290.6666666666667" x2="418.3" y2="290.6666666666667" stroke="#000" stroke-width="1.2" />
<text x="411.4" y="294.06666666666666" font-size="9.3" font-weight="bold" text-anchor="end" letter-spacing="2.3" stroke="#000" stroke-width="0.25">25</text>
<line x1="411.8" y1="315.8" x2="418.3" y2="315.8" stroke="#000" stroke-width="1.2" />
<text x="411.4" y="319.2" font-size="9.3" font-weight="bold" text-anchor="end" letter-spacing="2.3" stroke="#000" stroke-width="0.25">0</text>
<line x1="418.1" y1="315.8" x2="418.1" y2="320.3" stroke="#000" stroke-width="1.2" />
<text x="408.4" y="332.4" font-size="8.6" font-weight="bold" letter-spacing="2.4" stroke="#000" stroke-width="0.25">0.1</text>
<line x1="441.5" y1="315.8" x2="441.5" y2="320.3" stroke="#000" stroke-width="1.2" />
<text x="437.0" y="332.4" font-size="8.6" font-weight="bold" letter-spacing="2.4" stroke="#000" stroke-width="0.25">1</text>
<line x1="464.6" y1="315.8" x2="464.6" y2="320.3" stroke="#000" stroke-width="1.2" />
<text x="458.4" y="332.4" font-size="8.6" font-weight="bold" letter-spacing="2.4" stroke="#000" stroke-width="0.25">10</text>
<line x1="487.7" y1="315.8" x2="487.7" y2="320.3" stroke="#000" stroke-width="1.2" />
<text x="477.6" y="332.4" font-size="8.6" font-weight="bold" letter-spacing="2.4" stroke="#000" stroke-width="0.25">100</text>
<line x1="425.1" y1="255.79999999999998" x2="425.1" y2="248.4" stroke="#000" stroke-width="1.2" />
<line x1="422.3" y1="248.4" x2="427.90000000000003" y2="248.4" stroke="#000" stroke-width="1.2" />
<line x1="425.1" y1="265.0" x2="425.1" y2="272" stroke="#000" stroke-width="1.2" />
<line x1="422.3" y1="272" x2="427.90000000000003" y2="272" stroke="#000" stroke-width="1.2" />
<text x="425.1" y="247.7" font-size="8.5" font-weight="bold" text-anchor="middle" >*</text>
<line x1="441.9" y1="275.09999999999997" x2="441.9" y2="272" stroke="#000" stroke-width="1.2" />
<line x1="439.09999999999997" y1="272" x2="444.7" y2="272" stroke="#000" stroke-width="1.2" />
<line x1="441.9" y1="284.3" x2="441.9" y2="297.6" stroke="#000" stroke-width="1.2" />
<line x1="439.09999999999997" y1="297.6" x2="444.7" y2="297.6" stroke="#000" stroke-width="1.2" />
<line x1="457.9" y1="283.2" x2="457.9" y2="280.6" stroke="#000" stroke-width="1.2" />
<line x1="455.09999999999997" y1="280.6" x2="460.7" y2="280.6" stroke="#000" stroke-width="1.2" />
<line x1="457.9" y1="292.40000000000003" x2="457.9" y2="297.2" stroke="#000" stroke-width="1.2" />
<line x1="455.09999999999997" y1="297.2" x2="460.7" y2="297.2" stroke="#000" stroke-width="1.2" />
<line x1="465.3" y1="293.0" x2="465.3" y2="291.5" stroke="#000" stroke-width="1.2" />
<line x1="462.5" y1="291.5" x2="468.1" y2="291.5" stroke="#000" stroke-width="1.2" />
<line x1="425.1" y1="287.59999999999997" x2="425.1" y2="284" stroke="#000" stroke-width="1.2" />
<line x1="422.3" y1="284" x2="427.90000000000003" y2="284" stroke="#000" stroke-width="1.2" />
<line x1="425.1" y1="296.8" x2="425.1" y2="300.9" stroke="#000" stroke-width="1.2" />
<line x1="422.3" y1="300.9" x2="427.90000000000003" y2="300.9" stroke="#000" stroke-width="1.2" />
<line x1="441.9" y1="294.1" x2="441.9" y2="297.6" stroke="#000" stroke-width="1.2" />
<line x1="439.09999999999997" y1="297.6" x2="444.7" y2="297.6" stroke="#000" stroke-width="1.2" />
<line x1="465.3" y1="308.8" x2="465.3" y2="312.5" stroke="#000" stroke-width="1.2" />
<line x1="462.5" y1="312.5" x2="468.1" y2="312.5" stroke="#000" stroke-width="1.2" />
<polyline points="425.1,260.4 441.9,279.7 457.9,287.8 465.3,297.6" fill="none" stroke="#000" stroke-width="1.5" stroke-linejoin="miter" />
<polyline points="425.1,292.2 441.9,289.5 457.9,290.6 465.3,304.2" fill="none" stroke="#000" stroke-width="1.5" stroke-linejoin="miter" />
<rect x="422.20000000000005" y="257.5" width="5.8" height="5.8" fill="#fff" stroke="#000" stroke-width="1.3" />
<rect x="439.0" y="276.8" width="5.8" height="5.8" fill="#fff" stroke="#000" stroke-width="1.3" />
<rect x="455.0" y="284.90000000000003" width="5.8" height="5.8" fill="#fff" stroke="#000" stroke-width="1.3" />
<rect x="462.40000000000003" y="294.70000000000005" width="5.8" height="5.8" fill="#fff" stroke="#000" stroke-width="1.3" />
<circle cx="425.1" cy="292.2" r="3.1" fill="#fff" stroke="#000" stroke-width="1.3"/>
<circle cx="441.9" cy="289.5" r="3.1" fill="#fff" stroke="#000" stroke-width="1.3"/>
<circle cx="457.9" cy="290.6" r="3.1" fill="#fff" stroke="#000" stroke-width="1.3"/>
<circle cx="465.3" cy="304.2" r="3.1" fill="#fff" stroke="#000" stroke-width="1.3"/>
<text x="317" y="354.8" font-size="9.8" font-weight="bold" stroke="#000" stroke-width="0.2" textLength="42.2" lengthAdjust="spacing" xml:space="preserve">Time  (d)</text>
<text x="417.5" y="354.6" font-size="9.8" font-weight="bold" stroke="#000" stroke-width="0.2" textLength="75" lengthAdjust="spacing" xml:space="preserve">KN93  ( &#956;g/mL)</text>
<line x1="289.5" y1="381.8" x2="328.8" y2="381.8" stroke="#000" stroke-width="1.3" />
<circle cx="309.2" cy="381.8" r="3.1" fill="#8a8a8a" stroke="#000" stroke-width="1.3"/>
<text x="341.8" y="385" font-size="10.2" font-weight="bold" stroke="#000" stroke-width="0.3" textLength="27.7" lengthAdjust="spacing">None</text>
<line x1="289.5" y1="397.5" x2="328.8" y2="397.5" stroke="#000" stroke-width="1.3" />
<rect x="306.3" y="394.6" width="5.8" height="5.8" fill="#8a8a8a" stroke="#000" stroke-width="1.3" />
<text x="341.8" y="400.6" font-size="10.2" font-weight="bold" stroke="#000" stroke-width="0.3" textLength="21.5" lengthAdjust="spacing">LPS</text>
<line x1="408.8" y1="381.8" x2="448.3" y2="381.8" stroke="#000" stroke-width="1.3" />
<circle cx="429.2" cy="381.8" r="3.1" fill="#fff" stroke="#000" stroke-width="1.3"/>
<text x="461.2" y="385" font-size="10.2" font-weight="bold" stroke="#000" stroke-width="0.3" textLength="28.8" lengthAdjust="spacing">KN93</text>
<line x1="408.8" y1="397.5" x2="448.3" y2="397.5" stroke="#000" stroke-width="1.3" />
<rect x="426.3" y="394.6" width="5.8" height="5.8" fill="#fff" stroke="#000" stroke-width="1.3" />
<text x="461.2" y="400.6" font-size="10.2" font-weight="bold" stroke="#000" stroke-width="0.3" textLength="54.5" lengthAdjust="spacing" xml:space="preserve">LPS  KN93</text>
</svg>
</body></html>
